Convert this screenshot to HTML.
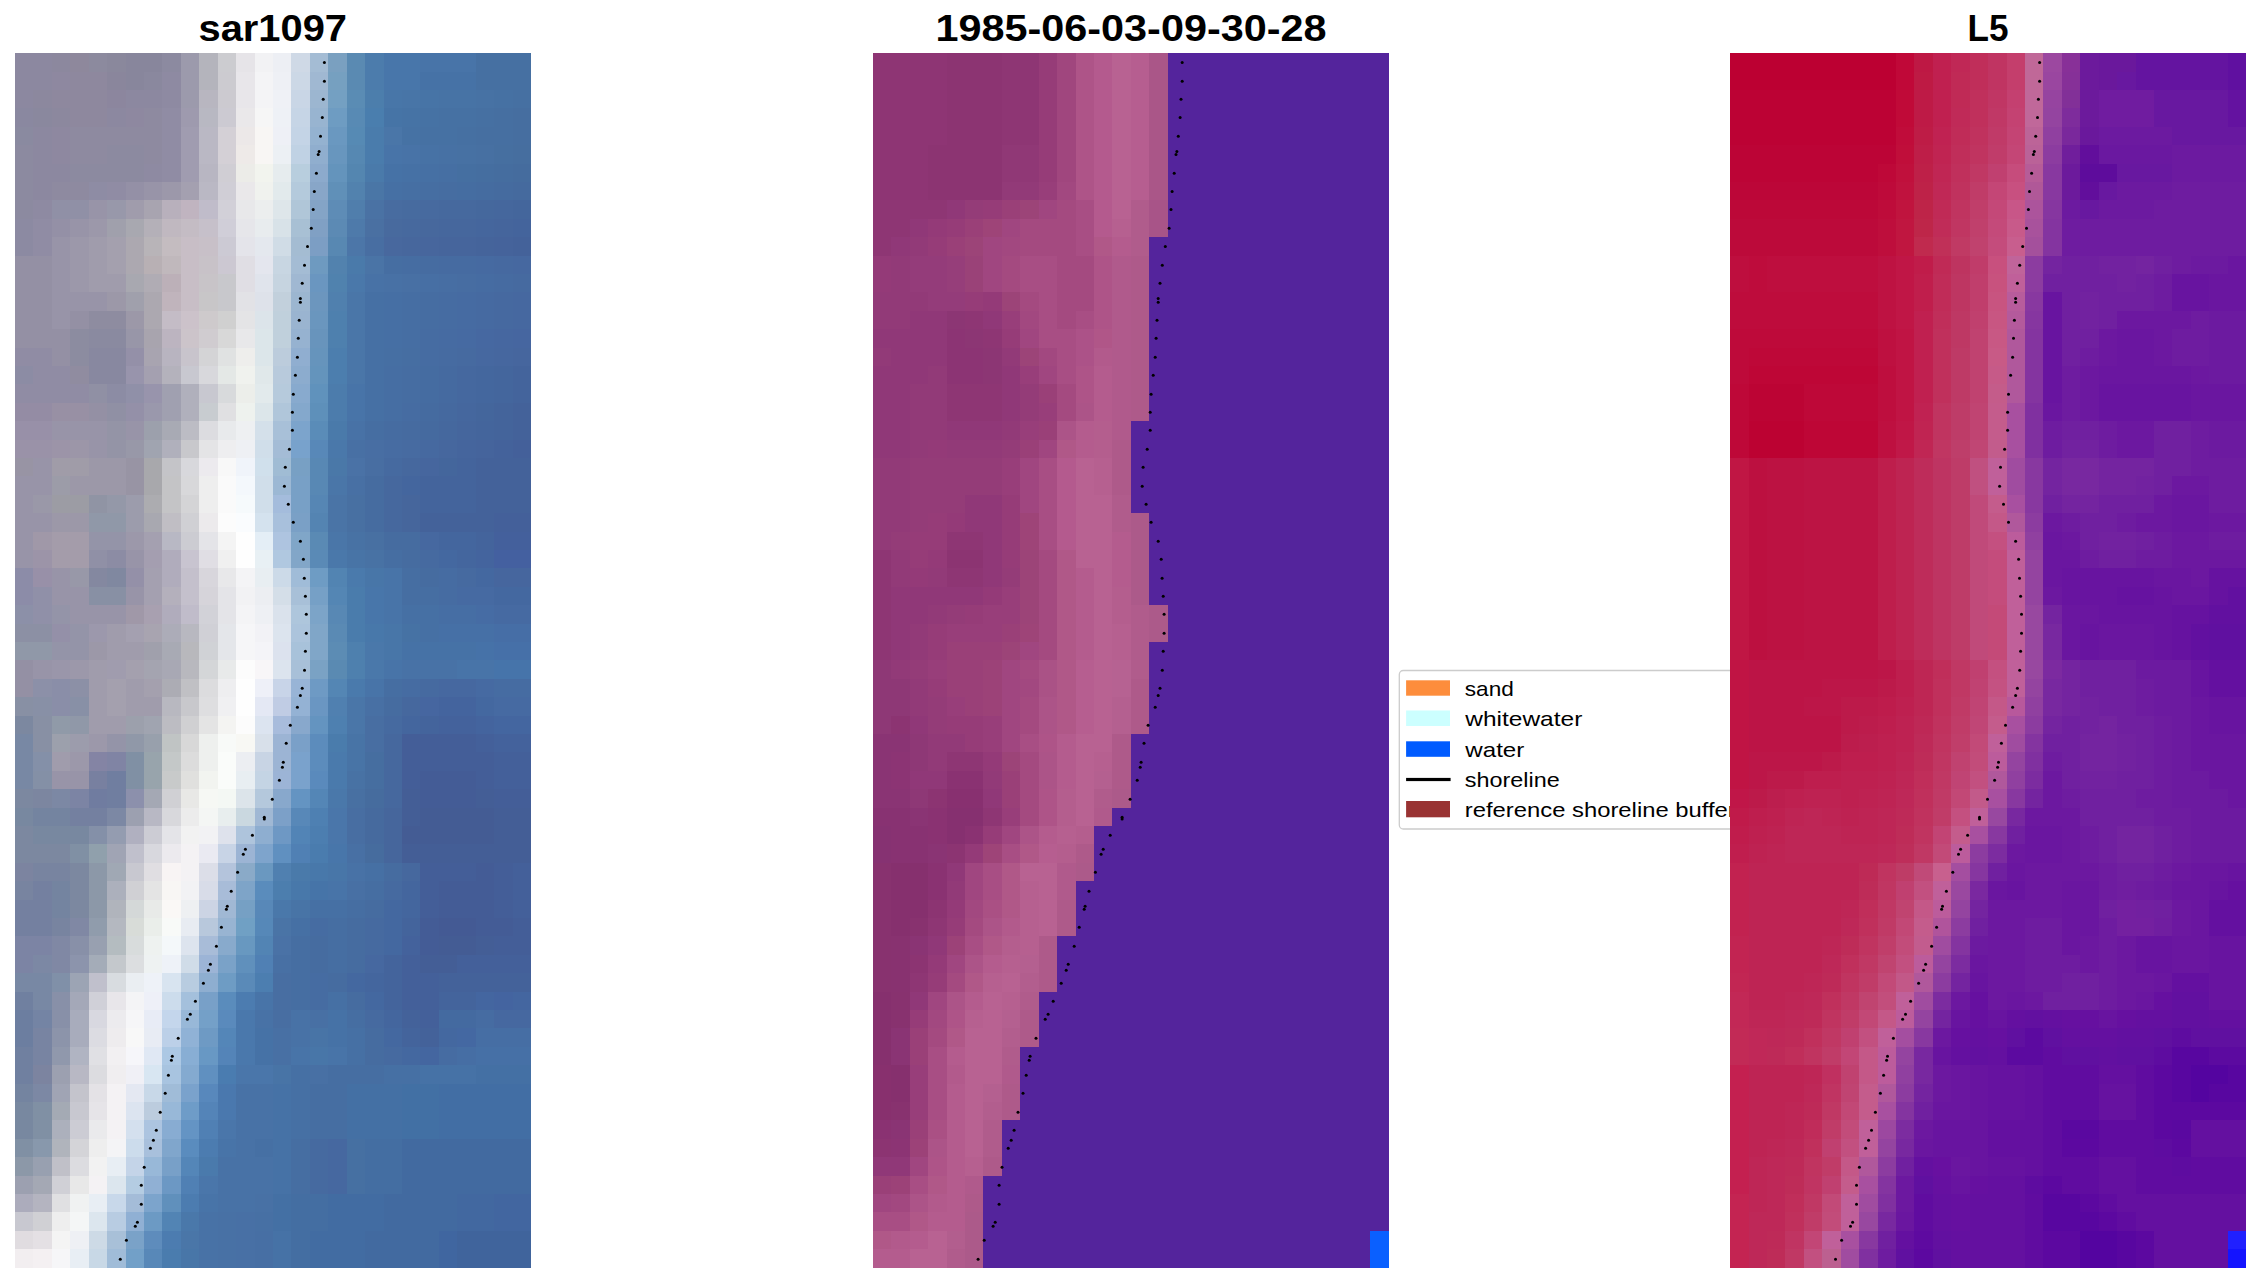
<!DOCTYPE html>
<html><head><meta charset="utf-8"><style>
html,body{margin:0;padding:0;background:#fff;width:2260px;height:1283px;overflow:hidden}
svg{display:block}
text{font-family:"Liberation Sans",sans-serif}
</style></head><body>
<svg width="2260" height="1283" viewBox="0 0 2260 1283">
<rect width="2260" height="1283" fill="#fff"/>
<text x="198.5" y="41.2" font-size="36" font-weight="bold" textLength="148.5" lengthAdjust="spacingAndGlyphs">sar1097</text>
<text x="935.5" y="41.3" font-size="36" font-weight="bold" textLength="391" lengthAdjust="spacingAndGlyphs">1985-06-03-09-30-28</text>
<text x="1967.5" y="40.8" font-size="36" font-weight="bold" textLength="41" lengthAdjust="spacingAndGlyphs">L5</text>
<g>
<rect x="1399.3" y="670.5" width="400" height="158.5" rx="4" ry="4" fill="#fff" fill-opacity="0.8" stroke="#cccccc" stroke-width="1.3"/>
<rect x="1406.1" y="680.3" width="43.9" height="15.4" fill="#fd8d3c"/>
<rect x="1406.1" y="710.5" width="43.9" height="15.5" fill="#ccffff"/>
<rect x="1406.1" y="741.3" width="43.9" height="15.5" fill="#005bff"/>
<rect x="1406.1" y="777.9" width="44.5" height="3.2" fill="#000"/>
<rect x="1406.1" y="801" width="43.9" height="16.3" fill="#993333"/>
<g font-size="21">
<text x="1464.8" y="695.7" textLength="49" lengthAdjust="spacingAndGlyphs">sand</text>
<text x="1465.3" y="726" textLength="117" lengthAdjust="spacingAndGlyphs">whitewater</text>
<text x="1465.3" y="756.8" textLength="59" lengthAdjust="spacingAndGlyphs">water</text>
<text x="1464.8" y="787" textLength="95" lengthAdjust="spacingAndGlyphs">shoreline</text>
<text x="1464.8" y="817.3" textLength="271" lengthAdjust="spacingAndGlyphs">reference shoreline buffer</text>
</g>
</g>
<g transform="translate(15.0,53.2) scale(18.428571428571427,18.400000000000002)" shape-rendering="crispEdges"><rect x="0" y="0" width="2" height="1" fill="#8c88a0"/><rect x="2" y="0" width="1" height="1" fill="#8c889e"/><rect x="3" y="0" width="1" height="1" fill="#8e889c"/><rect x="4" y="0" width="1" height="1" fill="#8c8a9e"/><rect x="5" y="0" width="1" height="1" fill="#8a889c"/><rect x="6" y="0" width="2" height="1" fill="#88869c"/><rect x="8" y="0" width="1" height="1" fill="#8c8aa0"/><rect x="9" y="0" width="1" height="1" fill="#9c9aac"/><rect x="10" y="0" width="1" height="1" fill="#b4b4bc"/><rect x="11" y="0" width="1" height="1" fill="#ccccd0"/><rect x="12" y="0" width="1" height="1" fill="#e6e4e8"/><rect x="13" y="0" width="1" height="1" fill="#f2f2f4"/><rect x="14" y="0" width="1" height="1" fill="#edeff4"/><rect x="15" y="0" width="1" height="1" fill="#cfd9e6"/><rect x="16" y="0" width="1" height="1" fill="#a4bcd4"/><rect x="17" y="0" width="1" height="1" fill="#7aa0c0"/><rect x="18" y="0" width="1" height="1" fill="#5a8ab2"/><rect x="19" y="0" width="1" height="1" fill="#4c7cac"/><rect x="20" y="0" width="2" height="1" fill="#4876aa"/><rect x="22" y="0" width="3" height="1" fill="#4874a8"/><rect x="25" y="0" width="3" height="1" fill="#4670a2"/><rect x="0" y="1" width="2" height="1" fill="#8c88a0"/><rect x="2" y="1" width="1" height="1" fill="#8e88a0"/><rect x="3" y="1" width="2" height="1" fill="#8e889e"/><rect x="5" y="1" width="1" height="1" fill="#8a869c"/><rect x="6" y="1" width="1" height="1" fill="#88869c"/><rect x="7" y="1" width="1" height="1" fill="#8a889e"/><rect x="8" y="1" width="1" height="1" fill="#8e8aa2"/><rect x="9" y="1" width="1" height="1" fill="#9c9aac"/><rect x="10" y="1" width="1" height="1" fill="#b4b4bc"/><rect x="11" y="1" width="1" height="1" fill="#cccbd0"/><rect x="12" y="1" width="1" height="1" fill="#e8e6ea"/><rect x="13" y="1" width="1" height="1" fill="#f4f4f6"/><rect x="14" y="1" width="1" height="1" fill="#eef0f5"/><rect x="15" y="1" width="1" height="1" fill="#ccd8e6"/><rect x="16" y="1" width="1" height="1" fill="#a0b8d2"/><rect x="17" y="1" width="1" height="1" fill="#76a0c0"/><rect x="18" y="1" width="1" height="1" fill="#5a8ab2"/><rect x="19" y="1" width="1" height="1" fill="#4c7cac"/><rect x="20" y="1" width="2" height="1" fill="#4876aa"/><rect x="22" y="1" width="3" height="1" fill="#4672a6"/><rect x="25" y="1" width="3" height="1" fill="#4670a2"/><rect x="0" y="2" width="1" height="1" fill="#8c88a0"/><rect x="1" y="2" width="1" height="1" fill="#8c889e"/><rect x="2" y="2" width="3" height="1" fill="#8e889e"/><rect x="5" y="2" width="1" height="1" fill="#8c869e"/><rect x="6" y="2" width="2" height="1" fill="#8c88a0"/><rect x="8" y="2" width="1" height="1" fill="#8e8aa2"/><rect x="9" y="2" width="1" height="1" fill="#9c9aac"/><rect x="10" y="2" width="1" height="1" fill="#b8b6c0"/><rect x="11" y="2" width="1" height="1" fill="#cccad0"/><rect x="12" y="2" width="1" height="1" fill="#e8e6ea"/><rect x="13" y="2" width="1" height="1" fill="#f4f4f6"/><rect x="14" y="2" width="1" height="1" fill="#eff1f6"/><rect x="15" y="2" width="1" height="1" fill="#c9d6e6"/><rect x="16" y="2" width="1" height="1" fill="#9cb6d0"/><rect x="17" y="2" width="1" height="1" fill="#74a0c2"/><rect x="18" y="2" width="1" height="1" fill="#5a8cb4"/><rect x="19" y="2" width="1" height="1" fill="#4c7eac"/><rect x="20" y="2" width="1" height="1" fill="#4876a8"/><rect x="21" y="2" width="1" height="1" fill="#4875a7"/><rect x="22" y="2" width="1" height="1" fill="#4774a6"/><rect x="23" y="2" width="2" height="1" fill="#4773a5"/><rect x="25" y="2" width="1" height="1" fill="#4772a4"/><rect x="26" y="2" width="1" height="1" fill="#4671a3"/><rect x="27" y="2" width="1" height="1" fill="#4670a2"/><rect x="0" y="3" width="1" height="1" fill="#8a88a0"/><rect x="1" y="3" width="1" height="1" fill="#8a889e"/><rect x="2" y="3" width="1" height="1" fill="#8c889e"/><rect x="3" y="3" width="2" height="1" fill="#8e889e"/><rect x="5" y="3" width="1" height="1" fill="#8c88a0"/><rect x="6" y="3" width="1" height="1" fill="#8e88a0"/><rect x="7" y="3" width="1" height="1" fill="#8e8aa0"/><rect x="8" y="3" width="1" height="1" fill="#908ca4"/><rect x="9" y="3" width="1" height="1" fill="#9e9aae"/><rect x="10" y="3" width="1" height="1" fill="#b8b8c2"/><rect x="11" y="3" width="1" height="1" fill="#cccad2"/><rect x="12" y="3" width="1" height="1" fill="#eae8ea"/><rect x="13" y="3" width="1" height="1" fill="#f6f6f6"/><rect x="14" y="3" width="1" height="1" fill="#eef1f6"/><rect x="15" y="3" width="1" height="1" fill="#c6d5e6"/><rect x="16" y="3" width="1" height="1" fill="#98b4d0"/><rect x="17" y="3" width="1" height="1" fill="#6e9cc2"/><rect x="18" y="3" width="1" height="1" fill="#588ab4"/><rect x="19" y="3" width="1" height="1" fill="#4a7eae"/><rect x="20" y="3" width="1" height="1" fill="#4674a6"/><rect x="21" y="3" width="1" height="1" fill="#4673a5"/><rect x="22" y="3" width="1" height="1" fill="#4672a4"/><rect x="23" y="3" width="2" height="1" fill="#4671a3"/><rect x="25" y="3" width="1" height="1" fill="#4670a2"/><rect x="26" y="3" width="1" height="1" fill="#466fa1"/><rect x="27" y="3" width="1" height="1" fill="#466ea0"/><rect x="0" y="4" width="1" height="1" fill="#8a8aa0"/><rect x="1" y="4" width="1" height="1" fill="#8c88a0"/><rect x="2" y="4" width="1" height="1" fill="#8e88a0"/><rect x="3" y="4" width="5" height="1" fill="#8e8aa0"/><rect x="8" y="4" width="1" height="1" fill="#908ca4"/><rect x="9" y="4" width="1" height="1" fill="#a09cb0"/><rect x="10" y="4" width="1" height="1" fill="#bab8c4"/><rect x="11" y="4" width="1" height="1" fill="#d4d0d6"/><rect x="12" y="4" width="1" height="1" fill="#ece8e8"/><rect x="13" y="4" width="1" height="1" fill="#f8f6f4"/><rect x="14" y="4" width="1" height="1" fill="#eef0f6"/><rect x="15" y="4" width="1" height="1" fill="#c4d4e6"/><rect x="16" y="4" width="1" height="1" fill="#94b2d0"/><rect x="17" y="4" width="1" height="1" fill="#6a98c0"/><rect x="18" y="4" width="1" height="1" fill="#568ab4"/><rect x="19" y="4" width="1" height="1" fill="#4a7cac"/><rect x="20" y="4" width="1" height="1" fill="#4a76a8"/><rect x="21" y="4" width="1" height="1" fill="#4672a4"/><rect x="22" y="4" width="2" height="1" fill="#4671a3"/><rect x="24" y="4" width="1" height="1" fill="#4670a2"/><rect x="25" y="4" width="2" height="1" fill="#466fa1"/><rect x="27" y="4" width="1" height="1" fill="#466ea0"/><rect x="0" y="5" width="1" height="1" fill="#8c8aa0"/><rect x="1" y="5" width="1" height="1" fill="#8c88a0"/><rect x="2" y="5" width="1" height="1" fill="#8e88a0"/><rect x="3" y="5" width="2" height="1" fill="#8e8aa0"/><rect x="5" y="5" width="2" height="1" fill="#8c8aa0"/><rect x="7" y="5" width="1" height="1" fill="#8e8aa0"/><rect x="8" y="5" width="1" height="1" fill="#908ca4"/><rect x="9" y="5" width="1" height="1" fill="#a09cb0"/><rect x="10" y="5" width="1" height="1" fill="#bab8c4"/><rect x="11" y="5" width="1" height="1" fill="#d4d0d6"/><rect x="12" y="5" width="1" height="1" fill="#eeeae8"/><rect x="13" y="5" width="1" height="1" fill="#f8f6f4"/><rect x="14" y="5" width="1" height="1" fill="#ecf0f4"/><rect x="15" y="5" width="1" height="1" fill="#c0d2e4"/><rect x="16" y="5" width="1" height="1" fill="#90aece"/><rect x="17" y="5" width="1" height="1" fill="#6896be"/><rect x="18" y="5" width="1" height="1" fill="#5688b2"/><rect x="19" y="5" width="1" height="1" fill="#4a7cac"/><rect x="20" y="5" width="1" height="1" fill="#4874a8"/><rect x="21" y="5" width="1" height="1" fill="#4873a7"/><rect x="22" y="5" width="1" height="1" fill="#4772a5"/><rect x="23" y="5" width="1" height="1" fill="#4771a4"/><rect x="24" y="5" width="1" height="1" fill="#4771a3"/><rect x="25" y="5" width="1" height="1" fill="#4770a2"/><rect x="26" y="5" width="1" height="1" fill="#466fa0"/><rect x="27" y="5" width="1" height="1" fill="#466e9f"/><rect x="0" y="6" width="1" height="1" fill="#8c8aa0"/><rect x="1" y="6" width="2" height="1" fill="#8c88a0"/><rect x="3" y="6" width="4" height="1" fill="#8c8aa0"/><rect x="7" y="6" width="1" height="1" fill="#8e8aa2"/><rect x="8" y="6" width="1" height="1" fill="#908ca4"/><rect x="9" y="6" width="1" height="1" fill="#a09cb0"/><rect x="10" y="6" width="1" height="1" fill="#b8b6c2"/><rect x="11" y="6" width="1" height="1" fill="#d0ced4"/><rect x="12" y="6" width="1" height="1" fill="#ecece8"/><rect x="13" y="6" width="1" height="1" fill="#f2f4ee"/><rect x="14" y="6" width="1" height="1" fill="#e6ecee"/><rect x="15" y="6" width="1" height="1" fill="#b8cede"/><rect x="16" y="6" width="1" height="1" fill="#8caacc"/><rect x="17" y="6" width="1" height="1" fill="#6494bc"/><rect x="18" y="6" width="1" height="1" fill="#5486b0"/><rect x="19" y="6" width="1" height="1" fill="#4a7aaa"/><rect x="20" y="6" width="1" height="1" fill="#4672a6"/><rect x="21" y="6" width="1" height="1" fill="#4671a5"/><rect x="22" y="6" width="1" height="1" fill="#4670a4"/><rect x="23" y="6" width="1" height="1" fill="#466fa3"/><rect x="24" y="6" width="1" height="1" fill="#456fa1"/><rect x="25" y="6" width="1" height="1" fill="#456ea0"/><rect x="26" y="6" width="1" height="1" fill="#456d9f"/><rect x="27" y="6" width="1" height="1" fill="#456c9e"/><rect x="0" y="7" width="1" height="1" fill="#8c8aa0"/><rect x="1" y="7" width="1" height="1" fill="#8c88a0"/><rect x="2" y="7" width="2" height="1" fill="#8e8aa0"/><rect x="4" y="7" width="1" height="1" fill="#8e8ca4"/><rect x="5" y="7" width="1" height="1" fill="#908ca4"/><rect x="6" y="7" width="1" height="1" fill="#9490a6"/><rect x="7" y="7" width="1" height="1" fill="#9894a8"/><rect x="8" y="7" width="1" height="1" fill="#9c98aa"/><rect x="9" y="7" width="1" height="1" fill="#a4a0b0"/><rect x="10" y="7" width="1" height="1" fill="#bab8c4"/><rect x="11" y="7" width="1" height="1" fill="#d0ced6"/><rect x="12" y="7" width="1" height="1" fill="#eae8ea"/><rect x="13" y="7" width="1" height="1" fill="#f0f2ee"/><rect x="14" y="7" width="1" height="1" fill="#e2eaec"/><rect x="15" y="7" width="1" height="1" fill="#b4cadc"/><rect x="16" y="7" width="1" height="1" fill="#88a6c8"/><rect x="17" y="7" width="1" height="1" fill="#6090b8"/><rect x="18" y="7" width="1" height="1" fill="#5282ae"/><rect x="19" y="7" width="1" height="1" fill="#4a76a6"/><rect x="20" y="7" width="1" height="1" fill="#4670a4"/><rect x="21" y="7" width="1" height="1" fill="#466fa3"/><rect x="22" y="7" width="1" height="1" fill="#466ea2"/><rect x="23" y="7" width="1" height="1" fill="#466da1"/><rect x="24" y="7" width="1" height="1" fill="#456da1"/><rect x="25" y="7" width="1" height="1" fill="#456ca0"/><rect x="26" y="7" width="1" height="1" fill="#456b9f"/><rect x="27" y="7" width="1" height="1" fill="#456a9e"/><rect x="0" y="8" width="1" height="1" fill="#8c8aa0"/><rect x="1" y="8" width="1" height="1" fill="#8e8aa2"/><rect x="2" y="8" width="2" height="1" fill="#9090a6"/><rect x="4" y="8" width="1" height="1" fill="#9894a8"/><rect x="5" y="8" width="1" height="1" fill="#9898aa"/><rect x="6" y="8" width="1" height="1" fill="#a09cac"/><rect x="7" y="8" width="1" height="1" fill="#a8a4b0"/><rect x="8" y="8" width="1" height="1" fill="#b8b0bc"/><rect x="9" y="8" width="1" height="1" fill="#c0b4c0"/><rect x="10" y="8" width="1" height="1" fill="#c0bcca"/><rect x="11" y="8" width="1" height="1" fill="#d2d0d8"/><rect x="12" y="8" width="1" height="1" fill="#e8e8ea"/><rect x="13" y="8" width="1" height="1" fill="#eceeee"/><rect x="14" y="8" width="1" height="1" fill="#dee6ea"/><rect x="15" y="8" width="1" height="1" fill="#b0c6d8"/><rect x="16" y="8" width="1" height="1" fill="#84a4c6"/><rect x="17" y="8" width="1" height="1" fill="#5e8cb6"/><rect x="18" y="8" width="1" height="1" fill="#507eac"/><rect x="19" y="8" width="1" height="1" fill="#4a72a4"/><rect x="20" y="8" width="1" height="1" fill="#486ca0"/><rect x="21" y="8" width="1" height="1" fill="#476b9f"/><rect x="22" y="8" width="1" height="1" fill="#476a9f"/><rect x="23" y="8" width="2" height="1" fill="#46699e"/><rect x="25" y="8" width="1" height="1" fill="#45689d"/><rect x="26" y="8" width="1" height="1" fill="#45679d"/><rect x="27" y="8" width="1" height="1" fill="#44669c"/><rect x="0" y="9" width="1" height="1" fill="#8c8aa2"/><rect x="1" y="9" width="1" height="1" fill="#908ca4"/><rect x="2" y="9" width="1" height="1" fill="#9490a6"/><rect x="3" y="9" width="1" height="1" fill="#9894a8"/><rect x="4" y="9" width="1" height="1" fill="#9c98aa"/><rect x="5" y="9" width="1" height="1" fill="#a0a0ac"/><rect x="6" y="9" width="1" height="1" fill="#a8a8b0"/><rect x="7" y="9" width="1" height="1" fill="#b4b0b8"/><rect x="8" y="9" width="1" height="1" fill="#c0b8c0"/><rect x="9" y="9" width="1" height="1" fill="#c4bcc4"/><rect x="10" y="9" width="1" height="1" fill="#c6c0ca"/><rect x="11" y="9" width="1" height="1" fill="#d0ced8"/><rect x="12" y="9" width="1" height="1" fill="#e6e6ea"/><rect x="13" y="9" width="1" height="1" fill="#e8ecee"/><rect x="14" y="9" width="1" height="1" fill="#d8e2e8"/><rect x="15" y="9" width="1" height="1" fill="#a8c0d4"/><rect x="16" y="9" width="1" height="1" fill="#80a0c4"/><rect x="17" y="9" width="1" height="1" fill="#5c8ab4"/><rect x="18" y="9" width="1" height="1" fill="#4e7aaa"/><rect x="19" y="9" width="1" height="1" fill="#4a70a2"/><rect x="20" y="9" width="1" height="1" fill="#486a9e"/><rect x="21" y="9" width="1" height="1" fill="#47699e"/><rect x="22" y="9" width="1" height="1" fill="#47689d"/><rect x="23" y="9" width="2" height="1" fill="#46679d"/><rect x="25" y="9" width="1" height="1" fill="#45669d"/><rect x="26" y="9" width="1" height="1" fill="#45659c"/><rect x="27" y="9" width="1" height="1" fill="#44649c"/><rect x="0" y="10" width="1" height="1" fill="#8c8aa2"/><rect x="1" y="10" width="1" height="1" fill="#908ca4"/><rect x="2" y="10" width="1" height="1" fill="#9894a8"/><rect x="3" y="10" width="1" height="1" fill="#9c98aa"/><rect x="4" y="10" width="1" height="1" fill="#a09cac"/><rect x="5" y="10" width="1" height="1" fill="#a4a0ae"/><rect x="6" y="10" width="1" height="1" fill="#aca8b0"/><rect x="7" y="10" width="1" height="1" fill="#b8b4b8"/><rect x="8" y="10" width="1" height="1" fill="#c4bcc0"/><rect x="9" y="10" width="1" height="1" fill="#c8bec6"/><rect x="10" y="10" width="1" height="1" fill="#c8c0c8"/><rect x="11" y="10" width="1" height="1" fill="#cccad4"/><rect x="12" y="10" width="1" height="1" fill="#e4e4ea"/><rect x="13" y="10" width="1" height="1" fill="#e4e8ee"/><rect x="14" y="10" width="1" height="1" fill="#d0dce6"/><rect x="15" y="10" width="1" height="1" fill="#a4bcd2"/><rect x="16" y="10" width="1" height="1" fill="#7c9ec4"/><rect x="17" y="10" width="1" height="1" fill="#5888b2"/><rect x="18" y="10" width="1" height="1" fill="#4c76a8"/><rect x="19" y="10" width="1" height="1" fill="#486ea2"/><rect x="20" y="10" width="1" height="1" fill="#48689e"/><rect x="21" y="10" width="1" height="1" fill="#47679d"/><rect x="22" y="10" width="1" height="1" fill="#47669d"/><rect x="23" y="10" width="2" height="1" fill="#46659c"/><rect x="25" y="10" width="1" height="1" fill="#45649b"/><rect x="26" y="10" width="1" height="1" fill="#45639b"/><rect x="27" y="10" width="1" height="1" fill="#44629a"/><rect x="0" y="11" width="2" height="1" fill="#9490a4"/><rect x="2" y="11" width="1" height="1" fill="#9894a8"/><rect x="3" y="11" width="1" height="1" fill="#9c98aa"/><rect x="4" y="11" width="1" height="1" fill="#a09cac"/><rect x="5" y="11" width="1" height="1" fill="#a4a0ae"/><rect x="6" y="11" width="1" height="1" fill="#aca8b0"/><rect x="7" y="11" width="1" height="1" fill="#b8b0b4"/><rect x="8" y="11" width="1" height="1" fill="#c0b8bc"/><rect x="9" y="11" width="1" height="1" fill="#c8bec6"/><rect x="10" y="11" width="1" height="1" fill="#c8c2c8"/><rect x="11" y="11" width="1" height="1" fill="#ccc8d2"/><rect x="12" y="11" width="1" height="1" fill="#e0dee4"/><rect x="13" y="11" width="1" height="1" fill="#e4e6ee"/><rect x="14" y="11" width="1" height="1" fill="#c8d6e2"/><rect x="15" y="11" width="1" height="1" fill="#a4bcd4"/><rect x="16" y="11" width="1" height="1" fill="#6e9ac0"/><rect x="17" y="11" width="1" height="1" fill="#5282ae"/><rect x="18" y="11" width="1" height="1" fill="#4a7aaa"/><rect x="19" y="11" width="1" height="1" fill="#4a74a6"/><rect x="20" y="11" width="1" height="1" fill="#466ea2"/><rect x="21" y="11" width="1" height="1" fill="#466da2"/><rect x="22" y="11" width="1" height="1" fill="#466ca1"/><rect x="23" y="11" width="2" height="1" fill="#466ba1"/><rect x="25" y="11" width="1" height="1" fill="#466aa1"/><rect x="26" y="11" width="1" height="1" fill="#4669a0"/><rect x="27" y="11" width="1" height="1" fill="#4668a0"/><rect x="0" y="12" width="2" height="1" fill="#9490a4"/><rect x="2" y="12" width="1" height="1" fill="#9894a8"/><rect x="3" y="12" width="1" height="1" fill="#9c98aa"/><rect x="4" y="12" width="2" height="1" fill="#a09cac"/><rect x="6" y="12" width="1" height="1" fill="#a8a8b0"/><rect x="7" y="12" width="1" height="1" fill="#b0acb4"/><rect x="8" y="12" width="1" height="1" fill="#bcb0b8"/><rect x="9" y="12" width="1" height="1" fill="#c8bec6"/><rect x="10" y="12" width="1" height="1" fill="#c8c4c8"/><rect x="11" y="12" width="1" height="1" fill="#c8c8cc"/><rect x="12" y="12" width="1" height="1" fill="#e0dee4"/><rect x="13" y="12" width="1" height="1" fill="#e0e4ec"/><rect x="14" y="12" width="1" height="1" fill="#c6d4e0"/><rect x="15" y="12" width="1" height="1" fill="#a0b8d2"/><rect x="16" y="12" width="1" height="1" fill="#6a96c0"/><rect x="17" y="12" width="1" height="1" fill="#5082ae"/><rect x="18" y="12" width="1" height="1" fill="#4a78aa"/><rect x="19" y="12" width="1" height="1" fill="#4872a6"/><rect x="20" y="12" width="1" height="1" fill="#4871a5"/><rect x="21" y="12" width="1" height="1" fill="#4870a4"/><rect x="22" y="12" width="1" height="1" fill="#476fa4"/><rect x="23" y="12" width="1" height="1" fill="#476ea3"/><rect x="24" y="12" width="1" height="1" fill="#476da2"/><rect x="25" y="12" width="1" height="1" fill="#466ca2"/><rect x="26" y="12" width="1" height="1" fill="#466ba1"/><rect x="27" y="12" width="1" height="1" fill="#466aa0"/><rect x="0" y="13" width="2" height="1" fill="#9490a4"/><rect x="2" y="13" width="3" height="1" fill="#9894a8"/><rect x="5" y="13" width="1" height="1" fill="#9c98a8"/><rect x="6" y="13" width="1" height="1" fill="#a0a0ac"/><rect x="7" y="13" width="1" height="1" fill="#aca8b0"/><rect x="8" y="13" width="1" height="1" fill="#c0b4bc"/><rect x="9" y="13" width="1" height="1" fill="#c8bec6"/><rect x="10" y="13" width="1" height="1" fill="#c8c6c8"/><rect x="11" y="13" width="1" height="1" fill="#c8c8cc"/><rect x="12" y="13" width="1" height="1" fill="#e2e2e6"/><rect x="13" y="13" width="1" height="1" fill="#dee2ea"/><rect x="14" y="13" width="1" height="1" fill="#c2d0dc"/><rect x="15" y="13" width="1" height="1" fill="#9cb6d0"/><rect x="16" y="13" width="1" height="1" fill="#6c96be"/><rect x="17" y="13" width="1" height="1" fill="#5080ae"/><rect x="18" y="13" width="1" height="1" fill="#4a76a8"/><rect x="19" y="13" width="1" height="1" fill="#4670a4"/><rect x="20" y="13" width="1" height="1" fill="#466fa4"/><rect x="21" y="13" width="1" height="1" fill="#466ea3"/><rect x="22" y="13" width="1" height="1" fill="#466da2"/><rect x="23" y="13" width="1" height="1" fill="#466ca2"/><rect x="24" y="13" width="1" height="1" fill="#466ba2"/><rect x="25" y="13" width="1" height="1" fill="#466aa1"/><rect x="26" y="13" width="1" height="1" fill="#4669a0"/><rect x="27" y="13" width="1" height="1" fill="#4668a0"/><rect x="0" y="14" width="2" height="1" fill="#9490a4"/><rect x="2" y="14" width="1" height="1" fill="#9894a8"/><rect x="3" y="14" width="1" height="1" fill="#9490a4"/><rect x="4" y="14" width="2" height="1" fill="#8e8ca0"/><rect x="6" y="14" width="1" height="1" fill="#9c98a8"/><rect x="7" y="14" width="1" height="1" fill="#aca8b0"/><rect x="8" y="14" width="1" height="1" fill="#c4bcc6"/><rect x="9" y="14" width="1" height="1" fill="#ccc2ca"/><rect x="10" y="14" width="1" height="1" fill="#cecacc"/><rect x="11" y="14" width="1" height="1" fill="#d0d0d0"/><rect x="12" y="14" width="1" height="1" fill="#e4e4e6"/><rect x="13" y="14" width="1" height="1" fill="#dce4ea"/><rect x="14" y="14" width="1" height="1" fill="#c0d0dc"/><rect x="15" y="14" width="1" height="1" fill="#9ab4d0"/><rect x="16" y="14" width="1" height="1" fill="#6a96be"/><rect x="17" y="14" width="1" height="1" fill="#4e80ae"/><rect x="18" y="14" width="1" height="1" fill="#4a76a8"/><rect x="19" y="14" width="1" height="1" fill="#4670a4"/><rect x="20" y="14" width="1" height="1" fill="#466fa4"/><rect x="21" y="14" width="1" height="1" fill="#466ea3"/><rect x="22" y="14" width="1" height="1" fill="#466da2"/><rect x="23" y="14" width="1" height="1" fill="#466ca2"/><rect x="24" y="14" width="1" height="1" fill="#466ba2"/><rect x="25" y="14" width="1" height="1" fill="#466aa1"/><rect x="26" y="14" width="1" height="1" fill="#4669a0"/><rect x="27" y="14" width="1" height="1" fill="#4668a0"/><rect x="0" y="15" width="3" height="1" fill="#9490a4"/><rect x="3" y="15" width="1" height="1" fill="#8c8ca0"/><rect x="4" y="15" width="2" height="1" fill="#8a8aa0"/><rect x="6" y="15" width="1" height="1" fill="#9896a8"/><rect x="7" y="15" width="1" height="1" fill="#a8a4ae"/><rect x="8" y="15" width="1" height="1" fill="#bcb4c0"/><rect x="9" y="15" width="1" height="1" fill="#ccc4ca"/><rect x="10" y="15" width="1" height="1" fill="#d0ccd0"/><rect x="11" y="15" width="1" height="1" fill="#d8d8d8"/><rect x="12" y="15" width="1" height="1" fill="#e8e8ea"/><rect x="13" y="15" width="1" height="1" fill="#dce6ea"/><rect x="14" y="15" width="1" height="1" fill="#c0d0dc"/><rect x="15" y="15" width="1" height="1" fill="#96b2d0"/><rect x="16" y="15" width="1" height="1" fill="#6894bc"/><rect x="17" y="15" width="1" height="1" fill="#4e80ae"/><rect x="18" y="15" width="1" height="1" fill="#4a76a8"/><rect x="19" y="15" width="1" height="1" fill="#4670a4"/><rect x="20" y="15" width="1" height="1" fill="#466fa4"/><rect x="21" y="15" width="1" height="1" fill="#466ea3"/><rect x="22" y="15" width="1" height="1" fill="#466ca2"/><rect x="23" y="15" width="1" height="1" fill="#466ba2"/><rect x="24" y="15" width="1" height="1" fill="#466aa2"/><rect x="25" y="15" width="1" height="1" fill="#4668a1"/><rect x="26" y="15" width="1" height="1" fill="#4667a0"/><rect x="27" y="15" width="1" height="1" fill="#4666a0"/><rect x="0" y="16" width="2" height="1" fill="#908ca4"/><rect x="2" y="16" width="1" height="1" fill="#9490a4"/><rect x="3" y="16" width="1" height="1" fill="#8c8ca0"/><rect x="4" y="16" width="2" height="1" fill="#8888a0"/><rect x="6" y="16" width="1" height="1" fill="#9490a8"/><rect x="7" y="16" width="1" height="1" fill="#a8a4b0"/><rect x="8" y="16" width="1" height="1" fill="#b8b4c0"/><rect x="9" y="16" width="1" height="1" fill="#c8c4cc"/><rect x="10" y="16" width="1" height="1" fill="#d4d4d6"/><rect x="11" y="16" width="1" height="1" fill="#e0e2e2"/><rect x="12" y="16" width="1" height="1" fill="#eeeeec"/><rect x="13" y="16" width="1" height="1" fill="#dce6ea"/><rect x="14" y="16" width="1" height="1" fill="#bcccdc"/><rect x="15" y="16" width="1" height="1" fill="#90aed0"/><rect x="16" y="16" width="1" height="1" fill="#6694bc"/><rect x="17" y="16" width="1" height="1" fill="#4c7eae"/><rect x="18" y="16" width="1" height="1" fill="#4a76a8"/><rect x="19" y="16" width="1" height="1" fill="#4670a4"/><rect x="20" y="16" width="1" height="1" fill="#466fa3"/><rect x="21" y="16" width="1" height="1" fill="#466ea2"/><rect x="22" y="16" width="1" height="1" fill="#466ca2"/><rect x="23" y="16" width="1" height="1" fill="#466ba1"/><rect x="24" y="16" width="1" height="1" fill="#466aa0"/><rect x="25" y="16" width="1" height="1" fill="#4668a0"/><rect x="26" y="16" width="1" height="1" fill="#46679f"/><rect x="27" y="16" width="1" height="1" fill="#46669e"/><rect x="0" y="17" width="1" height="1" fill="#8c8ca4"/><rect x="1" y="17" width="2" height="1" fill="#908ca4"/><rect x="3" y="17" width="1" height="1" fill="#908ca0"/><rect x="4" y="17" width="2" height="1" fill="#8888a0"/><rect x="6" y="17" width="1" height="1" fill="#9894ac"/><rect x="7" y="17" width="1" height="1" fill="#a4a0b0"/><rect x="8" y="17" width="1" height="1" fill="#b4b2bc"/><rect x="9" y="17" width="1" height="1" fill="#c8c8d0"/><rect x="10" y="17" width="1" height="1" fill="#d8d8dc"/><rect x="11" y="17" width="1" height="1" fill="#e4e8e6"/><rect x="12" y="17" width="1" height="1" fill="#f0f2ee"/><rect x="13" y="17" width="1" height="1" fill="#e0e8ea"/><rect x="14" y="17" width="1" height="1" fill="#b8cadc"/><rect x="15" y="17" width="1" height="1" fill="#8cacce"/><rect x="16" y="17" width="1" height="1" fill="#6494bc"/><rect x="17" y="17" width="1" height="1" fill="#4c7eae"/><rect x="18" y="17" width="1" height="1" fill="#4a76a8"/><rect x="19" y="17" width="1" height="1" fill="#4670a4"/><rect x="20" y="17" width="1" height="1" fill="#466ea3"/><rect x="21" y="17" width="1" height="1" fill="#466da2"/><rect x="22" y="17" width="1" height="1" fill="#456ca1"/><rect x="23" y="17" width="1" height="1" fill="#456aa0"/><rect x="24" y="17" width="1" height="1" fill="#45689f"/><rect x="25" y="17" width="1" height="1" fill="#44679e"/><rect x="26" y="17" width="1" height="1" fill="#44669d"/><rect x="27" y="17" width="1" height="1" fill="#44649c"/><rect x="0" y="18" width="4" height="1" fill="#908ca4"/><rect x="4" y="18" width="1" height="1" fill="#9090a4"/><rect x="5" y="18" width="1" height="1" fill="#8c8ca4"/><rect x="6" y="18" width="1" height="1" fill="#9090a8"/><rect x="7" y="18" width="1" height="1" fill="#9894ac"/><rect x="8" y="18" width="1" height="1" fill="#a0a0b0"/><rect x="9" y="18" width="1" height="1" fill="#b0b0bc"/><rect x="10" y="18" width="1" height="1" fill="#c8c8d0"/><rect x="11" y="18" width="1" height="1" fill="#d8dadc"/><rect x="12" y="18" width="1" height="1" fill="#eceeea"/><rect x="13" y="18" width="1" height="1" fill="#e2eaec"/><rect x="14" y="18" width="1" height="1" fill="#b6cadc"/><rect x="15" y="18" width="1" height="1" fill="#88aace"/><rect x="16" y="18" width="1" height="1" fill="#6092bc"/><rect x="17" y="18" width="1" height="1" fill="#4c7cac"/><rect x="18" y="18" width="1" height="1" fill="#4874a8"/><rect x="19" y="18" width="1" height="1" fill="#4670a4"/><rect x="20" y="18" width="1" height="1" fill="#466ea3"/><rect x="21" y="18" width="1" height="1" fill="#466da2"/><rect x="22" y="18" width="1" height="1" fill="#456ca1"/><rect x="23" y="18" width="1" height="1" fill="#456aa0"/><rect x="24" y="18" width="1" height="1" fill="#45689f"/><rect x="25" y="18" width="1" height="1" fill="#44679e"/><rect x="26" y="18" width="1" height="1" fill="#44669d"/><rect x="27" y="18" width="1" height="1" fill="#44649c"/><rect x="0" y="19" width="2" height="1" fill="#948ca4"/><rect x="2" y="19" width="2" height="1" fill="#9890a4"/><rect x="4" y="19" width="1" height="1" fill="#9490a4"/><rect x="5" y="19" width="1" height="1" fill="#9090a4"/><rect x="6" y="19" width="1" height="1" fill="#9490a8"/><rect x="7" y="19" width="1" height="1" fill="#9a98ac"/><rect x="8" y="19" width="1" height="1" fill="#a0a0b0"/><rect x="9" y="19" width="1" height="1" fill="#b0b0bc"/><rect x="10" y="19" width="1" height="1" fill="#c8ccd0"/><rect x="11" y="19" width="1" height="1" fill="#e0e0e2"/><rect x="12" y="19" width="1" height="1" fill="#eef2ee"/><rect x="13" y="19" width="1" height="1" fill="#dce6ea"/><rect x="14" y="19" width="1" height="1" fill="#b0c6da"/><rect x="15" y="19" width="1" height="1" fill="#84a8cc"/><rect x="16" y="19" width="1" height="1" fill="#5e90ba"/><rect x="17" y="19" width="1" height="1" fill="#4c7cac"/><rect x="18" y="19" width="1" height="1" fill="#4874a8"/><rect x="19" y="19" width="1" height="1" fill="#4670a4"/><rect x="20" y="19" width="1" height="1" fill="#466ea3"/><rect x="21" y="19" width="1" height="1" fill="#466ca2"/><rect x="22" y="19" width="1" height="1" fill="#456ba0"/><rect x="23" y="19" width="1" height="1" fill="#45699f"/><rect x="24" y="19" width="1" height="1" fill="#45679e"/><rect x="25" y="19" width="1" height="1" fill="#44669c"/><rect x="26" y="19" width="1" height="1" fill="#44649b"/><rect x="27" y="19" width="1" height="1" fill="#44629a"/><rect x="0" y="20" width="2" height="1" fill="#9890a8"/><rect x="2" y="20" width="3" height="1" fill="#9894a8"/><rect x="5" y="20" width="1" height="1" fill="#9494a6"/><rect x="6" y="20" width="1" height="1" fill="#9894a8"/><rect x="7" y="20" width="1" height="1" fill="#9ca0ac"/><rect x="8" y="20" width="1" height="1" fill="#a8aab4"/><rect x="9" y="20" width="1" height="1" fill="#bcbcc4"/><rect x="10" y="20" width="1" height="1" fill="#dcdce0"/><rect x="11" y="20" width="1" height="1" fill="#e8eaec"/><rect x="12" y="20" width="1" height="1" fill="#eef0f2"/><rect x="13" y="20" width="1" height="1" fill="#d4e0ea"/><rect x="14" y="20" width="1" height="1" fill="#a8c0d8"/><rect x="15" y="20" width="1" height="1" fill="#7ca4cc"/><rect x="16" y="20" width="1" height="1" fill="#5a8cb8"/><rect x="17" y="20" width="1" height="1" fill="#4a7aaa"/><rect x="18" y="20" width="1" height="1" fill="#4872a6"/><rect x="19" y="20" width="1" height="1" fill="#466ea2"/><rect x="20" y="20" width="1" height="1" fill="#466ca1"/><rect x="21" y="20" width="1" height="1" fill="#466ba0"/><rect x="22" y="20" width="1" height="1" fill="#456a9f"/><rect x="23" y="20" width="1" height="1" fill="#45689e"/><rect x="24" y="20" width="1" height="1" fill="#45669d"/><rect x="25" y="20" width="1" height="1" fill="#44659c"/><rect x="26" y="20" width="1" height="1" fill="#44649b"/><rect x="27" y="20" width="1" height="1" fill="#44629a"/><rect x="0" y="21" width="2" height="1" fill="#9a92a8"/><rect x="2" y="21" width="1" height="1" fill="#9c94a8"/><rect x="3" y="21" width="1" height="1" fill="#9c96a8"/><rect x="4" y="21" width="1" height="1" fill="#9894a8"/><rect x="5" y="21" width="1" height="1" fill="#9494a6"/><rect x="6" y="21" width="1" height="1" fill="#9898a8"/><rect x="7" y="21" width="1" height="1" fill="#a0a4b0"/><rect x="8" y="21" width="1" height="1" fill="#b0b0bc"/><rect x="9" y="21" width="1" height="1" fill="#c8c8cc"/><rect x="10" y="21" width="1" height="1" fill="#e4e4e6"/><rect x="11" y="21" width="1" height="1" fill="#eeeef0"/><rect x="12" y="21" width="1" height="1" fill="#eef0f4"/><rect x="13" y="21" width="1" height="1" fill="#d0deea"/><rect x="14" y="21" width="1" height="1" fill="#a4bcd6"/><rect x="15" y="21" width="1" height="1" fill="#78a2cc"/><rect x="16" y="21" width="1" height="1" fill="#5888b8"/><rect x="17" y="21" width="1" height="1" fill="#4a78aa"/><rect x="18" y="21" width="1" height="1" fill="#4870a4"/><rect x="19" y="21" width="1" height="1" fill="#486ea3"/><rect x="20" y="21" width="1" height="1" fill="#476ca2"/><rect x="21" y="21" width="1" height="1" fill="#476ba1"/><rect x="22" y="21" width="1" height="1" fill="#4669a0"/><rect x="23" y="21" width="1" height="1" fill="#46679e"/><rect x="24" y="21" width="1" height="1" fill="#45659d"/><rect x="25" y="21" width="1" height="1" fill="#45649c"/><rect x="26" y="21" width="1" height="1" fill="#44629b"/><rect x="27" y="21" width="1" height="1" fill="#44609a"/><rect x="0" y="22" width="1" height="1" fill="#9894a4"/><rect x="1" y="22" width="1" height="1" fill="#9894a8"/><rect x="2" y="22" width="2" height="1" fill="#a09ca8"/><rect x="4" y="22" width="2" height="1" fill="#9c98a8"/><rect x="6" y="22" width="1" height="1" fill="#9894a4"/><rect x="7" y="22" width="1" height="1" fill="#a8a8ac"/><rect x="8" y="22" width="1" height="1" fill="#c4c4c8"/><rect x="9" y="22" width="1" height="1" fill="#d8d8dc"/><rect x="10" y="22" width="1" height="1" fill="#eceaee"/><rect x="11" y="22" width="1" height="1" fill="#f8f8f8"/><rect x="12" y="22" width="1" height="1" fill="#f0f4fa"/><rect x="13" y="22" width="1" height="1" fill="#d0e0ec"/><rect x="14" y="22" width="1" height="1" fill="#a0bcd4"/><rect x="15" y="22" width="1" height="1" fill="#78a0c4"/><rect x="16" y="22" width="1" height="1" fill="#5888b4"/><rect x="17" y="22" width="1" height="1" fill="#4a78a8"/><rect x="18" y="22" width="1" height="1" fill="#4a72a6"/><rect x="19" y="22" width="1" height="1" fill="#486ea2"/><rect x="20" y="22" width="1" height="1" fill="#466aa0"/><rect x="21" y="22" width="1" height="1" fill="#46689e"/><rect x="22" y="22" width="1" height="1" fill="#46669e"/><rect x="23" y="22" width="1" height="1" fill="#44669c"/><rect x="24" y="22" width="1" height="1" fill="#44649c"/><rect x="25" y="22" width="3" height="1" fill="#44629a"/><rect x="0" y="23" width="2" height="1" fill="#9894a8"/><rect x="2" y="23" width="1" height="1" fill="#9c9ca8"/><rect x="3" y="23" width="3" height="1" fill="#9c98a8"/><rect x="6" y="23" width="1" height="1" fill="#9894a4"/><rect x="7" y="23" width="1" height="1" fill="#a8a8ac"/><rect x="8" y="23" width="1" height="1" fill="#c4c4c6"/><rect x="9" y="23" width="1" height="1" fill="#d8d8da"/><rect x="10" y="23" width="1" height="1" fill="#eeeeee"/><rect x="11" y="23" width="1" height="1" fill="#fafafa"/><rect x="12" y="23" width="1" height="1" fill="#f4f8fc"/><rect x="13" y="23" width="1" height="1" fill="#d0deea"/><rect x="14" y="23" width="1" height="1" fill="#9cb8d4"/><rect x="15" y="23" width="1" height="1" fill="#78a0c6"/><rect x="16" y="23" width="1" height="1" fill="#5888b4"/><rect x="17" y="23" width="1" height="1" fill="#4a76a8"/><rect x="18" y="23" width="1" height="1" fill="#4870a4"/><rect x="19" y="23" width="1" height="1" fill="#466ca0"/><rect x="20" y="23" width="1" height="1" fill="#46689e"/><rect x="21" y="23" width="1" height="1" fill="#44669e"/><rect x="22" y="23" width="3" height="1" fill="#44649c"/><rect x="25" y="23" width="3" height="1" fill="#44629a"/><rect x="0" y="24" width="1" height="1" fill="#9894a8"/><rect x="1" y="24" width="1" height="1" fill="#9a98a8"/><rect x="2" y="24" width="2" height="1" fill="#9c9ca4"/><rect x="4" y="24" width="1" height="1" fill="#9094a4"/><rect x="5" y="24" width="1" height="1" fill="#9498a8"/><rect x="6" y="24" width="1" height="1" fill="#9c9cac"/><rect x="7" y="24" width="1" height="1" fill="#acacb0"/><rect x="8" y="24" width="1" height="1" fill="#c4c4c6"/><rect x="9" y="24" width="1" height="1" fill="#d4d4d6"/><rect x="10" y="24" width="1" height="1" fill="#eeeeee"/><rect x="11" y="24" width="1" height="1" fill="#fafafa"/><rect x="12" y="24" width="1" height="1" fill="#f6fafc"/><rect x="13" y="24" width="1" height="1" fill="#d0deea"/><rect x="14" y="24" width="1" height="1" fill="#a4bcdc"/><rect x="15" y="24" width="1" height="1" fill="#78a0c6"/><rect x="16" y="24" width="1" height="1" fill="#5686b4"/><rect x="17" y="24" width="1" height="1" fill="#4a74a6"/><rect x="18" y="24" width="1" height="1" fill="#4870a2"/><rect x="19" y="24" width="1" height="1" fill="#466ca0"/><rect x="20" y="24" width="1" height="1" fill="#46689e"/><rect x="21" y="24" width="1" height="1" fill="#46669c"/><rect x="22" y="24" width="3" height="1" fill="#44649c"/><rect x="25" y="24" width="3" height="1" fill="#44629a"/><rect x="0" y="25" width="2" height="1" fill="#9894a8"/><rect x="2" y="25" width="2" height="1" fill="#9c98a8"/><rect x="4" y="25" width="2" height="1" fill="#9098a8"/><rect x="6" y="25" width="1" height="1" fill="#9c9cac"/><rect x="7" y="25" width="1" height="1" fill="#a8a8b0"/><rect x="8" y="25" width="1" height="1" fill="#c0bec4"/><rect x="9" y="25" width="1" height="1" fill="#d0d0d4"/><rect x="10" y="25" width="1" height="1" fill="#eceaec"/><rect x="11" y="25" width="1" height="1" fill="#fcfcfc"/><rect x="12" y="25" width="1" height="1" fill="#fafcfe"/><rect x="13" y="25" width="1" height="1" fill="#d4e2ee"/><rect x="14" y="25" width="1" height="1" fill="#a8c0dc"/><rect x="15" y="25" width="1" height="1" fill="#7aa0c6"/><rect x="16" y="25" width="1" height="1" fill="#5484b2"/><rect x="17" y="25" width="1" height="1" fill="#4a74a6"/><rect x="18" y="25" width="1" height="1" fill="#4870a2"/><rect x="19" y="25" width="1" height="1" fill="#466ca0"/><rect x="20" y="25" width="1" height="1" fill="#46689e"/><rect x="21" y="25" width="1" height="1" fill="#46669c"/><rect x="22" y="25" width="4" height="1" fill="#44629a"/><rect x="26" y="25" width="2" height="1" fill="#44609a"/><rect x="0" y="26" width="1" height="1" fill="#9894a8"/><rect x="1" y="26" width="1" height="1" fill="#a098a8"/><rect x="2" y="26" width="2" height="1" fill="#a49caa"/><rect x="4" y="26" width="2" height="1" fill="#9494a8"/><rect x="6" y="26" width="1" height="1" fill="#9c98aa"/><rect x="7" y="26" width="1" height="1" fill="#a4a0b0"/><rect x="8" y="26" width="1" height="1" fill="#b8b8c4"/><rect x="9" y="26" width="1" height="1" fill="#ccccd2"/><rect x="10" y="26" width="1" height="1" fill="#e4e4e8"/><rect x="11" y="26" width="1" height="1" fill="#f4f4f4"/><rect x="12" y="26" width="1" height="1" fill="#fefefe"/><rect x="13" y="26" width="1" height="1" fill="#e4eef6"/><rect x="14" y="26" width="1" height="1" fill="#aec4e0"/><rect x="15" y="26" width="1" height="1" fill="#80a6c8"/><rect x="16" y="26" width="1" height="1" fill="#5a8ab4"/><rect x="17" y="26" width="1" height="1" fill="#4a76a8"/><rect x="18" y="26" width="1" height="1" fill="#4872a4"/><rect x="19" y="26" width="1" height="1" fill="#4870a2"/><rect x="20" y="26" width="2" height="1" fill="#466ca0"/><rect x="22" y="26" width="1" height="1" fill="#4668a0"/><rect x="23" y="26" width="2" height="1" fill="#44669e"/><rect x="25" y="26" width="1" height="1" fill="#44649c"/><rect x="26" y="26" width="2" height="1" fill="#44609c"/><rect x="0" y="27" width="1" height="1" fill="#9894a8"/><rect x="1" y="27" width="1" height="1" fill="#9c94a8"/><rect x="2" y="27" width="2" height="1" fill="#a49caa"/><rect x="4" y="27" width="1" height="1" fill="#9090a6"/><rect x="5" y="27" width="1" height="1" fill="#8c8ca4"/><rect x="6" y="27" width="1" height="1" fill="#9894a8"/><rect x="7" y="27" width="1" height="1" fill="#a49eb0"/><rect x="8" y="27" width="1" height="1" fill="#b0acbc"/><rect x="9" y="27" width="1" height="1" fill="#c8c4d0"/><rect x="10" y="27" width="1" height="1" fill="#e0dee4"/><rect x="11" y="27" width="1" height="1" fill="#f0f0f0"/><rect x="12" y="27" width="1" height="1" fill="#fefefe"/><rect x="13" y="27" width="1" height="1" fill="#e8f0f4"/><rect x="14" y="27" width="1" height="1" fill="#b0c8e0"/><rect x="15" y="27" width="1" height="1" fill="#82a6c8"/><rect x="16" y="27" width="1" height="1" fill="#5a8ab6"/><rect x="17" y="27" width="1" height="1" fill="#4a78aa"/><rect x="18" y="27" width="1" height="1" fill="#4874a6"/><rect x="19" y="27" width="1" height="1" fill="#4872a4"/><rect x="20" y="27" width="1" height="1" fill="#466ea2"/><rect x="21" y="27" width="1" height="1" fill="#466ca0"/><rect x="22" y="27" width="1" height="1" fill="#466aa0"/><rect x="23" y="27" width="1" height="1" fill="#4468a0"/><rect x="24" y="27" width="1" height="1" fill="#44669e"/><rect x="25" y="27" width="1" height="1" fill="#44649e"/><rect x="26" y="27" width="2" height="1" fill="#4460a0"/><rect x="0" y="28" width="1" height="1" fill="#8c8ca8"/><rect x="1" y="28" width="1" height="1" fill="#9890a8"/><rect x="2" y="28" width="1" height="1" fill="#9894a8"/><rect x="3" y="28" width="1" height="1" fill="#9898a8"/><rect x="4" y="28" width="1" height="1" fill="#8488a0"/><rect x="5" y="28" width="1" height="1" fill="#8088a0"/><rect x="6" y="28" width="1" height="1" fill="#9490a8"/><rect x="7" y="28" width="1" height="1" fill="#a4a0b0"/><rect x="8" y="28" width="1" height="1" fill="#b0acbc"/><rect x="9" y="28" width="1" height="1" fill="#c4c0cc"/><rect x="10" y="28" width="1" height="1" fill="#d8d6dc"/><rect x="11" y="28" width="1" height="1" fill="#e8e8ea"/><rect x="12" y="28" width="1" height="1" fill="#f4f4f6"/><rect x="13" y="28" width="1" height="1" fill="#e8eef2"/><rect x="14" y="28" width="1" height="1" fill="#ccdae8"/><rect x="15" y="28" width="1" height="1" fill="#a0bcd8"/><rect x="16" y="28" width="1" height="1" fill="#6e9cc4"/><rect x="17" y="28" width="1" height="1" fill="#5284b2"/><rect x="18" y="28" width="1" height="1" fill="#4a7aac"/><rect x="19" y="28" width="1" height="1" fill="#4876a8"/><rect x="20" y="28" width="1" height="1" fill="#4874a8"/><rect x="21" y="28" width="1" height="1" fill="#466ea2"/><rect x="22" y="28" width="1" height="1" fill="#466ca0"/><rect x="23" y="28" width="1" height="1" fill="#466ca2"/><rect x="24" y="28" width="1" height="1" fill="#466aa0"/><rect x="25" y="28" width="1" height="1" fill="#4468a0"/><rect x="26" y="28" width="2" height="1" fill="#46669e"/><rect x="0" y="29" width="1" height="1" fill="#8c8ca8"/><rect x="1" y="29" width="1" height="1" fill="#9090a8"/><rect x="2" y="29" width="2" height="1" fill="#9894a8"/><rect x="4" y="29" width="2" height="1" fill="#8890a4"/><rect x="6" y="29" width="1" height="1" fill="#9894a8"/><rect x="7" y="29" width="1" height="1" fill="#a4a0b0"/><rect x="8" y="29" width="1" height="1" fill="#b4b0bc"/><rect x="9" y="29" width="1" height="1" fill="#c4c0cc"/><rect x="10" y="29" width="1" height="1" fill="#d6d4da"/><rect x="11" y="29" width="1" height="1" fill="#e4e4e8"/><rect x="12" y="29" width="1" height="1" fill="#f2f2f4"/><rect x="13" y="29" width="1" height="1" fill="#eceef2"/><rect x="14" y="29" width="1" height="1" fill="#d4dee8"/><rect x="15" y="29" width="1" height="1" fill="#a8c0d8"/><rect x="16" y="29" width="1" height="1" fill="#76a0c6"/><rect x="17" y="29" width="1" height="1" fill="#5486b4"/><rect x="18" y="29" width="1" height="1" fill="#4a7cac"/><rect x="19" y="29" width="1" height="1" fill="#4876aa"/><rect x="20" y="29" width="1" height="1" fill="#4874a8"/><rect x="21" y="29" width="2" height="1" fill="#466ea2"/><rect x="23" y="29" width="1" height="1" fill="#466ca2"/><rect x="24" y="29" width="2" height="1" fill="#466aa2"/><rect x="26" y="29" width="2" height="1" fill="#4468a0"/><rect x="0" y="30" width="1" height="1" fill="#8c90a8"/><rect x="1" y="30" width="1" height="1" fill="#9090a8"/><rect x="2" y="30" width="1" height="1" fill="#9494a8"/><rect x="3" y="30" width="3" height="1" fill="#9894a8"/><rect x="6" y="30" width="1" height="1" fill="#a098a8"/><rect x="7" y="30" width="1" height="1" fill="#a8a0b0"/><rect x="8" y="30" width="1" height="1" fill="#b0acbc"/><rect x="9" y="30" width="1" height="1" fill="#c0bcca"/><rect x="10" y="30" width="1" height="1" fill="#d2d2d8"/><rect x="11" y="30" width="1" height="1" fill="#e4e4e8"/><rect x="12" y="30" width="1" height="1" fill="#f4f4f6"/><rect x="13" y="30" width="1" height="1" fill="#eef0f4"/><rect x="14" y="30" width="1" height="1" fill="#dae2ec"/><rect x="15" y="30" width="1" height="1" fill="#aec6dc"/><rect x="16" y="30" width="1" height="1" fill="#7ca4c8"/><rect x="17" y="30" width="1" height="1" fill="#5888b4"/><rect x="18" y="30" width="1" height="1" fill="#4a7cac"/><rect x="19" y="30" width="1" height="1" fill="#4876aa"/><rect x="20" y="30" width="1" height="1" fill="#4874a8"/><rect x="21" y="30" width="2" height="1" fill="#4670a4"/><rect x="23" y="30" width="2" height="1" fill="#466ea4"/><rect x="25" y="30" width="1" height="1" fill="#466ca4"/><rect x="26" y="30" width="2" height="1" fill="#466aa2"/><rect x="0" y="31" width="2" height="1" fill="#8c90a4"/><rect x="2" y="31" width="1" height="1" fill="#9490a8"/><rect x="3" y="31" width="1" height="1" fill="#9494a8"/><rect x="4" y="31" width="1" height="1" fill="#9c98ac"/><rect x="5" y="31" width="1" height="1" fill="#a09cac"/><rect x="6" y="31" width="1" height="1" fill="#a4a0b0"/><rect x="7" y="31" width="1" height="1" fill="#a8a4b0"/><rect x="8" y="31" width="1" height="1" fill="#acacb8"/><rect x="9" y="31" width="1" height="1" fill="#b8b8c0"/><rect x="10" y="31" width="1" height="1" fill="#d0d0d6"/><rect x="11" y="31" width="1" height="1" fill="#e4e6ea"/><rect x="12" y="31" width="1" height="1" fill="#f6f6f8"/><rect x="13" y="31" width="1" height="1" fill="#f2f2f6"/><rect x="14" y="31" width="1" height="1" fill="#dce4ee"/><rect x="15" y="31" width="1" height="1" fill="#acc4dc"/><rect x="16" y="31" width="1" height="1" fill="#80a6c8"/><rect x="17" y="31" width="1" height="1" fill="#5a8ab4"/><rect x="18" y="31" width="1" height="1" fill="#4a7cac"/><rect x="19" y="31" width="1" height="1" fill="#4878aa"/><rect x="20" y="31" width="1" height="1" fill="#4876a8"/><rect x="21" y="31" width="1" height="1" fill="#4672a4"/><rect x="22" y="31" width="1" height="1" fill="#4670a4"/><rect x="23" y="31" width="3" height="1" fill="#4670a6"/><rect x="26" y="31" width="2" height="1" fill="#466ea6"/><rect x="0" y="32" width="2" height="1" fill="#9098a8"/><rect x="2" y="32" width="2" height="1" fill="#9494a8"/><rect x="4" y="32" width="1" height="1" fill="#9c98a8"/><rect x="5" y="32" width="2" height="1" fill="#a09cac"/><rect x="7" y="32" width="1" height="1" fill="#a0a0ac"/><rect x="8" y="32" width="1" height="1" fill="#a8aab4"/><rect x="9" y="32" width="1" height="1" fill="#b8b8bc"/><rect x="10" y="32" width="1" height="1" fill="#d0d2d6"/><rect x="11" y="32" width="1" height="1" fill="#e4e6ea"/><rect x="12" y="32" width="1" height="1" fill="#f6f6f8"/><rect x="13" y="32" width="1" height="1" fill="#f4f4f8"/><rect x="14" y="32" width="1" height="1" fill="#dce2ee"/><rect x="15" y="32" width="1" height="1" fill="#a8c2da"/><rect x="16" y="32" width="1" height="1" fill="#80a6c8"/><rect x="17" y="32" width="1" height="1" fill="#5c8cb4"/><rect x="18" y="32" width="1" height="1" fill="#4e80ae"/><rect x="19" y="32" width="1" height="1" fill="#4a78aa"/><rect x="20" y="32" width="1" height="1" fill="#4876a8"/><rect x="21" y="32" width="4" height="1" fill="#4672a6"/><rect x="25" y="32" width="1" height="1" fill="#4672a8"/><rect x="26" y="32" width="2" height="1" fill="#4670a8"/><rect x="0" y="33" width="1" height="1" fill="#9490a4"/><rect x="1" y="33" width="1" height="1" fill="#9894a8"/><rect x="2" y="33" width="1" height="1" fill="#9a96aa"/><rect x="3" y="33" width="1" height="1" fill="#9c98aa"/><rect x="4" y="33" width="1" height="1" fill="#a09cac"/><rect x="5" y="33" width="1" height="1" fill="#a09cae"/><rect x="6" y="33" width="1" height="1" fill="#a4a0ae"/><rect x="7" y="33" width="1" height="1" fill="#a4a4b0"/><rect x="8" y="33" width="1" height="1" fill="#a8a8b4"/><rect x="9" y="33" width="1" height="1" fill="#b8b8be"/><rect x="10" y="33" width="1" height="1" fill="#d4d6d8"/><rect x="11" y="33" width="1" height="1" fill="#e8eaea"/><rect x="12" y="33" width="1" height="1" fill="#fcfcfc"/><rect x="13" y="33" width="1" height="1" fill="#f8f6f8"/><rect x="14" y="33" width="1" height="1" fill="#dce4ee"/><rect x="15" y="33" width="1" height="1" fill="#a8c0d8"/><rect x="16" y="33" width="1" height="1" fill="#7aa2c4"/><rect x="17" y="33" width="1" height="1" fill="#5a8ab2"/><rect x="18" y="33" width="1" height="1" fill="#4e80ae"/><rect x="19" y="33" width="1" height="1" fill="#4a78aa"/><rect x="20" y="33" width="1" height="1" fill="#4874a8"/><rect x="21" y="33" width="3" height="1" fill="#4872a6"/><rect x="24" y="33" width="2" height="1" fill="#4874a8"/><rect x="26" y="33" width="2" height="1" fill="#4674aa"/><rect x="0" y="34" width="1" height="1" fill="#9490a4"/><rect x="1" y="34" width="1" height="1" fill="#8c90a8"/><rect x="2" y="34" width="1" height="1" fill="#8a8ea8"/><rect x="3" y="34" width="1" height="1" fill="#8c90a6"/><rect x="4" y="34" width="1" height="1" fill="#a09cac"/><rect x="5" y="34" width="1" height="1" fill="#a4a0ae"/><rect x="6" y="34" width="1" height="1" fill="#a09cac"/><rect x="7" y="34" width="1" height="1" fill="#a4a0ae"/><rect x="8" y="34" width="1" height="1" fill="#acacb4"/><rect x="9" y="34" width="1" height="1" fill="#c0c0c4"/><rect x="10" y="34" width="1" height="1" fill="#dcdcde"/><rect x="11" y="34" width="1" height="1" fill="#eeeef0"/><rect x="12" y="34" width="1" height="1" fill="#fefefe"/><rect x="13" y="34" width="1" height="1" fill="#eef0f8"/><rect x="14" y="34" width="1" height="1" fill="#c8d4e8"/><rect x="15" y="34" width="1" height="1" fill="#98b4d6"/><rect x="16" y="34" width="1" height="1" fill="#6e9ac4"/><rect x="17" y="34" width="1" height="1" fill="#5486b4"/><rect x="18" y="34" width="1" height="1" fill="#4a7aac"/><rect x="19" y="34" width="1" height="1" fill="#4874a8"/><rect x="20" y="34" width="1" height="1" fill="#466ea2"/><rect x="21" y="34" width="1" height="1" fill="#466ca2"/><rect x="22" y="34" width="1" height="1" fill="#466aa0"/><rect x="23" y="34" width="2" height="1" fill="#4668a0"/><rect x="25" y="34" width="1" height="1" fill="#466aa2"/><rect x="26" y="34" width="2" height="1" fill="#466ca2"/><rect x="0" y="35" width="1" height="1" fill="#8890a4"/><rect x="1" y="35" width="1" height="1" fill="#8890a6"/><rect x="2" y="35" width="1" height="1" fill="#8a8ea8"/><rect x="3" y="35" width="1" height="1" fill="#8890a6"/><rect x="4" y="35" width="1" height="1" fill="#a09cac"/><rect x="5" y="35" width="1" height="1" fill="#a4a0ae"/><rect x="6" y="35" width="2" height="1" fill="#a09cac"/><rect x="8" y="35" width="1" height="1" fill="#b8b8c0"/><rect x="9" y="35" width="1" height="1" fill="#c8c8cc"/><rect x="10" y="35" width="1" height="1" fill="#dedee0"/><rect x="11" y="35" width="1" height="1" fill="#f0f0f2"/><rect x="12" y="35" width="1" height="1" fill="#fefefe"/><rect x="13" y="35" width="1" height="1" fill="#e4e8f4"/><rect x="14" y="35" width="1" height="1" fill="#c0cce4"/><rect x="15" y="35" width="1" height="1" fill="#94b2d4"/><rect x="16" y="35" width="1" height="1" fill="#6a96c2"/><rect x="17" y="35" width="1" height="1" fill="#5080b0"/><rect x="18" y="35" width="1" height="1" fill="#4a76a8"/><rect x="19" y="35" width="1" height="1" fill="#4870a4"/><rect x="20" y="35" width="1" height="1" fill="#466ca0"/><rect x="21" y="35" width="1" height="1" fill="#46689e"/><rect x="22" y="35" width="1" height="1" fill="#4666a0"/><rect x="23" y="35" width="2" height="1" fill="#44649e"/><rect x="25" y="35" width="1" height="1" fill="#4468a0"/><rect x="26" y="35" width="2" height="1" fill="#466aa2"/><rect x="0" y="36" width="1" height="1" fill="#7c88a0"/><rect x="1" y="36" width="1" height="1" fill="#8890a4"/><rect x="2" y="36" width="1" height="1" fill="#909aa8"/><rect x="3" y="36" width="1" height="1" fill="#9098a8"/><rect x="4" y="36" width="2" height="1" fill="#a09cac"/><rect x="6" y="36" width="1" height="1" fill="#9ca0ac"/><rect x="7" y="36" width="1" height="1" fill="#a0a4b0"/><rect x="8" y="36" width="1" height="1" fill="#bcbcc2"/><rect x="9" y="36" width="1" height="1" fill="#d0d0d2"/><rect x="10" y="36" width="1" height="1" fill="#e4e4e4"/><rect x="11" y="36" width="1" height="1" fill="#f4f4f2"/><rect x="12" y="36" width="1" height="1" fill="#fcfcfc"/><rect x="13" y="36" width="1" height="1" fill="#dce4f0"/><rect x="14" y="36" width="1" height="1" fill="#a8bcdc"/><rect x="15" y="36" width="1" height="1" fill="#88a8cc"/><rect x="16" y="36" width="1" height="1" fill="#6494c0"/><rect x="17" y="36" width="1" height="1" fill="#4e80b0"/><rect x="18" y="36" width="1" height="1" fill="#4a76a8"/><rect x="19" y="36" width="1" height="1" fill="#486ea2"/><rect x="20" y="36" width="1" height="1" fill="#466aa0"/><rect x="21" y="36" width="1" height="1" fill="#44669e"/><rect x="22" y="36" width="1" height="1" fill="#44649c"/><rect x="23" y="36" width="2" height="1" fill="#44629c"/><rect x="25" y="36" width="1" height="1" fill="#44649e"/><rect x="26" y="36" width="2" height="1" fill="#4466a0"/><rect x="0" y="37" width="1" height="1" fill="#7888a4"/><rect x="1" y="37" width="1" height="1" fill="#8890a4"/><rect x="2" y="37" width="1" height="1" fill="#9ca0ac"/><rect x="3" y="37" width="1" height="1" fill="#9c9cac"/><rect x="4" y="37" width="1" height="1" fill="#9c98aa"/><rect x="5" y="37" width="1" height="1" fill="#9494a8"/><rect x="6" y="37" width="1" height="1" fill="#9098a8"/><rect x="7" y="37" width="1" height="1" fill="#98a0ac"/><rect x="8" y="37" width="1" height="1" fill="#c0c4c4"/><rect x="9" y="37" width="1" height="1" fill="#d8d8d8"/><rect x="10" y="37" width="1" height="1" fill="#eef0ee"/><rect x="11" y="37" width="1" height="1" fill="#f8faf8"/><rect x="12" y="37" width="1" height="1" fill="#f8f8f4"/><rect x="13" y="37" width="1" height="1" fill="#d8e0ea"/><rect x="14" y="37" width="1" height="1" fill="#9cb4d4"/><rect x="15" y="37" width="1" height="1" fill="#7aa0c8"/><rect x="16" y="37" width="1" height="1" fill="#5c8cbc"/><rect x="17" y="37" width="1" height="1" fill="#4a7cac"/><rect x="18" y="37" width="1" height="1" fill="#4874a6"/><rect x="19" y="37" width="1" height="1" fill="#486ea2"/><rect x="20" y="37" width="1" height="1" fill="#46689e"/><rect x="21" y="37" width="4" height="1" fill="#445e98"/><rect x="25" y="37" width="1" height="1" fill="#44609a"/><rect x="26" y="37" width="2" height="1" fill="#44629c"/><rect x="0" y="38" width="1" height="1" fill="#7888a4"/><rect x="1" y="38" width="1" height="1" fill="#8490a8"/><rect x="2" y="38" width="1" height="1" fill="#a09cac"/><rect x="3" y="38" width="1" height="1" fill="#9c98aa"/><rect x="4" y="38" width="1" height="1" fill="#8484a4"/><rect x="5" y="38" width="1" height="1" fill="#8084a4"/><rect x="6" y="38" width="1" height="1" fill="#8090a4"/><rect x="7" y="38" width="1" height="1" fill="#98a4ac"/><rect x="8" y="38" width="1" height="1" fill="#c4c8c8"/><rect x="9" y="38" width="1" height="1" fill="#dcdcdc"/><rect x="10" y="38" width="1" height="1" fill="#eef0ee"/><rect x="11" y="38" width="1" height="1" fill="#fafcfa"/><rect x="12" y="38" width="1" height="1" fill="#eceef2"/><rect x="13" y="38" width="1" height="1" fill="#c8d4e4"/><rect x="14" y="38" width="1" height="1" fill="#9cb4d4"/><rect x="15" y="38" width="1" height="1" fill="#7aa2cc"/><rect x="16" y="38" width="1" height="1" fill="#5c8cbc"/><rect x="17" y="38" width="1" height="1" fill="#4a7aac"/><rect x="18" y="38" width="1" height="1" fill="#4874a6"/><rect x="19" y="38" width="1" height="1" fill="#466ea0"/><rect x="20" y="38" width="1" height="1" fill="#46689e"/><rect x="21" y="38" width="5" height="1" fill="#445e98"/><rect x="26" y="38" width="2" height="1" fill="#44609a"/><rect x="0" y="39" width="1" height="1" fill="#7888a4"/><rect x="1" y="39" width="1" height="1" fill="#8490a6"/><rect x="2" y="39" width="2" height="1" fill="#9894a8"/><rect x="4" y="39" width="1" height="1" fill="#7880a0"/><rect x="5" y="39" width="1" height="1" fill="#707ea0"/><rect x="6" y="39" width="1" height="1" fill="#8090a4"/><rect x="7" y="39" width="1" height="1" fill="#98a4ac"/><rect x="8" y="39" width="1" height="1" fill="#c8caca"/><rect x="9" y="39" width="1" height="1" fill="#e0e0de"/><rect x="10" y="39" width="1" height="1" fill="#f2f4f0"/><rect x="11" y="39" width="1" height="1" fill="#fafcfa"/><rect x="12" y="39" width="1" height="1" fill="#e8eef2"/><rect x="13" y="39" width="1" height="1" fill="#c4d4e4"/><rect x="14" y="39" width="1" height="1" fill="#9cb4d6"/><rect x="15" y="39" width="1" height="1" fill="#7aa2cc"/><rect x="16" y="39" width="1" height="1" fill="#5a8abc"/><rect x="17" y="39" width="1" height="1" fill="#4a7aac"/><rect x="18" y="39" width="1" height="1" fill="#4872a4"/><rect x="19" y="39" width="1" height="1" fill="#466ea0"/><rect x="20" y="39" width="1" height="1" fill="#46689e"/><rect x="21" y="39" width="1" height="1" fill="#445e98"/><rect x="22" y="39" width="3" height="1" fill="#445c96"/><rect x="25" y="39" width="1" height="1" fill="#445e98"/><rect x="26" y="39" width="2" height="1" fill="#44609a"/><rect x="0" y="40" width="1" height="1" fill="#7c88a0"/><rect x="1" y="40" width="1" height="1" fill="#7c86a0"/><rect x="2" y="40" width="1" height="1" fill="#7c88a4"/><rect x="3" y="40" width="1" height="1" fill="#7c84a4"/><rect x="4" y="40" width="1" height="1" fill="#707ca0"/><rect x="5" y="40" width="1" height="1" fill="#707ea0"/><rect x="6" y="40" width="1" height="1" fill="#8c90ac"/><rect x="7" y="40" width="1" height="1" fill="#a4a8b4"/><rect x="8" y="40" width="1" height="1" fill="#d0d0d4"/><rect x="9" y="40" width="1" height="1" fill="#e8e8e6"/><rect x="10" y="40" width="1" height="1" fill="#f6f8f4"/><rect x="11" y="40" width="1" height="1" fill="#f4f8f4"/><rect x="12" y="40" width="1" height="1" fill="#dce4ea"/><rect x="13" y="40" width="1" height="1" fill="#b4c8dc"/><rect x="14" y="40" width="1" height="1" fill="#88a8cc"/><rect x="15" y="40" width="1" height="1" fill="#6494c2"/><rect x="16" y="40" width="1" height="1" fill="#5486b6"/><rect x="17" y="40" width="1" height="1" fill="#4a78aa"/><rect x="18" y="40" width="1" height="1" fill="#4870a2"/><rect x="19" y="40" width="1" height="1" fill="#466c9e"/><rect x="20" y="40" width="1" height="1" fill="#46689e"/><rect x="21" y="40" width="1" height="1" fill="#445e96"/><rect x="22" y="40" width="3" height="1" fill="#445c96"/><rect x="25" y="40" width="1" height="1" fill="#445e96"/><rect x="26" y="40" width="2" height="1" fill="#445e98"/><rect x="0" y="41" width="1" height="1" fill="#7888a0"/><rect x="1" y="41" width="2" height="1" fill="#7484a0"/><rect x="3" y="41" width="2" height="1" fill="#7480a0"/><rect x="5" y="41" width="1" height="1" fill="#7c88a4"/><rect x="6" y="41" width="1" height="1" fill="#9ca0b0"/><rect x="7" y="41" width="1" height="1" fill="#b8b8c4"/><rect x="8" y="41" width="1" height="1" fill="#d8d8dc"/><rect x="9" y="41" width="1" height="1" fill="#ececec"/><rect x="10" y="41" width="1" height="1" fill="#f4f6f4"/><rect x="11" y="41" width="1" height="1" fill="#e8eeee"/><rect x="12" y="41" width="1" height="1" fill="#cad8e0"/><rect x="13" y="41" width="1" height="1" fill="#a0b8d4"/><rect x="14" y="41" width="1" height="1" fill="#7ca0c8"/><rect x="15" y="41" width="1" height="1" fill="#5888b8"/><rect x="16" y="41" width="1" height="1" fill="#4e80b2"/><rect x="17" y="41" width="1" height="1" fill="#4a76aa"/><rect x="18" y="41" width="1" height="1" fill="#486ea2"/><rect x="19" y="41" width="1" height="1" fill="#466a9e"/><rect x="20" y="41" width="1" height="1" fill="#46669c"/><rect x="21" y="41" width="1" height="1" fill="#445e96"/><rect x="22" y="41" width="4" height="1" fill="#445c94"/><rect x="26" y="41" width="2" height="1" fill="#445e96"/><rect x="0" y="42" width="1" height="1" fill="#7c88a0"/><rect x="1" y="42" width="3" height="1" fill="#7888a0"/><rect x="4" y="42" width="1" height="1" fill="#8490a8"/><rect x="5" y="42" width="1" height="1" fill="#949cb0"/><rect x="6" y="42" width="1" height="1" fill="#b0b0c0"/><rect x="7" y="42" width="1" height="1" fill="#ccccd4"/><rect x="8" y="42" width="1" height="1" fill="#e4e4e8"/><rect x="9" y="42" width="1" height="1" fill="#f2f2f2"/><rect x="10" y="42" width="1" height="1" fill="#f2f2f4"/><rect x="11" y="42" width="1" height="1" fill="#dee2ec"/><rect x="12" y="42" width="1" height="1" fill="#aec4dc"/><rect x="13" y="42" width="1" height="1" fill="#8eaed0"/><rect x="14" y="42" width="1" height="1" fill="#6e98c4"/><rect x="15" y="42" width="1" height="1" fill="#5284b6"/><rect x="16" y="42" width="1" height="1" fill="#4c7eb0"/><rect x="17" y="42" width="1" height="1" fill="#4a76aa"/><rect x="18" y="42" width="1" height="1" fill="#486ea2"/><rect x="19" y="42" width="1" height="1" fill="#466a9e"/><rect x="20" y="42" width="1" height="1" fill="#46669c"/><rect x="21" y="42" width="5" height="1" fill="#445c94"/><rect x="26" y="42" width="2" height="1" fill="#445e96"/><rect x="0" y="43" width="3" height="1" fill="#7c88a0"/><rect x="3" y="43" width="1" height="1" fill="#8090a4"/><rect x="4" y="43" width="1" height="1" fill="#90a0ac"/><rect x="5" y="43" width="1" height="1" fill="#a0a4b4"/><rect x="6" y="43" width="1" height="1" fill="#c0c0cc"/><rect x="7" y="43" width="1" height="1" fill="#d8d8de"/><rect x="8" y="43" width="1" height="1" fill="#eceaee"/><rect x="9" y="43" width="1" height="1" fill="#f4f2f4"/><rect x="10" y="43" width="1" height="1" fill="#eaeaf2"/><rect x="11" y="43" width="1" height="1" fill="#c8d4e6"/><rect x="12" y="43" width="1" height="1" fill="#9cb4d4"/><rect x="13" y="43" width="1" height="1" fill="#7ea4cc"/><rect x="14" y="43" width="1" height="1" fill="#6090c0"/><rect x="15" y="43" width="1" height="1" fill="#5080b4"/><rect x="16" y="43" width="1" height="1" fill="#4a7cae"/><rect x="17" y="43" width="1" height="1" fill="#4876aa"/><rect x="18" y="43" width="1" height="1" fill="#4870a4"/><rect x="19" y="43" width="1" height="1" fill="#466c9e"/><rect x="20" y="43" width="1" height="1" fill="#46669c"/><rect x="21" y="43" width="7" height="1" fill="#445e96"/><rect x="0" y="44" width="1" height="1" fill="#7c84a0"/><rect x="1" y="44" width="2" height="1" fill="#7884a0"/><rect x="3" y="44" width="1" height="1" fill="#7c88a0"/><rect x="4" y="44" width="1" height="1" fill="#8c98a8"/><rect x="5" y="44" width="1" height="1" fill="#a0a8b4"/><rect x="6" y="44" width="1" height="1" fill="#c8c8d0"/><rect x="7" y="44" width="1" height="1" fill="#e0dee2"/><rect x="8" y="44" width="1" height="1" fill="#f8f4f4"/><rect x="9" y="44" width="1" height="1" fill="#f4f2f4"/><rect x="10" y="44" width="1" height="1" fill="#dcdee8"/><rect x="11" y="44" width="1" height="1" fill="#b4c4dc"/><rect x="12" y="44" width="1" height="1" fill="#8aaac8"/><rect x="13" y="44" width="1" height="1" fill="#6a98c0"/><rect x="14" y="44" width="1" height="1" fill="#5080b0"/><rect x="15" y="44" width="1" height="1" fill="#4a7aaa"/><rect x="16" y="44" width="1" height="1" fill="#4878aa"/><rect x="17" y="44" width="1" height="1" fill="#4876a8"/><rect x="18" y="44" width="1" height="1" fill="#4872a6"/><rect x="19" y="44" width="1" height="1" fill="#4670a4"/><rect x="20" y="44" width="1" height="1" fill="#466ca0"/><rect x="21" y="44" width="1" height="1" fill="#46689e"/><rect x="22" y="44" width="3" height="1" fill="#445e98"/><rect x="25" y="44" width="1" height="1" fill="#445c96"/><rect x="26" y="44" width="1" height="1" fill="#445e98"/><rect x="27" y="44" width="1" height="1" fill="#44609a"/><rect x="0" y="45" width="1" height="1" fill="#7884a0"/><rect x="1" y="45" width="1" height="1" fill="#7480a0"/><rect x="2" y="45" width="1" height="1" fill="#7484a0"/><rect x="3" y="45" width="1" height="1" fill="#7c88a0"/><rect x="4" y="45" width="1" height="1" fill="#8c98a8"/><rect x="5" y="45" width="1" height="1" fill="#acb0bc"/><rect x="6" y="45" width="1" height="1" fill="#d0d0d4"/><rect x="7" y="45" width="1" height="1" fill="#e4e4e4"/><rect x="8" y="45" width="1" height="1" fill="#f8f6f4"/><rect x="9" y="45" width="1" height="1" fill="#f2f2f4"/><rect x="10" y="45" width="1" height="1" fill="#d8dce8"/><rect x="11" y="45" width="1" height="1" fill="#a8bcd8"/><rect x="12" y="45" width="1" height="1" fill="#7ea4c8"/><rect x="13" y="45" width="1" height="1" fill="#5a8cbc"/><rect x="14" y="45" width="1" height="1" fill="#4c7eae"/><rect x="15" y="45" width="1" height="1" fill="#4878aa"/><rect x="16" y="45" width="1" height="1" fill="#4674a8"/><rect x="17" y="45" width="1" height="1" fill="#4874a8"/><rect x="18" y="45" width="1" height="1" fill="#4870a4"/><rect x="19" y="45" width="1" height="1" fill="#466ea2"/><rect x="20" y="45" width="1" height="1" fill="#466aa0"/><rect x="21" y="45" width="1" height="1" fill="#44669e"/><rect x="22" y="45" width="1" height="1" fill="#445e98"/><rect x="23" y="45" width="3" height="1" fill="#445c96"/><rect x="26" y="45" width="1" height="1" fill="#445e98"/><rect x="27" y="45" width="1" height="1" fill="#44609a"/><rect x="0" y="46" width="2" height="1" fill="#7480a0"/><rect x="2" y="46" width="1" height="1" fill="#7484a0"/><rect x="3" y="46" width="1" height="1" fill="#7c88a0"/><rect x="4" y="46" width="1" height="1" fill="#8c98a8"/><rect x="5" y="46" width="1" height="1" fill="#b0b4bc"/><rect x="6" y="46" width="1" height="1" fill="#d4d8d8"/><rect x="7" y="46" width="1" height="1" fill="#e8eae8"/><rect x="8" y="46" width="1" height="1" fill="#faf8f6"/><rect x="9" y="46" width="1" height="1" fill="#eef0f2"/><rect x="10" y="46" width="1" height="1" fill="#ccd4e4"/><rect x="11" y="46" width="1" height="1" fill="#a0b8d4"/><rect x="12" y="46" width="1" height="1" fill="#76a0c4"/><rect x="13" y="46" width="1" height="1" fill="#5888b8"/><rect x="14" y="46" width="1" height="1" fill="#4a78aa"/><rect x="15" y="46" width="1" height="1" fill="#4874a6"/><rect x="16" y="46" width="2" height="1" fill="#4670a4"/><rect x="18" y="46" width="1" height="1" fill="#466ea2"/><rect x="19" y="46" width="1" height="1" fill="#466ca0"/><rect x="20" y="46" width="1" height="1" fill="#4468a0"/><rect x="21" y="46" width="1" height="1" fill="#44669e"/><rect x="22" y="46" width="1" height="1" fill="#445e98"/><rect x="23" y="46" width="3" height="1" fill="#445c96"/><rect x="26" y="46" width="1" height="1" fill="#445e98"/><rect x="27" y="46" width="1" height="1" fill="#44609a"/><rect x="0" y="47" width="2" height="1" fill="#7480a0"/><rect x="2" y="47" width="1" height="1" fill="#7884a0"/><rect x="3" y="47" width="1" height="1" fill="#8088a4"/><rect x="4" y="47" width="1" height="1" fill="#909cac"/><rect x="5" y="47" width="1" height="1" fill="#b4b8c0"/><rect x="6" y="47" width="1" height="1" fill="#d8dcd8"/><rect x="7" y="47" width="1" height="1" fill="#eaeeea"/><rect x="8" y="47" width="1" height="1" fill="#f8faf8"/><rect x="9" y="47" width="1" height="1" fill="#e8ecf2"/><rect x="10" y="47" width="1" height="1" fill="#b8c8dc"/><rect x="11" y="47" width="1" height="1" fill="#98b4d2"/><rect x="12" y="47" width="1" height="1" fill="#70a0c4"/><rect x="13" y="47" width="1" height="1" fill="#5688b8"/><rect x="14" y="47" width="1" height="1" fill="#4a74a6"/><rect x="15" y="47" width="1" height="1" fill="#4670a4"/><rect x="16" y="47" width="1" height="1" fill="#466ca2"/><rect x="17" y="47" width="1" height="1" fill="#466ea2"/><rect x="18" y="47" width="1" height="1" fill="#466ca0"/><rect x="19" y="47" width="1" height="1" fill="#466aa0"/><rect x="20" y="47" width="1" height="1" fill="#4468a0"/><rect x="21" y="47" width="1" height="1" fill="#44649c"/><rect x="22" y="47" width="1" height="1" fill="#445c96"/><rect x="23" y="47" width="2" height="1" fill="#445a94"/><rect x="25" y="47" width="2" height="1" fill="#445c96"/><rect x="27" y="47" width="1" height="1" fill="#445e98"/><rect x="0" y="48" width="2" height="1" fill="#7c84a4"/><rect x="2" y="48" width="1" height="1" fill="#8088a4"/><rect x="3" y="48" width="1" height="1" fill="#8890a8"/><rect x="4" y="48" width="1" height="1" fill="#98a0b0"/><rect x="5" y="48" width="1" height="1" fill="#b4bcc0"/><rect x="6" y="48" width="1" height="1" fill="#d8dcdc"/><rect x="7" y="48" width="1" height="1" fill="#eef2f0"/><rect x="8" y="48" width="1" height="1" fill="#f4f8fa"/><rect x="9" y="48" width="1" height="1" fill="#dde4ee"/><rect x="10" y="48" width="1" height="1" fill="#a8bcd8"/><rect x="11" y="48" width="1" height="1" fill="#88aacc"/><rect x="12" y="48" width="1" height="1" fill="#6898c0"/><rect x="13" y="48" width="1" height="1" fill="#5284b4"/><rect x="14" y="48" width="1" height="1" fill="#4a72a6"/><rect x="15" y="48" width="1" height="1" fill="#466ea2"/><rect x="16" y="48" width="1" height="1" fill="#466ca0"/><rect x="17" y="48" width="1" height="1" fill="#466ea2"/><rect x="18" y="48" width="1" height="1" fill="#466ca0"/><rect x="19" y="48" width="1" height="1" fill="#466aa0"/><rect x="20" y="48" width="1" height="1" fill="#4468a0"/><rect x="21" y="48" width="1" height="1" fill="#44629c"/><rect x="22" y="48" width="1" height="1" fill="#445c96"/><rect x="23" y="48" width="2" height="1" fill="#445c94"/><rect x="25" y="48" width="1" height="1" fill="#445e96"/><rect x="26" y="48" width="2" height="1" fill="#445e98"/><rect x="0" y="49" width="1" height="1" fill="#7c84a4"/><rect x="1" y="49" width="1" height="1" fill="#7c88a4"/><rect x="2" y="49" width="1" height="1" fill="#8088a4"/><rect x="3" y="49" width="1" height="1" fill="#8c94ac"/><rect x="4" y="49" width="1" height="1" fill="#a4acb8"/><rect x="5" y="49" width="1" height="1" fill="#c4c8cc"/><rect x="6" y="49" width="1" height="1" fill="#dcdee0"/><rect x="7" y="49" width="1" height="1" fill="#eef2f2"/><rect x="8" y="49" width="1" height="1" fill="#eef2f8"/><rect x="9" y="49" width="1" height="1" fill="#d0dce8"/><rect x="10" y="49" width="1" height="1" fill="#9cb4d6"/><rect x="11" y="49" width="1" height="1" fill="#7aa2c8"/><rect x="12" y="49" width="1" height="1" fill="#6090bc"/><rect x="13" y="49" width="1" height="1" fill="#5080b4"/><rect x="14" y="49" width="1" height="1" fill="#4870a4"/><rect x="15" y="49" width="1" height="1" fill="#466ea2"/><rect x="16" y="49" width="1" height="1" fill="#466ca0"/><rect x="17" y="49" width="1" height="1" fill="#466ea2"/><rect x="18" y="49" width="1" height="1" fill="#466ca0"/><rect x="19" y="49" width="1" height="1" fill="#4668a0"/><rect x="20" y="49" width="1" height="1" fill="#44649c"/><rect x="21" y="49" width="1" height="1" fill="#44609a"/><rect x="22" y="49" width="2" height="1" fill="#445e96"/><rect x="24" y="49" width="4" height="1" fill="#44609a"/><rect x="0" y="50" width="2" height="1" fill="#7888a4"/><rect x="2" y="50" width="1" height="1" fill="#8090a8"/><rect x="3" y="50" width="1" height="1" fill="#9ca4b4"/><rect x="4" y="50" width="1" height="1" fill="#c0c0cc"/><rect x="5" y="50" width="1" height="1" fill="#d8dce0"/><rect x="6" y="50" width="1" height="1" fill="#eaeef2"/><rect x="7" y="50" width="1" height="1" fill="#eef2f8"/><rect x="8" y="50" width="1" height="1" fill="#d8e4f0"/><rect x="9" y="50" width="1" height="1" fill="#b8cce0"/><rect x="10" y="50" width="1" height="1" fill="#8eaed0"/><rect x="11" y="50" width="1" height="1" fill="#6e9cc4"/><rect x="12" y="50" width="1" height="1" fill="#5a8ab8"/><rect x="13" y="50" width="1" height="1" fill="#4c7eb0"/><rect x="14" y="50" width="1" height="1" fill="#486ea2"/><rect x="15" y="50" width="1" height="1" fill="#466ea2"/><rect x="16" y="50" width="1" height="1" fill="#466ca2"/><rect x="17" y="50" width="1" height="1" fill="#466ca0"/><rect x="18" y="50" width="1" height="1" fill="#4468a0"/><rect x="19" y="50" width="1" height="1" fill="#44669e"/><rect x="20" y="50" width="1" height="1" fill="#44649c"/><rect x="21" y="50" width="2" height="1" fill="#44609a"/><rect x="23" y="50" width="5" height="1" fill="#44629a"/><rect x="0" y="51" width="1" height="1" fill="#7080a0"/><rect x="1" y="51" width="1" height="1" fill="#7888a4"/><rect x="2" y="51" width="1" height="1" fill="#8890a8"/><rect x="3" y="51" width="1" height="1" fill="#a4a8b8"/><rect x="4" y="51" width="1" height="1" fill="#d0d0d8"/><rect x="5" y="51" width="1" height="1" fill="#e8e6ea"/><rect x="6" y="51" width="1" height="1" fill="#f4f4f6"/><rect x="7" y="51" width="1" height="1" fill="#eef0f8"/><rect x="8" y="51" width="1" height="1" fill="#ccdcec"/><rect x="9" y="51" width="1" height="1" fill="#a4c0dc"/><rect x="10" y="51" width="1" height="1" fill="#78a0c8"/><rect x="11" y="51" width="1" height="1" fill="#5a8cbc"/><rect x="12" y="51" width="1" height="1" fill="#4c7cb0"/><rect x="13" y="51" width="1" height="1" fill="#4874a8"/><rect x="14" y="51" width="1" height="1" fill="#486ea2"/><rect x="15" y="51" width="1" height="1" fill="#466ea2"/><rect x="16" y="51" width="1" height="1" fill="#466ca2"/><rect x="17" y="51" width="1" height="1" fill="#4670a4"/><rect x="18" y="51" width="1" height="1" fill="#466ca0"/><rect x="19" y="51" width="1" height="1" fill="#4468a0"/><rect x="20" y="51" width="1" height="1" fill="#44649c"/><rect x="21" y="51" width="2" height="1" fill="#44609a"/><rect x="23" y="51" width="2" height="1" fill="#44649c"/><rect x="25" y="51" width="1" height="1" fill="#4466a0"/><rect x="26" y="51" width="1" height="1" fill="#4464a0"/><rect x="27" y="51" width="1" height="1" fill="#4466a0"/><rect x="0" y="52" width="1" height="1" fill="#6c7ea0"/><rect x="1" y="52" width="1" height="1" fill="#7484a4"/><rect x="2" y="52" width="1" height="1" fill="#8890a8"/><rect x="3" y="52" width="1" height="1" fill="#a8acbc"/><rect x="4" y="52" width="1" height="1" fill="#d8d8e0"/><rect x="5" y="52" width="1" height="1" fill="#ecebee"/><rect x="6" y="52" width="1" height="1" fill="#f6f6f8"/><rect x="7" y="52" width="1" height="1" fill="#e8ecf6"/><rect x="8" y="52" width="1" height="1" fill="#c4d6ec"/><rect x="9" y="52" width="1" height="1" fill="#98b8d8"/><rect x="10" y="52" width="1" height="1" fill="#74a0c8"/><rect x="11" y="52" width="1" height="1" fill="#5a8abc"/><rect x="12" y="52" width="1" height="1" fill="#4a78ac"/><rect x="13" y="52" width="1" height="1" fill="#4872a6"/><rect x="14" y="52" width="1" height="1" fill="#486ea2"/><rect x="15" y="52" width="1" height="1" fill="#4872a6"/><rect x="16" y="52" width="1" height="1" fill="#4870a4"/><rect x="17" y="52" width="1" height="1" fill="#4672a6"/><rect x="18" y="52" width="1" height="1" fill="#466ea2"/><rect x="19" y="52" width="1" height="1" fill="#466aa0"/><rect x="20" y="52" width="1" height="1" fill="#44669e"/><rect x="21" y="52" width="1" height="1" fill="#44629a"/><rect x="22" y="52" width="1" height="1" fill="#44609a"/><rect x="23" y="52" width="2" height="1" fill="#446aa0"/><rect x="25" y="52" width="1" height="1" fill="#466ca2"/><rect x="26" y="52" width="2" height="1" fill="#4668a0"/><rect x="0" y="53" width="1" height="1" fill="#6c7ea0"/><rect x="1" y="53" width="1" height="1" fill="#7884a2"/><rect x="2" y="53" width="1" height="1" fill="#8c94aa"/><rect x="3" y="53" width="1" height="1" fill="#a8acbc"/><rect x="4" y="53" width="1" height="1" fill="#dcdce2"/><rect x="5" y="53" width="1" height="1" fill="#eeecee"/><rect x="6" y="53" width="1" height="1" fill="#f8f8f8"/><rect x="7" y="53" width="1" height="1" fill="#e8ecf4"/><rect x="8" y="53" width="1" height="1" fill="#bcd0e8"/><rect x="9" y="53" width="1" height="1" fill="#90b2d6"/><rect x="10" y="53" width="1" height="1" fill="#6e9ac4"/><rect x="11" y="53" width="1" height="1" fill="#5486b8"/><rect x="12" y="53" width="1" height="1" fill="#4a78ac"/><rect x="13" y="53" width="1" height="1" fill="#4672a6"/><rect x="14" y="53" width="1" height="1" fill="#4870a4"/><rect x="15" y="53" width="1" height="1" fill="#4872a6"/><rect x="16" y="53" width="1" height="1" fill="#4874a6"/><rect x="17" y="53" width="1" height="1" fill="#4672a6"/><rect x="18" y="53" width="1" height="1" fill="#4670a4"/><rect x="19" y="53" width="1" height="1" fill="#466ca0"/><rect x="20" y="53" width="1" height="1" fill="#4468a0"/><rect x="21" y="53" width="1" height="1" fill="#44649c"/><rect x="22" y="53" width="1" height="1" fill="#44629a"/><rect x="23" y="53" width="1" height="1" fill="#4468a0"/><rect x="24" y="53" width="1" height="1" fill="#4468a2"/><rect x="25" y="53" width="3" height="1" fill="#466ea4"/><rect x="0" y="54" width="1" height="1" fill="#7080a0"/><rect x="1" y="54" width="1" height="1" fill="#7884a2"/><rect x="2" y="54" width="1" height="1" fill="#9098ac"/><rect x="3" y="54" width="1" height="1" fill="#b0b4c2"/><rect x="4" y="54" width="1" height="1" fill="#e0e0e4"/><rect x="5" y="54" width="1" height="1" fill="#f2f0f2"/><rect x="6" y="54" width="1" height="1" fill="#f6f6fa"/><rect x="7" y="54" width="1" height="1" fill="#e0e8f4"/><rect x="8" y="54" width="1" height="1" fill="#acc8e4"/><rect x="9" y="54" width="1" height="1" fill="#88aed4"/><rect x="10" y="54" width="1" height="1" fill="#6898c4"/><rect x="11" y="54" width="1" height="1" fill="#5484b8"/><rect x="12" y="54" width="1" height="1" fill="#4a78ac"/><rect x="13" y="54" width="1" height="1" fill="#4672a6"/><rect x="14" y="54" width="1" height="1" fill="#4870a4"/><rect x="15" y="54" width="1" height="1" fill="#4874a8"/><rect x="16" y="54" width="1" height="1" fill="#4876a8"/><rect x="17" y="54" width="1" height="1" fill="#4874a8"/><rect x="18" y="54" width="1" height="1" fill="#4670a4"/><rect x="19" y="54" width="1" height="1" fill="#466ca0"/><rect x="20" y="54" width="1" height="1" fill="#466aa0"/><rect x="21" y="54" width="1" height="1" fill="#4468a0"/><rect x="22" y="54" width="1" height="1" fill="#4466a0"/><rect x="23" y="54" width="1" height="1" fill="#466ca2"/><rect x="24" y="54" width="1" height="1" fill="#466ea4"/><rect x="25" y="54" width="3" height="1" fill="#4670a6"/><rect x="0" y="55" width="1" height="1" fill="#7080a0"/><rect x="1" y="55" width="1" height="1" fill="#7c84a0"/><rect x="2" y="55" width="1" height="1" fill="#9ca0b0"/><rect x="3" y="55" width="1" height="1" fill="#b8b8c4"/><rect x="4" y="55" width="1" height="1" fill="#dcdce0"/><rect x="5" y="55" width="1" height="1" fill="#f0eef0"/><rect x="6" y="55" width="1" height="1" fill="#f0f0f6"/><rect x="7" y="55" width="1" height="1" fill="#d8e6f2"/><rect x="8" y="55" width="1" height="1" fill="#a8c4e0"/><rect x="9" y="55" width="1" height="1" fill="#84aad0"/><rect x="10" y="55" width="1" height="1" fill="#6090c0"/><rect x="11" y="55" width="1" height="1" fill="#4a7cb0"/><rect x="12" y="55" width="2" height="1" fill="#4a76aa"/><rect x="14" y="55" width="1" height="1" fill="#4874a6"/><rect x="15" y="55" width="1" height="1" fill="#4670a4"/><rect x="16" y="55" width="1" height="1" fill="#4870a4"/><rect x="17" y="55" width="3" height="1" fill="#466ea2"/><rect x="20" y="55" width="2" height="1" fill="#4670a4"/><rect x="22" y="55" width="3" height="1" fill="#4672a6"/><rect x="25" y="55" width="3" height="1" fill="#4470a4"/><rect x="0" y="56" width="1" height="1" fill="#7484a0"/><rect x="1" y="56" width="1" height="1" fill="#7c88a4"/><rect x="2" y="56" width="1" height="1" fill="#a0a4b4"/><rect x="3" y="56" width="1" height="1" fill="#c4c4cc"/><rect x="4" y="56" width="1" height="1" fill="#e4e2e6"/><rect x="5" y="56" width="1" height="1" fill="#f4f2f4"/><rect x="6" y="56" width="1" height="1" fill="#e4e8f2"/><rect x="7" y="56" width="1" height="1" fill="#c8d8e8"/><rect x="8" y="56" width="1" height="1" fill="#a0bcd8"/><rect x="9" y="56" width="1" height="1" fill="#7aa2cc"/><rect x="10" y="56" width="1" height="1" fill="#5888bc"/><rect x="11" y="56" width="1" height="1" fill="#4a78ae"/><rect x="12" y="56" width="2" height="1" fill="#4872a6"/><rect x="14" y="56" width="1" height="1" fill="#4672a6"/><rect x="15" y="56" width="1" height="1" fill="#4670a4"/><rect x="16" y="56" width="2" height="1" fill="#466ea2"/><rect x="18" y="56" width="3" height="1" fill="#4470a4"/><rect x="21" y="56" width="2" height="1" fill="#4270a4"/><rect x="23" y="56" width="5" height="1" fill="#426ea4"/><rect x="0" y="57" width="1" height="1" fill="#7888a0"/><rect x="1" y="57" width="1" height="1" fill="#8090a4"/><rect x="2" y="57" width="1" height="1" fill="#a4aab4"/><rect x="3" y="57" width="1" height="1" fill="#c8c8d0"/><rect x="4" y="57" width="1" height="1" fill="#e6e4e8"/><rect x="5" y="57" width="1" height="1" fill="#f4f2f4"/><rect x="6" y="57" width="1" height="1" fill="#dce4f0"/><rect x="7" y="57" width="1" height="1" fill="#bcccde"/><rect x="8" y="57" width="1" height="1" fill="#98b8d8"/><rect x="9" y="57" width="1" height="1" fill="#6e9cc8"/><rect x="10" y="57" width="1" height="1" fill="#5484b8"/><rect x="11" y="57" width="1" height="1" fill="#4a78ae"/><rect x="12" y="57" width="2" height="1" fill="#4872a6"/><rect x="14" y="57" width="1" height="1" fill="#4672a6"/><rect x="15" y="57" width="1" height="1" fill="#4670a4"/><rect x="16" y="57" width="2" height="1" fill="#466ea2"/><rect x="18" y="57" width="3" height="1" fill="#4470a4"/><rect x="21" y="57" width="2" height="1" fill="#4270a4"/><rect x="23" y="57" width="5" height="1" fill="#426ea4"/><rect x="0" y="58" width="1" height="1" fill="#7888a0"/><rect x="1" y="58" width="1" height="1" fill="#8090a4"/><rect x="2" y="58" width="1" height="1" fill="#acb0bc"/><rect x="3" y="58" width="1" height="1" fill="#ccccd4"/><rect x="4" y="58" width="1" height="1" fill="#eaeaec"/><rect x="5" y="58" width="1" height="1" fill="#f4f2f4"/><rect x="6" y="58" width="1" height="1" fill="#d4e0ee"/><rect x="7" y="58" width="1" height="1" fill="#acc4e0"/><rect x="8" y="58" width="1" height="1" fill="#88acd2"/><rect x="9" y="58" width="1" height="1" fill="#6494c4"/><rect x="10" y="58" width="1" height="1" fill="#5080b4"/><rect x="11" y="58" width="1" height="1" fill="#4a76aa"/><rect x="12" y="58" width="2" height="1" fill="#4872a6"/><rect x="14" y="58" width="1" height="1" fill="#4672a6"/><rect x="15" y="58" width="1" height="1" fill="#4670a4"/><rect x="16" y="58" width="2" height="1" fill="#466ea2"/><rect x="18" y="58" width="3" height="1" fill="#4470a4"/><rect x="21" y="58" width="2" height="1" fill="#4270a4"/><rect x="23" y="58" width="5" height="1" fill="#426ea4"/><rect x="0" y="59" width="1" height="1" fill="#8090a4"/><rect x="1" y="59" width="1" height="1" fill="#8898ac"/><rect x="2" y="59" width="1" height="1" fill="#b0b4bc"/><rect x="3" y="59" width="1" height="1" fill="#d4d4d8"/><rect x="4" y="59" width="1" height="1" fill="#eeeeee"/><rect x="5" y="59" width="1" height="1" fill="#f4f4f6"/><rect x="6" y="59" width="1" height="1" fill="#ccdcec"/><rect x="7" y="59" width="1" height="1" fill="#a8c0dc"/><rect x="8" y="59" width="1" height="1" fill="#80a6cc"/><rect x="9" y="59" width="1" height="1" fill="#5a8cbe"/><rect x="10" y="59" width="1" height="1" fill="#4c7cb0"/><rect x="11" y="59" width="1" height="1" fill="#4874a8"/><rect x="12" y="59" width="1" height="1" fill="#4872a6"/><rect x="13" y="59" width="1" height="1" fill="#4670a4"/><rect x="14" y="59" width="1" height="1" fill="#4672a6"/><rect x="15" y="59" width="1" height="1" fill="#466ea2"/><rect x="16" y="59" width="1" height="1" fill="#466aa0"/><rect x="17" y="59" width="1" height="1" fill="#4668a0"/><rect x="18" y="59" width="1" height="1" fill="#4670a2"/><rect x="19" y="59" width="2" height="1" fill="#446ea2"/><rect x="21" y="59" width="7" height="1" fill="#426aa0"/><rect x="0" y="60" width="1" height="1" fill="#8c98a8"/><rect x="1" y="60" width="1" height="1" fill="#98a0b0"/><rect x="2" y="60" width="1" height="1" fill="#c0c0c8"/><rect x="3" y="60" width="1" height="1" fill="#dcdce0"/><rect x="4" y="60" width="1" height="1" fill="#f2f2f2"/><rect x="5" y="60" width="1" height="1" fill="#e8eef4"/><rect x="6" y="60" width="1" height="1" fill="#c4d4e8"/><rect x="7" y="60" width="1" height="1" fill="#98b8d8"/><rect x="8" y="60" width="1" height="1" fill="#78a0c8"/><rect x="9" y="60" width="1" height="1" fill="#5486b8"/><rect x="10" y="60" width="1" height="1" fill="#4a7aac"/><rect x="11" y="60" width="3" height="1" fill="#4872a6"/><rect x="14" y="60" width="1" height="1" fill="#4672a6"/><rect x="15" y="60" width="1" height="1" fill="#466ea2"/><rect x="16" y="60" width="1" height="1" fill="#466aa0"/><rect x="17" y="60" width="1" height="1" fill="#4668a0"/><rect x="18" y="60" width="1" height="1" fill="#4670a2"/><rect x="19" y="60" width="2" height="1" fill="#446ea2"/><rect x="21" y="60" width="7" height="1" fill="#426aa0"/><rect x="0" y="61" width="1" height="1" fill="#9ca0b0"/><rect x="1" y="61" width="1" height="1" fill="#a4a8b4"/><rect x="2" y="61" width="1" height="1" fill="#d0d0d6"/><rect x="3" y="61" width="1" height="1" fill="#e8e8e8"/><rect x="4" y="61" width="1" height="1" fill="#f4f2f4"/><rect x="5" y="61" width="1" height="1" fill="#dce6ee"/><rect x="6" y="61" width="1" height="1" fill="#b4cce2"/><rect x="7" y="61" width="1" height="1" fill="#90b0d4"/><rect x="8" y="61" width="1" height="1" fill="#6c98c4"/><rect x="9" y="61" width="1" height="1" fill="#5080b4"/><rect x="10" y="61" width="1" height="1" fill="#4a76aa"/><rect x="11" y="61" width="3" height="1" fill="#4872a6"/><rect x="14" y="61" width="1" height="1" fill="#4672a6"/><rect x="15" y="61" width="1" height="1" fill="#466ea2"/><rect x="16" y="61" width="1" height="1" fill="#466aa0"/><rect x="17" y="61" width="1" height="1" fill="#4668a0"/><rect x="18" y="61" width="1" height="1" fill="#4670a2"/><rect x="19" y="61" width="2" height="1" fill="#446ea2"/><rect x="21" y="61" width="7" height="1" fill="#426aa0"/><rect x="0" y="62" width="1" height="1" fill="#acacbc"/><rect x="1" y="62" width="1" height="1" fill="#b4b4c0"/><rect x="2" y="62" width="1" height="1" fill="#e0e0e2"/><rect x="3" y="62" width="1" height="1" fill="#f0f2f2"/><rect x="4" y="62" width="1" height="1" fill="#e8eef4"/><rect x="5" y="62" width="1" height="1" fill="#c8d8ea"/><rect x="6" y="62" width="1" height="1" fill="#a4bcd8"/><rect x="7" y="62" width="1" height="1" fill="#7ca4cc"/><rect x="8" y="62" width="1" height="1" fill="#6090bc"/><rect x="9" y="62" width="1" height="1" fill="#4c7cb0"/><rect x="10" y="62" width="1" height="1" fill="#4874a8"/><rect x="11" y="62" width="2" height="1" fill="#4872a6"/><rect x="13" y="62" width="1" height="1" fill="#4871a5"/><rect x="14" y="62" width="1" height="1" fill="#4470a4"/><rect x="15" y="62" width="2" height="1" fill="#446ea2"/><rect x="17" y="62" width="3" height="1" fill="#426ca2"/><rect x="20" y="62" width="4" height="1" fill="#426aa0"/><rect x="24" y="62" width="2" height="1" fill="#4268a0"/><rect x="26" y="62" width="2" height="1" fill="#4266a0"/><rect x="0" y="63" width="1" height="1" fill="#c8c8d0"/><rect x="1" y="63" width="1" height="1" fill="#d0d0d4"/><rect x="2" y="63" width="1" height="1" fill="#eeeeee"/><rect x="3" y="63" width="1" height="1" fill="#f4f6f6"/><rect x="4" y="63" width="1" height="1" fill="#dce6ee"/><rect x="5" y="63" width="1" height="1" fill="#b8cce2"/><rect x="6" y="63" width="1" height="1" fill="#90b0d4"/><rect x="7" y="63" width="1" height="1" fill="#6c9ac4"/><rect x="8" y="63" width="1" height="1" fill="#5284b4"/><rect x="9" y="63" width="1" height="1" fill="#4a78aa"/><rect x="10" y="63" width="1" height="1" fill="#4872a6"/><rect x="11" y="63" width="1" height="1" fill="#4871a5"/><rect x="12" y="63" width="1" height="1" fill="#4870a5"/><rect x="13" y="63" width="1" height="1" fill="#4770a4"/><rect x="14" y="63" width="1" height="1" fill="#4470a4"/><rect x="15" y="63" width="2" height="1" fill="#446ea2"/><rect x="17" y="63" width="3" height="1" fill="#426ca2"/><rect x="20" y="63" width="4" height="1" fill="#426aa0"/><rect x="24" y="63" width="2" height="1" fill="#4268a0"/><rect x="26" y="63" width="2" height="1" fill="#4266a0"/><rect x="0" y="64" width="1" height="1" fill="#e0dce0"/><rect x="1" y="64" width="1" height="1" fill="#e4e0e4"/><rect x="2" y="64" width="1" height="1" fill="#f4f4f4"/><rect x="3" y="64" width="1" height="1" fill="#eef0f4"/><rect x="4" y="64" width="1" height="1" fill="#cddae6"/><rect x="5" y="64" width="1" height="1" fill="#a8c0d8"/><rect x="6" y="64" width="1" height="1" fill="#7aa2c8"/><rect x="7" y="64" width="1" height="1" fill="#5e8cbc"/><rect x="8" y="64" width="1" height="1" fill="#4c7cb0"/><rect x="9" y="64" width="1" height="1" fill="#4a76a8"/><rect x="10" y="64" width="1" height="1" fill="#4872a6"/><rect x="11" y="64" width="1" height="1" fill="#4871a5"/><rect x="12" y="64" width="1" height="1" fill="#4870a5"/><rect x="13" y="64" width="1" height="1" fill="#476fa4"/><rect x="14" y="64" width="1" height="1" fill="#4672a6"/><rect x="15" y="64" width="1" height="1" fill="#446ea2"/><rect x="16" y="64" width="3" height="1" fill="#426ca2"/><rect x="19" y="64" width="4" height="1" fill="#426aa0"/><rect x="23" y="64" width="1" height="1" fill="#4066a0"/><rect x="24" y="64" width="4" height="1" fill="#40649c"/><rect x="0" y="65" width="1" height="1" fill="#f2eef0"/><rect x="1" y="65" width="1" height="1" fill="#f4f0f2"/><rect x="2" y="65" width="1" height="1" fill="#f6f6f8"/><rect x="3" y="65" width="1" height="1" fill="#e8eef4"/><rect x="4" y="65" width="1" height="1" fill="#c8d8e6"/><rect x="5" y="65" width="1" height="1" fill="#a0bcd8"/><rect x="6" y="65" width="1" height="1" fill="#72a0c8"/><rect x="7" y="65" width="1" height="1" fill="#5888b8"/><rect x="8" y="65" width="1" height="1" fill="#4a7cae"/><rect x="9" y="65" width="1" height="1" fill="#4876a8"/><rect x="10" y="65" width="1" height="1" fill="#4872a6"/><rect x="11" y="65" width="1" height="1" fill="#4871a5"/><rect x="12" y="65" width="1" height="1" fill="#4870a5"/><rect x="13" y="65" width="1" height="1" fill="#476fa4"/><rect x="14" y="65" width="1" height="1" fill="#4672a6"/><rect x="15" y="65" width="1" height="1" fill="#446ea2"/><rect x="16" y="65" width="3" height="1" fill="#426ca2"/><rect x="19" y="65" width="4" height="1" fill="#426aa0"/><rect x="23" y="65" width="1" height="1" fill="#4066a0"/><rect x="24" y="65" width="4" height="1" fill="#40649c"/></g><g transform="translate(872.8,53.2) scale(18.428571428571427,18.400000000000002)" shape-rendering="crispEdges"><rect x="0" y="0" width="4" height="1" fill="#8e3574"/><rect x="4" y="0" width="3" height="1" fill="#8c3472"/><rect x="7" y="0" width="2" height="1" fill="#8e3674"/><rect x="9" y="0" width="1" height="1" fill="#963c78"/><rect x="10" y="0" width="1" height="1" fill="#a0467e"/><rect x="11" y="0" width="1" height="1" fill="#ae5488"/><rect x="12" y="0" width="1" height="1" fill="#b45a8e"/><rect x="13" y="0" width="1" height="1" fill="#b86292"/><rect x="14" y="0" width="1" height="1" fill="#b65e90"/><rect x="15" y="0" width="1" height="1" fill="#aa5688"/><rect x="16" y="0" width="12" height="1" fill="#54249c"/><rect x="0" y="1" width="4" height="1" fill="#8e3574"/><rect x="4" y="1" width="3" height="1" fill="#8c3472"/><rect x="7" y="1" width="2" height="1" fill="#8e3674"/><rect x="9" y="1" width="1" height="1" fill="#963c78"/><rect x="10" y="1" width="1" height="1" fill="#a0467e"/><rect x="11" y="1" width="1" height="1" fill="#ae5488"/><rect x="12" y="1" width="1" height="1" fill="#b45a8e"/><rect x="13" y="1" width="1" height="1" fill="#b86292"/><rect x="14" y="1" width="1" height="1" fill="#b65e90"/><rect x="15" y="1" width="1" height="1" fill="#aa5688"/><rect x="16" y="1" width="12" height="1" fill="#54249c"/><rect x="0" y="2" width="4" height="1" fill="#8e3574"/><rect x="4" y="2" width="3" height="1" fill="#8c3472"/><rect x="7" y="2" width="2" height="1" fill="#8e3674"/><rect x="9" y="2" width="1" height="1" fill="#963c78"/><rect x="10" y="2" width="1" height="1" fill="#a0467e"/><rect x="11" y="2" width="1" height="1" fill="#ae5488"/><rect x="12" y="2" width="1" height="1" fill="#b45a8e"/><rect x="13" y="2" width="1" height="1" fill="#b86292"/><rect x="14" y="2" width="1" height="1" fill="#b65e90"/><rect x="15" y="2" width="1" height="1" fill="#aa5688"/><rect x="16" y="2" width="12" height="1" fill="#54249c"/><rect x="0" y="3" width="4" height="1" fill="#8e3574"/><rect x="4" y="3" width="3" height="1" fill="#8c3472"/><rect x="7" y="3" width="2" height="1" fill="#8e3674"/><rect x="9" y="3" width="1" height="1" fill="#963c78"/><rect x="10" y="3" width="1" height="1" fill="#a0467e"/><rect x="11" y="3" width="1" height="1" fill="#ae5488"/><rect x="12" y="3" width="1" height="1" fill="#b45a8e"/><rect x="13" y="3" width="1" height="1" fill="#b86292"/><rect x="14" y="3" width="1" height="1" fill="#b65e90"/><rect x="15" y="3" width="1" height="1" fill="#aa5688"/><rect x="16" y="3" width="12" height="1" fill="#54249c"/><rect x="0" y="4" width="4" height="1" fill="#8e3574"/><rect x="4" y="4" width="3" height="1" fill="#8c3472"/><rect x="7" y="4" width="2" height="1" fill="#8e3674"/><rect x="9" y="4" width="1" height="1" fill="#963c78"/><rect x="10" y="4" width="1" height="1" fill="#a0467e"/><rect x="11" y="4" width="1" height="1" fill="#ae5488"/><rect x="12" y="4" width="1" height="1" fill="#b45a8e"/><rect x="13" y="4" width="1" height="1" fill="#b86292"/><rect x="14" y="4" width="1" height="1" fill="#b65e90"/><rect x="15" y="4" width="1" height="1" fill="#aa5688"/><rect x="16" y="4" width="12" height="1" fill="#54249c"/><rect x="0" y="5" width="3" height="1" fill="#8e3574"/><rect x="3" y="5" width="4" height="1" fill="#8c3472"/><rect x="7" y="5" width="2" height="1" fill="#903876"/><rect x="9" y="5" width="1" height="1" fill="#963c78"/><rect x="10" y="5" width="1" height="1" fill="#a0467e"/><rect x="11" y="5" width="1" height="1" fill="#ae5488"/><rect x="12" y="5" width="1" height="1" fill="#b45a8e"/><rect x="13" y="5" width="1" height="1" fill="#b86292"/><rect x="14" y="5" width="1" height="1" fill="#b65e90"/><rect x="15" y="5" width="1" height="1" fill="#aa5688"/><rect x="16" y="5" width="12" height="1" fill="#54249c"/><rect x="0" y="6" width="3" height="1" fill="#8e3574"/><rect x="3" y="6" width="4" height="1" fill="#8c3472"/><rect x="7" y="6" width="2" height="1" fill="#903876"/><rect x="9" y="6" width="1" height="1" fill="#963c78"/><rect x="10" y="6" width="1" height="1" fill="#a0467e"/><rect x="11" y="6" width="1" height="1" fill="#ae5488"/><rect x="12" y="6" width="1" height="1" fill="#b45a8e"/><rect x="13" y="6" width="1" height="1" fill="#b86292"/><rect x="14" y="6" width="1" height="1" fill="#b65e90"/><rect x="15" y="6" width="1" height="1" fill="#aa5688"/><rect x="16" y="6" width="12" height="1" fill="#54249c"/><rect x="0" y="7" width="3" height="1" fill="#8e3574"/><rect x="3" y="7" width="4" height="1" fill="#8c3472"/><rect x="7" y="7" width="2" height="1" fill="#923a78"/><rect x="9" y="7" width="1" height="1" fill="#983e7a"/><rect x="10" y="7" width="1" height="1" fill="#a24880"/><rect x="11" y="7" width="1" height="1" fill="#ae5488"/><rect x="12" y="7" width="1" height="1" fill="#b45a8e"/><rect x="13" y="7" width="1" height="1" fill="#b86292"/><rect x="14" y="7" width="1" height="1" fill="#b65e90"/><rect x="15" y="7" width="1" height="1" fill="#aa5688"/><rect x="16" y="7" width="12" height="1" fill="#54249c"/><rect x="0" y="8" width="4" height="1" fill="#8e3674"/><rect x="4" y="8" width="1" height="1" fill="#903878"/><rect x="5" y="8" width="1" height="1" fill="#943c78"/><rect x="6" y="8" width="1" height="1" fill="#963c78"/><rect x="7" y="8" width="1" height="1" fill="#9a4078"/><rect x="8" y="8" width="1" height="1" fill="#9c4478"/><rect x="9" y="8" width="1" height="1" fill="#a04680"/><rect x="10" y="8" width="1" height="1" fill="#a44a80"/><rect x="11" y="8" width="1" height="1" fill="#a84e84"/><rect x="12" y="8" width="1" height="1" fill="#b45a8e"/><rect x="13" y="8" width="1" height="1" fill="#b86292"/><rect x="14" y="8" width="1" height="1" fill="#b05c8c"/><rect x="15" y="8" width="1" height="1" fill="#a85488"/><rect x="16" y="8" width="12" height="1" fill="#54249c"/><rect x="0" y="9" width="2" height="1" fill="#8e3674"/><rect x="2" y="9" width="1" height="1" fill="#903878"/><rect x="3" y="9" width="1" height="1" fill="#943a78"/><rect x="4" y="9" width="1" height="1" fill="#963c78"/><rect x="5" y="9" width="1" height="1" fill="#9a4078"/><rect x="6" y="9" width="1" height="1" fill="#9e4478"/><rect x="7" y="9" width="1" height="1" fill="#a04680"/><rect x="8" y="9" width="3" height="1" fill="#a44a80"/><rect x="11" y="9" width="1" height="1" fill="#a84e84"/><rect x="12" y="9" width="1" height="1" fill="#b45a8e"/><rect x="13" y="9" width="1" height="1" fill="#b66090"/><rect x="14" y="9" width="1" height="1" fill="#b05c8c"/><rect x="15" y="9" width="1" height="1" fill="#a85488"/><rect x="16" y="9" width="12" height="1" fill="#54249c"/><rect x="0" y="10" width="1" height="1" fill="#8e3674"/><rect x="1" y="10" width="1" height="1" fill="#903878"/><rect x="2" y="10" width="1" height="1" fill="#923a78"/><rect x="3" y="10" width="1" height="1" fill="#963c78"/><rect x="4" y="10" width="1" height="1" fill="#9a4078"/><rect x="5" y="10" width="1" height="1" fill="#9c4478"/><rect x="6" y="10" width="1" height="1" fill="#a04680"/><rect x="7" y="10" width="1" height="1" fill="#a24880"/><rect x="8" y="10" width="3" height="1" fill="#a44a80"/><rect x="11" y="10" width="1" height="1" fill="#a84e84"/><rect x="12" y="10" width="1" height="1" fill="#b05888"/><rect x="13" y="10" width="1" height="1" fill="#b45c8e"/><rect x="14" y="10" width="1" height="1" fill="#b05c8c"/><rect x="15" y="10" width="13" height="1" fill="#54249c"/><rect x="0" y="11" width="1" height="1" fill="#943a78"/><rect x="1" y="11" width="1" height="1" fill="#923a78"/><rect x="2" y="11" width="2" height="1" fill="#943c7a"/><rect x="4" y="11" width="1" height="1" fill="#963e7a"/><rect x="5" y="11" width="1" height="1" fill="#9a4278"/><rect x="6" y="11" width="1" height="1" fill="#a04680"/><rect x="7" y="11" width="1" height="1" fill="#a44a80"/><rect x="8" y="11" width="2" height="1" fill="#a84e84"/><rect x="10" y="11" width="2" height="1" fill="#a44a80"/><rect x="12" y="11" width="1" height="1" fill="#ae5488"/><rect x="13" y="11" width="1" height="1" fill="#b05a8c"/><rect x="14" y="11" width="1" height="1" fill="#ae5a8a"/><rect x="15" y="11" width="13" height="1" fill="#54249c"/><rect x="0" y="12" width="1" height="1" fill="#943a78"/><rect x="1" y="12" width="1" height="1" fill="#923a78"/><rect x="2" y="12" width="2" height="1" fill="#943c7a"/><rect x="4" y="12" width="1" height="1" fill="#963e7a"/><rect x="5" y="12" width="1" height="1" fill="#9a4278"/><rect x="6" y="12" width="1" height="1" fill="#a04680"/><rect x="7" y="12" width="1" height="1" fill="#a44a80"/><rect x="8" y="12" width="2" height="1" fill="#a84e84"/><rect x="10" y="12" width="2" height="1" fill="#a44a80"/><rect x="12" y="12" width="1" height="1" fill="#ae5488"/><rect x="13" y="12" width="1" height="1" fill="#b05a8c"/><rect x="14" y="12" width="1" height="1" fill="#ae5a8a"/><rect x="15" y="12" width="13" height="1" fill="#54249c"/><rect x="0" y="13" width="3" height="1" fill="#923a78"/><rect x="3" y="13" width="2" height="1" fill="#943c7a"/><rect x="5" y="13" width="1" height="1" fill="#963c78"/><rect x="6" y="13" width="1" height="1" fill="#943a78"/><rect x="7" y="13" width="1" height="1" fill="#9c4478"/><rect x="8" y="13" width="1" height="1" fill="#a44a80"/><rect x="9" y="13" width="1" height="1" fill="#a84e84"/><rect x="10" y="13" width="2" height="1" fill="#a44a80"/><rect x="12" y="13" width="1" height="1" fill="#ae5488"/><rect x="13" y="13" width="1" height="1" fill="#b05a8c"/><rect x="14" y="13" width="1" height="1" fill="#ae5a8a"/><rect x="15" y="13" width="13" height="1" fill="#54249c"/><rect x="0" y="14" width="2" height="1" fill="#923a78"/><rect x="2" y="14" width="2" height="1" fill="#903878"/><rect x="4" y="14" width="1" height="1" fill="#8c3674"/><rect x="5" y="14" width="1" height="1" fill="#8e3674"/><rect x="6" y="14" width="1" height="1" fill="#903878"/><rect x="7" y="14" width="1" height="1" fill="#983e7a"/><rect x="8" y="14" width="1" height="1" fill="#a24880"/><rect x="9" y="14" width="1" height="1" fill="#a84e84"/><rect x="10" y="14" width="1" height="1" fill="#a44a80"/><rect x="11" y="14" width="1" height="1" fill="#a84e84"/><rect x="12" y="14" width="1" height="1" fill="#ae5488"/><rect x="13" y="14" width="1" height="1" fill="#b05a8c"/><rect x="14" y="14" width="1" height="1" fill="#ae5a8a"/><rect x="15" y="14" width="13" height="1" fill="#54249c"/><rect x="0" y="15" width="4" height="1" fill="#903878"/><rect x="4" y="15" width="1" height="1" fill="#8c3474"/><rect x="5" y="15" width="1" height="1" fill="#8c3674"/><rect x="6" y="15" width="1" height="1" fill="#8e3674"/><rect x="7" y="15" width="1" height="1" fill="#963c78"/><rect x="8" y="15" width="1" height="1" fill="#a04680"/><rect x="9" y="15" width="2" height="1" fill="#a84e84"/><rect x="11" y="15" width="1" height="1" fill="#ac5288"/><rect x="12" y="15" width="1" height="1" fill="#b05688"/><rect x="13" y="15" width="1" height="1" fill="#b05a8c"/><rect x="14" y="15" width="1" height="1" fill="#ae5a8a"/><rect x="15" y="15" width="13" height="1" fill="#54249c"/><rect x="0" y="16" width="1" height="1" fill="#923a78"/><rect x="1" y="16" width="3" height="1" fill="#903878"/><rect x="4" y="16" width="2" height="1" fill="#8c3474"/><rect x="6" y="16" width="1" height="1" fill="#8c3674"/><rect x="7" y="16" width="1" height="1" fill="#923a78"/><rect x="8" y="16" width="1" height="1" fill="#9c4478"/><rect x="9" y="16" width="1" height="1" fill="#a24880"/><rect x="10" y="16" width="1" height="1" fill="#a84e84"/><rect x="11" y="16" width="1" height="1" fill="#ac5288"/><rect x="12" y="16" width="1" height="1" fill="#b25a8c"/><rect x="13" y="16" width="1" height="1" fill="#b05a8c"/><rect x="14" y="16" width="1" height="1" fill="#ae5a8a"/><rect x="15" y="16" width="13" height="1" fill="#54249c"/><rect x="0" y="17" width="3" height="1" fill="#903878"/><rect x="3" y="17" width="1" height="1" fill="#923a78"/><rect x="4" y="17" width="2" height="1" fill="#8c3474"/><rect x="6" y="17" width="1" height="1" fill="#8c3674"/><rect x="7" y="17" width="1" height="1" fill="#903878"/><rect x="8" y="17" width="1" height="1" fill="#983e7a"/><rect x="9" y="17" width="1" height="1" fill="#a04680"/><rect x="10" y="17" width="1" height="1" fill="#a84e84"/><rect x="11" y="17" width="1" height="1" fill="#ae5488"/><rect x="12" y="17" width="1" height="1" fill="#b45c8e"/><rect x="13" y="17" width="1" height="1" fill="#b05a8c"/><rect x="14" y="17" width="1" height="1" fill="#ae5a8a"/><rect x="15" y="17" width="13" height="1" fill="#54249c"/><rect x="0" y="18" width="2" height="1" fill="#903878"/><rect x="2" y="18" width="2" height="1" fill="#923a78"/><rect x="4" y="18" width="3" height="1" fill="#8e3674"/><rect x="7" y="18" width="1" height="1" fill="#903878"/><rect x="8" y="18" width="1" height="1" fill="#943c78"/><rect x="9" y="18" width="1" height="1" fill="#9a4078"/><rect x="10" y="18" width="1" height="1" fill="#a44a80"/><rect x="11" y="18" width="1" height="1" fill="#ae5488"/><rect x="12" y="18" width="1" height="1" fill="#b45c8e"/><rect x="13" y="18" width="1" height="1" fill="#b05a8c"/><rect x="14" y="18" width="1" height="1" fill="#ae5a8a"/><rect x="15" y="18" width="13" height="1" fill="#54249c"/><rect x="0" y="19" width="2" height="1" fill="#903878"/><rect x="2" y="19" width="2" height="1" fill="#923a78"/><rect x="4" y="19" width="3" height="1" fill="#8e3674"/><rect x="7" y="19" width="1" height="1" fill="#903878"/><rect x="8" y="19" width="1" height="1" fill="#943c78"/><rect x="9" y="19" width="1" height="1" fill="#983e7a"/><rect x="10" y="19" width="1" height="1" fill="#a44a80"/><rect x="11" y="19" width="1" height="1" fill="#ac5488"/><rect x="12" y="19" width="1" height="1" fill="#b45c8e"/><rect x="13" y="19" width="1" height="1" fill="#b05a8c"/><rect x="14" y="19" width="1" height="1" fill="#ae5a8a"/><rect x="15" y="19" width="13" height="1" fill="#54249c"/><rect x="0" y="20" width="2" height="1" fill="#903878"/><rect x="2" y="20" width="2" height="1" fill="#923a78"/><rect x="4" y="20" width="3" height="1" fill="#903878"/><rect x="7" y="20" width="1" height="1" fill="#923a78"/><rect x="8" y="20" width="1" height="1" fill="#983e7a"/><rect x="9" y="20" width="1" height="1" fill="#9a4078"/><rect x="10" y="20" width="1" height="1" fill="#ac5488"/><rect x="11" y="20" width="1" height="1" fill="#b45c8e"/><rect x="12" y="20" width="1" height="1" fill="#b45e8e"/><rect x="13" y="20" width="1" height="1" fill="#b05a8c"/><rect x="14" y="20" width="14" height="1" fill="#54249c"/><rect x="0" y="21" width="2" height="1" fill="#903878"/><rect x="2" y="21" width="1" height="1" fill="#923a78"/><rect x="3" y="21" width="1" height="1" fill="#943a78"/><rect x="4" y="21" width="3" height="1" fill="#923a78"/><rect x="7" y="21" width="1" height="1" fill="#943c78"/><rect x="8" y="21" width="1" height="1" fill="#9a4078"/><rect x="9" y="21" width="1" height="1" fill="#a04680"/><rect x="10" y="21" width="1" height="1" fill="#b05888"/><rect x="11" y="21" width="1" height="1" fill="#b45c8e"/><rect x="12" y="21" width="1" height="1" fill="#b45e8e"/><rect x="13" y="21" width="1" height="1" fill="#ae5a8a"/><rect x="14" y="21" width="14" height="1" fill="#54249c"/><rect x="0" y="22" width="2" height="1" fill="#923a78"/><rect x="2" y="22" width="5" height="1" fill="#943c78"/><rect x="7" y="22" width="1" height="1" fill="#983e7a"/><rect x="8" y="22" width="1" height="1" fill="#a04680"/><rect x="9" y="22" width="1" height="1" fill="#a84e84"/><rect x="10" y="22" width="1" height="1" fill="#b45a8e"/><rect x="11" y="22" width="1" height="1" fill="#b86292"/><rect x="12" y="22" width="1" height="1" fill="#b66090"/><rect x="13" y="22" width="1" height="1" fill="#ae5a8a"/><rect x="14" y="22" width="14" height="1" fill="#54249c"/><rect x="0" y="23" width="2" height="1" fill="#923a78"/><rect x="2" y="23" width="5" height="1" fill="#943c78"/><rect x="7" y="23" width="1" height="1" fill="#983e7a"/><rect x="8" y="23" width="1" height="1" fill="#a04680"/><rect x="9" y="23" width="1" height="1" fill="#a84e84"/><rect x="10" y="23" width="1" height="1" fill="#b45a8e"/><rect x="11" y="23" width="1" height="1" fill="#b86292"/><rect x="12" y="23" width="1" height="1" fill="#b66090"/><rect x="13" y="23" width="1" height="1" fill="#ae5a8a"/><rect x="14" y="23" width="14" height="1" fill="#54249c"/><rect x="0" y="24" width="2" height="1" fill="#923a78"/><rect x="2" y="24" width="3" height="1" fill="#943c78"/><rect x="5" y="24" width="2" height="1" fill="#903878"/><rect x="7" y="24" width="1" height="1" fill="#963c78"/><rect x="8" y="24" width="1" height="1" fill="#a04680"/><rect x="9" y="24" width="1" height="1" fill="#a84e84"/><rect x="10" y="24" width="1" height="1" fill="#b45a8e"/><rect x="11" y="24" width="2" height="1" fill="#b86292"/><rect x="13" y="24" width="1" height="1" fill="#b05c8c"/><rect x="14" y="24" width="14" height="1" fill="#54249c"/><rect x="0" y="25" width="2" height="1" fill="#923a78"/><rect x="2" y="25" width="1" height="1" fill="#943c78"/><rect x="3" y="25" width="1" height="1" fill="#963c78"/><rect x="4" y="25" width="1" height="1" fill="#943a78"/><rect x="5" y="25" width="2" height="1" fill="#903878"/><rect x="7" y="25" width="1" height="1" fill="#963c78"/><rect x="8" y="25" width="1" height="1" fill="#9e4478"/><rect x="9" y="25" width="1" height="1" fill="#a84e84"/><rect x="10" y="25" width="1" height="1" fill="#b45a8e"/><rect x="11" y="25" width="2" height="1" fill="#b86292"/><rect x="13" y="25" width="1" height="1" fill="#b05c8c"/><rect x="14" y="25" width="1" height="1" fill="#ac5a8a"/><rect x="15" y="25" width="13" height="1" fill="#54249c"/><rect x="0" y="26" width="1" height="1" fill="#923a78"/><rect x="1" y="26" width="1" height="1" fill="#943c78"/><rect x="2" y="26" width="2" height="1" fill="#963c78"/><rect x="4" y="26" width="2" height="1" fill="#8e3674"/><rect x="6" y="26" width="1" height="1" fill="#903878"/><rect x="7" y="26" width="1" height="1" fill="#963c78"/><rect x="8" y="26" width="1" height="1" fill="#9e4478"/><rect x="9" y="26" width="1" height="1" fill="#a84e84"/><rect x="10" y="26" width="1" height="1" fill="#b45a8e"/><rect x="11" y="26" width="2" height="1" fill="#b86292"/><rect x="13" y="26" width="1" height="1" fill="#b45c8e"/><rect x="14" y="26" width="1" height="1" fill="#ac5a8a"/><rect x="15" y="26" width="13" height="1" fill="#54249c"/><rect x="0" y="27" width="1" height="1" fill="#8e3674"/><rect x="1" y="27" width="1" height="1" fill="#923a78"/><rect x="2" y="27" width="1" height="1" fill="#963c78"/><rect x="3" y="27" width="1" height="1" fill="#943a78"/><rect x="4" y="27" width="2" height="1" fill="#8c3472"/><rect x="6" y="27" width="1" height="1" fill="#903878"/><rect x="7" y="27" width="1" height="1" fill="#963c78"/><rect x="8" y="27" width="1" height="1" fill="#9c4478"/><rect x="9" y="27" width="1" height="1" fill="#a44a80"/><rect x="10" y="27" width="1" height="1" fill="#b05888"/><rect x="11" y="27" width="2" height="1" fill="#b86292"/><rect x="13" y="27" width="1" height="1" fill="#b45c8e"/><rect x="14" y="27" width="1" height="1" fill="#ac5a8a"/><rect x="15" y="27" width="13" height="1" fill="#54249c"/><rect x="0" y="28" width="1" height="1" fill="#8e3674"/><rect x="1" y="28" width="1" height="1" fill="#923a78"/><rect x="2" y="28" width="1" height="1" fill="#943a78"/><rect x="3" y="28" width="1" height="1" fill="#923a78"/><rect x="4" y="28" width="2" height="1" fill="#8e3674"/><rect x="6" y="28" width="1" height="1" fill="#903878"/><rect x="7" y="28" width="1" height="1" fill="#943c78"/><rect x="8" y="28" width="1" height="1" fill="#9c4478"/><rect x="9" y="28" width="1" height="1" fill="#a44a80"/><rect x="10" y="28" width="1" height="1" fill="#b05888"/><rect x="11" y="28" width="1" height="1" fill="#b45c8e"/><rect x="12" y="28" width="1" height="1" fill="#b86292"/><rect x="13" y="28" width="1" height="1" fill="#b45c8e"/><rect x="14" y="28" width="1" height="1" fill="#ac5a8a"/><rect x="15" y="28" width="13" height="1" fill="#54249c"/><rect x="0" y="29" width="1" height="1" fill="#8e3674"/><rect x="1" y="29" width="5" height="1" fill="#903878"/><rect x="6" y="29" width="1" height="1" fill="#943a78"/><rect x="7" y="29" width="1" height="1" fill="#983e7a"/><rect x="8" y="29" width="1" height="1" fill="#9c4478"/><rect x="9" y="29" width="1" height="1" fill="#a44a80"/><rect x="10" y="29" width="1" height="1" fill="#b05888"/><rect x="11" y="29" width="1" height="1" fill="#b45c8e"/><rect x="12" y="29" width="1" height="1" fill="#b86292"/><rect x="13" y="29" width="1" height="1" fill="#b45e8e"/><rect x="14" y="29" width="1" height="1" fill="#ac5a8a"/><rect x="15" y="29" width="13" height="1" fill="#54249c"/><rect x="0" y="30" width="1" height="1" fill="#8e3674"/><rect x="1" y="30" width="2" height="1" fill="#903878"/><rect x="3" y="30" width="1" height="1" fill="#923a78"/><rect x="4" y="30" width="1" height="1" fill="#943c78"/><rect x="5" y="30" width="1" height="1" fill="#963c78"/><rect x="6" y="30" width="2" height="1" fill="#983e7a"/><rect x="8" y="30" width="1" height="1" fill="#9c4478"/><rect x="9" y="30" width="1" height="1" fill="#a44a80"/><rect x="10" y="30" width="1" height="1" fill="#b05888"/><rect x="11" y="30" width="1" height="1" fill="#b45c8e"/><rect x="12" y="30" width="1" height="1" fill="#b86292"/><rect x="13" y="30" width="1" height="1" fill="#b45e8e"/><rect x="14" y="30" width="1" height="1" fill="#b05c8c"/><rect x="15" y="30" width="1" height="1" fill="#ac5a8a"/><rect x="16" y="30" width="12" height="1" fill="#54249c"/><rect x="0" y="31" width="1" height="1" fill="#8e3674"/><rect x="1" y="31" width="1" height="1" fill="#903878"/><rect x="2" y="31" width="1" height="1" fill="#923a78"/><rect x="3" y="31" width="1" height="1" fill="#963c78"/><rect x="4" y="31" width="3" height="1" fill="#983e7a"/><rect x="7" y="31" width="1" height="1" fill="#9a4078"/><rect x="8" y="31" width="1" height="1" fill="#9e4478"/><rect x="9" y="31" width="1" height="1" fill="#a44a80"/><rect x="10" y="31" width="1" height="1" fill="#b05888"/><rect x="11" y="31" width="1" height="1" fill="#b45c8e"/><rect x="12" y="31" width="1" height="1" fill="#b86292"/><rect x="13" y="31" width="1" height="1" fill="#b66090"/><rect x="14" y="31" width="1" height="1" fill="#b05c8c"/><rect x="15" y="31" width="1" height="1" fill="#ac5a8a"/><rect x="16" y="31" width="12" height="1" fill="#54249c"/><rect x="0" y="32" width="1" height="1" fill="#8e3674"/><rect x="1" y="32" width="1" height="1" fill="#903878"/><rect x="2" y="32" width="1" height="1" fill="#923a78"/><rect x="3" y="32" width="1" height="1" fill="#963c78"/><rect x="4" y="32" width="3" height="1" fill="#9a4078"/><rect x="7" y="32" width="1" height="1" fill="#9c4478"/><rect x="8" y="32" width="1" height="1" fill="#a04680"/><rect x="9" y="32" width="1" height="1" fill="#a44a80"/><rect x="10" y="32" width="1" height="1" fill="#b05888"/><rect x="11" y="32" width="1" height="1" fill="#b45c8e"/><rect x="12" y="32" width="1" height="1" fill="#b86292"/><rect x="13" y="32" width="1" height="1" fill="#b66090"/><rect x="14" y="32" width="1" height="1" fill="#b05c8c"/><rect x="15" y="32" width="13" height="1" fill="#54249c"/><rect x="0" y="33" width="1" height="1" fill="#8e3876"/><rect x="1" y="33" width="1" height="1" fill="#923a78"/><rect x="2" y="33" width="1" height="1" fill="#943c78"/><rect x="3" y="33" width="1" height="1" fill="#983e7a"/><rect x="4" y="33" width="2" height="1" fill="#9a4078"/><rect x="6" y="33" width="1" height="1" fill="#9c4278"/><rect x="7" y="33" width="1" height="1" fill="#a04680"/><rect x="8" y="33" width="1" height="1" fill="#a44a80"/><rect x="9" y="33" width="1" height="1" fill="#aa5286"/><rect x="10" y="33" width="1" height="1" fill="#b05888"/><rect x="11" y="33" width="1" height="1" fill="#b65e90"/><rect x="12" y="33" width="1" height="1" fill="#b86292"/><rect x="13" y="33" width="1" height="1" fill="#b66292"/><rect x="14" y="33" width="1" height="1" fill="#b05c8c"/><rect x="15" y="33" width="13" height="1" fill="#54249c"/><rect x="0" y="34" width="2" height="1" fill="#8e3876"/><rect x="2" y="34" width="1" height="1" fill="#923a78"/><rect x="3" y="34" width="1" height="1" fill="#963c78"/><rect x="4" y="34" width="2" height="1" fill="#9a4078"/><rect x="6" y="34" width="1" height="1" fill="#9c4278"/><rect x="7" y="34" width="1" height="1" fill="#a04680"/><rect x="8" y="34" width="1" height="1" fill="#a24880"/><rect x="9" y="34" width="1" height="1" fill="#aa5286"/><rect x="10" y="34" width="1" height="1" fill="#b05888"/><rect x="11" y="34" width="1" height="1" fill="#b65e90"/><rect x="12" y="34" width="1" height="1" fill="#b86292"/><rect x="13" y="34" width="1" height="1" fill="#b66292"/><rect x="14" y="34" width="1" height="1" fill="#ae5a8a"/><rect x="15" y="34" width="13" height="1" fill="#54249c"/><rect x="0" y="35" width="2" height="1" fill="#8e3876"/><rect x="2" y="35" width="1" height="1" fill="#923a78"/><rect x="3" y="35" width="1" height="1" fill="#943c78"/><rect x="4" y="35" width="1" height="1" fill="#983e7a"/><rect x="5" y="35" width="1" height="1" fill="#9a4078"/><rect x="6" y="35" width="1" height="1" fill="#9c4278"/><rect x="7" y="35" width="1" height="1" fill="#a04680"/><rect x="8" y="35" width="1" height="1" fill="#a44a80"/><rect x="9" y="35" width="1" height="1" fill="#ac5488"/><rect x="10" y="35" width="1" height="1" fill="#b05888"/><rect x="11" y="35" width="1" height="1" fill="#b65e90"/><rect x="12" y="35" width="1" height="1" fill="#b86292"/><rect x="13" y="35" width="1" height="1" fill="#b46090"/><rect x="14" y="35" width="1" height="1" fill="#ae5a8a"/><rect x="15" y="35" width="13" height="1" fill="#54249c"/><rect x="0" y="36" width="1" height="1" fill="#8e3876"/><rect x="1" y="36" width="1" height="1" fill="#8c3472"/><rect x="2" y="36" width="1" height="1" fill="#903878"/><rect x="3" y="36" width="1" height="1" fill="#943c78"/><rect x="4" y="36" width="2" height="1" fill="#963c78"/><rect x="6" y="36" width="1" height="1" fill="#983e7a"/><rect x="7" y="36" width="1" height="1" fill="#a04680"/><rect x="8" y="36" width="1" height="1" fill="#a44a80"/><rect x="9" y="36" width="1" height="1" fill="#ac5488"/><rect x="10" y="36" width="1" height="1" fill="#b05888"/><rect x="11" y="36" width="1" height="1" fill="#b65e90"/><rect x="12" y="36" width="1" height="1" fill="#b86292"/><rect x="13" y="36" width="1" height="1" fill="#b46090"/><rect x="14" y="36" width="1" height="1" fill="#ae5a8a"/><rect x="15" y="36" width="13" height="1" fill="#54249c"/><rect x="0" y="37" width="2" height="1" fill="#8a3474"/><rect x="2" y="37" width="1" height="1" fill="#8e3876"/><rect x="3" y="37" width="2" height="1" fill="#923a78"/><rect x="5" y="37" width="1" height="1" fill="#963c78"/><rect x="6" y="37" width="1" height="1" fill="#983e7a"/><rect x="7" y="37" width="1" height="1" fill="#a04680"/><rect x="8" y="37" width="1" height="1" fill="#a84e84"/><rect x="9" y="37" width="1" height="1" fill="#ae5488"/><rect x="10" y="37" width="1" height="1" fill="#b45c8e"/><rect x="11" y="37" width="2" height="1" fill="#b86292"/><rect x="13" y="37" width="1" height="1" fill="#ae5a8a"/><rect x="14" y="37" width="14" height="1" fill="#54249c"/><rect x="0" y="38" width="1" height="1" fill="#8a3474"/><rect x="1" y="38" width="1" height="1" fill="#8c3474"/><rect x="2" y="38" width="1" height="1" fill="#8e3876"/><rect x="3" y="38" width="1" height="1" fill="#923a78"/><rect x="4" y="38" width="2" height="1" fill="#8e3674"/><rect x="6" y="38" width="1" height="1" fill="#943a78"/><rect x="7" y="38" width="1" height="1" fill="#9c4478"/><rect x="8" y="38" width="1" height="1" fill="#a44a80"/><rect x="9" y="38" width="1" height="1" fill="#ac5488"/><rect x="10" y="38" width="1" height="1" fill="#b45c8e"/><rect x="11" y="38" width="1" height="1" fill="#b86292"/><rect x="12" y="38" width="1" height="1" fill="#b66090"/><rect x="13" y="38" width="1" height="1" fill="#ae5a8a"/><rect x="14" y="38" width="14" height="1" fill="#54249c"/><rect x="0" y="39" width="1" height="1" fill="#8a3474"/><rect x="1" y="39" width="1" height="1" fill="#8c3474"/><rect x="2" y="39" width="2" height="1" fill="#903878"/><rect x="4" y="39" width="2" height="1" fill="#8a3272"/><rect x="6" y="39" width="1" height="1" fill="#923a78"/><rect x="7" y="39" width="1" height="1" fill="#9a4078"/><rect x="8" y="39" width="1" height="1" fill="#a44a80"/><rect x="9" y="39" width="1" height="1" fill="#ac5488"/><rect x="10" y="39" width="1" height="1" fill="#b45c8e"/><rect x="11" y="39" width="1" height="1" fill="#b86292"/><rect x="12" y="39" width="1" height="1" fill="#b46090"/><rect x="13" y="39" width="1" height="1" fill="#ae5a8a"/><rect x="14" y="39" width="14" height="1" fill="#54249c"/><rect x="0" y="40" width="2" height="1" fill="#8a3474"/><rect x="2" y="40" width="1" height="1" fill="#8e3876"/><rect x="3" y="40" width="1" height="1" fill="#8c3472"/><rect x="4" y="40" width="2" height="1" fill="#883070"/><rect x="6" y="40" width="1" height="1" fill="#903878"/><rect x="7" y="40" width="1" height="1" fill="#9a4078"/><rect x="8" y="40" width="1" height="1" fill="#a44a80"/><rect x="9" y="40" width="1" height="1" fill="#ae5488"/><rect x="10" y="40" width="1" height="1" fill="#b45e8e"/><rect x="11" y="40" width="1" height="1" fill="#b86292"/><rect x="12" y="40" width="1" height="1" fill="#b05c8c"/><rect x="13" y="40" width="1" height="1" fill="#ac5a8a"/><rect x="14" y="40" width="14" height="1" fill="#54249c"/><rect x="0" y="41" width="2" height="1" fill="#883272"/><rect x="2" y="41" width="1" height="1" fill="#8a3474"/><rect x="3" y="41" width="1" height="1" fill="#8a3272"/><rect x="4" y="41" width="2" height="1" fill="#863070"/><rect x="6" y="41" width="1" height="1" fill="#8e3674"/><rect x="7" y="41" width="1" height="1" fill="#983e7a"/><rect x="8" y="41" width="1" height="1" fill="#a44a80"/><rect x="9" y="41" width="1" height="1" fill="#ae5488"/><rect x="10" y="41" width="1" height="1" fill="#b45e8e"/><rect x="11" y="41" width="1" height="1" fill="#b86292"/><rect x="12" y="41" width="1" height="1" fill="#b05a8c"/><rect x="13" y="41" width="15" height="1" fill="#54249c"/><rect x="0" y="42" width="1" height="1" fill="#863272"/><rect x="1" y="42" width="2" height="1" fill="#883272"/><rect x="3" y="42" width="1" height="1" fill="#8a3272"/><rect x="4" y="42" width="1" height="1" fill="#863070"/><rect x="5" y="42" width="1" height="1" fill="#8a3272"/><rect x="6" y="42" width="1" height="1" fill="#963c78"/><rect x="7" y="42" width="1" height="1" fill="#a04680"/><rect x="8" y="42" width="1" height="1" fill="#ac5488"/><rect x="9" y="42" width="1" height="1" fill="#b45c8e"/><rect x="10" y="42" width="1" height="1" fill="#b66090"/><rect x="11" y="42" width="1" height="1" fill="#b45e8e"/><rect x="12" y="42" width="16" height="1" fill="#54249c"/><rect x="0" y="43" width="1" height="1" fill="#863272"/><rect x="1" y="43" width="2" height="1" fill="#883272"/><rect x="3" y="43" width="1" height="1" fill="#8a3474"/><rect x="4" y="43" width="1" height="1" fill="#8c3472"/><rect x="5" y="43" width="1" height="1" fill="#943a78"/><rect x="6" y="43" width="1" height="1" fill="#9e4478"/><rect x="7" y="43" width="1" height="1" fill="#a84e84"/><rect x="8" y="43" width="1" height="1" fill="#b05888"/><rect x="9" y="43" width="1" height="1" fill="#b65e90"/><rect x="10" y="43" width="1" height="1" fill="#b45e8e"/><rect x="11" y="43" width="1" height="1" fill="#ae5a8a"/><rect x="12" y="43" width="16" height="1" fill="#54249c"/><rect x="0" y="44" width="1" height="1" fill="#88326f"/><rect x="1" y="44" width="2" height="1" fill="#86306e"/><rect x="3" y="44" width="1" height="1" fill="#8a3272"/><rect x="4" y="44" width="1" height="1" fill="#903878"/><rect x="5" y="44" width="1" height="1" fill="#a04680"/><rect x="6" y="44" width="1" height="1" fill="#a84e84"/><rect x="7" y="44" width="1" height="1" fill="#b05888"/><rect x="8" y="44" width="2" height="1" fill="#b86292"/><rect x="10" y="44" width="1" height="1" fill="#b05a8c"/><rect x="11" y="44" width="1" height="1" fill="#ac5a8a"/><rect x="12" y="44" width="16" height="1" fill="#54249c"/><rect x="0" y="45" width="1" height="1" fill="#88326f"/><rect x="1" y="45" width="2" height="1" fill="#86306e"/><rect x="3" y="45" width="1" height="1" fill="#8a3272"/><rect x="4" y="45" width="1" height="1" fill="#923a78"/><rect x="5" y="45" width="1" height="1" fill="#a04680"/><rect x="6" y="45" width="1" height="1" fill="#a84e84"/><rect x="7" y="45" width="1" height="1" fill="#b05888"/><rect x="8" y="45" width="1" height="1" fill="#b66090"/><rect x="9" y="45" width="1" height="1" fill="#b86292"/><rect x="10" y="45" width="1" height="1" fill="#b05a8c"/><rect x="11" y="45" width="17" height="1" fill="#54249c"/><rect x="0" y="46" width="1" height="1" fill="#88326f"/><rect x="1" y="46" width="2" height="1" fill="#86306e"/><rect x="3" y="46" width="1" height="1" fill="#8c3472"/><rect x="4" y="46" width="1" height="1" fill="#943a78"/><rect x="5" y="46" width="1" height="1" fill="#a24880"/><rect x="6" y="46" width="1" height="1" fill="#aa5084"/><rect x="7" y="46" width="1" height="1" fill="#b05888"/><rect x="8" y="46" width="1" height="1" fill="#b66090"/><rect x="9" y="46" width="1" height="1" fill="#b86292"/><rect x="10" y="46" width="1" height="1" fill="#ae5a8a"/><rect x="11" y="46" width="17" height="1" fill="#54249c"/><rect x="0" y="47" width="1" height="1" fill="#88326f"/><rect x="1" y="47" width="1" height="1" fill="#86306e"/><rect x="2" y="47" width="1" height="1" fill="#88326f"/><rect x="3" y="47" width="1" height="1" fill="#8e3674"/><rect x="4" y="47" width="1" height="1" fill="#963c78"/><rect x="5" y="47" width="1" height="1" fill="#a44a80"/><rect x="6" y="47" width="1" height="1" fill="#ac5488"/><rect x="7" y="47" width="1" height="1" fill="#b25a8c"/><rect x="8" y="47" width="1" height="1" fill="#b66090"/><rect x="9" y="47" width="1" height="1" fill="#b86292"/><rect x="10" y="47" width="1" height="1" fill="#ae5a8a"/><rect x="11" y="47" width="17" height="1" fill="#54249c"/><rect x="0" y="48" width="1" height="1" fill="#88326f"/><rect x="1" y="48" width="1" height="1" fill="#883270"/><rect x="2" y="48" width="1" height="1" fill="#8a3474"/><rect x="3" y="48" width="1" height="1" fill="#903878"/><rect x="4" y="48" width="1" height="1" fill="#9c4278"/><rect x="5" y="48" width="1" height="1" fill="#a84e84"/><rect x="6" y="48" width="1" height="1" fill="#b05888"/><rect x="7" y="48" width="1" height="1" fill="#b45e8e"/><rect x="8" y="48" width="1" height="1" fill="#b66090"/><rect x="9" y="48" width="1" height="1" fill="#ae5a8a"/><rect x="10" y="48" width="18" height="1" fill="#54249c"/><rect x="0" y="49" width="1" height="1" fill="#88326f"/><rect x="1" y="49" width="1" height="1" fill="#883270"/><rect x="2" y="49" width="1" height="1" fill="#8c3472"/><rect x="3" y="49" width="1" height="1" fill="#943a78"/><rect x="4" y="49" width="1" height="1" fill="#a04680"/><rect x="5" y="49" width="1" height="1" fill="#ac5488"/><rect x="6" y="49" width="1" height="1" fill="#b45c8e"/><rect x="7" y="49" width="1" height="1" fill="#b66090"/><rect x="8" y="49" width="1" height="1" fill="#b46090"/><rect x="9" y="49" width="1" height="1" fill="#ae5a8a"/><rect x="10" y="49" width="18" height="1" fill="#54249c"/><rect x="0" y="50" width="1" height="1" fill="#88326f"/><rect x="1" y="50" width="1" height="1" fill="#883270"/><rect x="2" y="50" width="1" height="1" fill="#8e3674"/><rect x="3" y="50" width="1" height="1" fill="#963c78"/><rect x="4" y="50" width="1" height="1" fill="#a44a80"/><rect x="5" y="50" width="1" height="1" fill="#b05888"/><rect x="6" y="50" width="1" height="1" fill="#b66090"/><rect x="7" y="50" width="1" height="1" fill="#b86292"/><rect x="8" y="50" width="1" height="1" fill="#b25e8e"/><rect x="9" y="50" width="1" height="1" fill="#ae5a8a"/><rect x="10" y="50" width="18" height="1" fill="#54249c"/><rect x="0" y="51" width="1" height="1" fill="#86306e"/><rect x="1" y="51" width="1" height="1" fill="#88326f"/><rect x="2" y="51" width="1" height="1" fill="#903878"/><rect x="3" y="51" width="1" height="1" fill="#a04680"/><rect x="4" y="51" width="1" height="1" fill="#ac5488"/><rect x="5" y="51" width="1" height="1" fill="#b45c8e"/><rect x="6" y="51" width="1" height="1" fill="#b86292"/><rect x="7" y="51" width="1" height="1" fill="#b66090"/><rect x="8" y="51" width="1" height="1" fill="#b05c8c"/><rect x="9" y="51" width="19" height="1" fill="#54249c"/><rect x="0" y="52" width="1" height="1" fill="#86306e"/><rect x="1" y="52" width="1" height="1" fill="#88326f"/><rect x="2" y="52" width="1" height="1" fill="#963c78"/><rect x="3" y="52" width="1" height="1" fill="#a24880"/><rect x="4" y="52" width="1" height="1" fill="#ae5488"/><rect x="5" y="52" width="1" height="1" fill="#b66090"/><rect x="6" y="52" width="1" height="1" fill="#b86292"/><rect x="7" y="52" width="1" height="1" fill="#b46090"/><rect x="8" y="52" width="1" height="1" fill="#ae5a8a"/><rect x="9" y="52" width="19" height="1" fill="#54249c"/><rect x="0" y="53" width="1" height="1" fill="#86306e"/><rect x="1" y="53" width="1" height="1" fill="#8a3474"/><rect x="2" y="53" width="1" height="1" fill="#9a4078"/><rect x="3" y="53" width="1" height="1" fill="#a44a80"/><rect x="4" y="53" width="1" height="1" fill="#b05888"/><rect x="5" y="53" width="2" height="1" fill="#b86292"/><rect x="7" y="53" width="1" height="1" fill="#b25e8e"/><rect x="8" y="53" width="1" height="1" fill="#ae5a8a"/><rect x="9" y="53" width="19" height="1" fill="#54249c"/><rect x="0" y="54" width="1" height="1" fill="#86306e"/><rect x="1" y="54" width="1" height="1" fill="#8a3474"/><rect x="2" y="54" width="1" height="1" fill="#9a4078"/><rect x="3" y="54" width="1" height="1" fill="#a84e84"/><rect x="4" y="54" width="1" height="1" fill="#b45c8e"/><rect x="5" y="54" width="2" height="1" fill="#b86292"/><rect x="7" y="54" width="1" height="1" fill="#b05c8c"/><rect x="8" y="54" width="20" height="1" fill="#54249c"/><rect x="0" y="55" width="1" height="1" fill="#88306e"/><rect x="1" y="55" width="1" height="1" fill="#86306e"/><rect x="2" y="55" width="1" height="1" fill="#983e7a"/><rect x="3" y="55" width="1" height="1" fill="#a84e84"/><rect x="4" y="55" width="1" height="1" fill="#b25a8c"/><rect x="5" y="55" width="2" height="1" fill="#b86292"/><rect x="7" y="55" width="1" height="1" fill="#b05a8c"/><rect x="8" y="55" width="20" height="1" fill="#54249c"/><rect x="0" y="56" width="1" height="1" fill="#88306e"/><rect x="1" y="56" width="1" height="1" fill="#86306e"/><rect x="2" y="56" width="1" height="1" fill="#983e7a"/><rect x="3" y="56" width="1" height="1" fill="#a84e84"/><rect x="4" y="56" width="1" height="1" fill="#b45c8e"/><rect x="5" y="56" width="1" height="1" fill="#b86292"/><rect x="6" y="56" width="1" height="1" fill="#b46090"/><rect x="7" y="56" width="1" height="1" fill="#ae5a8a"/><rect x="8" y="56" width="20" height="1" fill="#54249c"/><rect x="0" y="57" width="1" height="1" fill="#88306e"/><rect x="1" y="57" width="1" height="1" fill="#88326f"/><rect x="2" y="57" width="1" height="1" fill="#983e7a"/><rect x="3" y="57" width="1" height="1" fill="#a84e84"/><rect x="4" y="57" width="1" height="1" fill="#b45c8e"/><rect x="5" y="57" width="1" height="1" fill="#b86292"/><rect x="6" y="57" width="1" height="1" fill="#b25e8e"/><rect x="7" y="57" width="1" height="1" fill="#ae5a8a"/><rect x="8" y="57" width="20" height="1" fill="#54249c"/><rect x="0" y="58" width="1" height="1" fill="#8a3272"/><rect x="1" y="58" width="1" height="1" fill="#8a3474"/><rect x="2" y="58" width="1" height="1" fill="#9a4078"/><rect x="3" y="58" width="1" height="1" fill="#aa5084"/><rect x="4" y="58" width="1" height="1" fill="#b45c8e"/><rect x="5" y="58" width="1" height="1" fill="#b86292"/><rect x="6" y="58" width="1" height="1" fill="#b05c8c"/><rect x="7" y="58" width="21" height="1" fill="#54249c"/><rect x="0" y="59" width="1" height="1" fill="#8c3472"/><rect x="1" y="59" width="1" height="1" fill="#8c3474"/><rect x="2" y="59" width="1" height="1" fill="#9c4278"/><rect x="3" y="59" width="1" height="1" fill="#ac5488"/><rect x="4" y="59" width="1" height="1" fill="#b45c8e"/><rect x="5" y="59" width="1" height="1" fill="#b86292"/><rect x="6" y="59" width="1" height="1" fill="#b05c8c"/><rect x="7" y="59" width="21" height="1" fill="#54249c"/><rect x="0" y="60" width="2" height="1" fill="#903878"/><rect x="2" y="60" width="1" height="1" fill="#a04680"/><rect x="3" y="60" width="1" height="1" fill="#ae5488"/><rect x="4" y="60" width="1" height="1" fill="#b45c8e"/><rect x="5" y="60" width="1" height="1" fill="#b66090"/><rect x="6" y="60" width="1" height="1" fill="#ae5a8a"/><rect x="7" y="60" width="21" height="1" fill="#54249c"/><rect x="0" y="61" width="1" height="1" fill="#9a4078"/><rect x="1" y="61" width="1" height="1" fill="#9c4278"/><rect x="2" y="61" width="1" height="1" fill="#a84e84"/><rect x="3" y="61" width="1" height="1" fill="#b05888"/><rect x="4" y="61" width="1" height="1" fill="#b45c8e"/><rect x="5" y="61" width="1" height="1" fill="#b05a8c"/><rect x="6" y="61" width="22" height="1" fill="#54249c"/><rect x="0" y="62" width="1" height="1" fill="#a04680"/><rect x="1" y="62" width="1" height="1" fill="#a24880"/><rect x="2" y="62" width="1" height="1" fill="#ac5488"/><rect x="3" y="62" width="1" height="1" fill="#b25a8c"/><rect x="4" y="62" width="1" height="1" fill="#b45c8e"/><rect x="5" y="62" width="1" height="1" fill="#ae5a8a"/><rect x="6" y="62" width="22" height="1" fill="#54249c"/><rect x="0" y="63" width="2" height="1" fill="#a84e84"/><rect x="2" y="63" width="1" height="1" fill="#b05888"/><rect x="3" y="63" width="2" height="1" fill="#b45c8e"/><rect x="5" y="63" width="1" height="1" fill="#ac5a8a"/><rect x="6" y="63" width="22" height="1" fill="#54249c"/><rect x="0" y="64" width="1" height="1" fill="#b05888"/><rect x="1" y="64" width="1" height="1" fill="#b25a8c"/><rect x="2" y="64" width="1" height="1" fill="#b45c8e"/><rect x="3" y="64" width="1" height="1" fill="#b86292"/><rect x="4" y="64" width="1" height="1" fill="#b25e8e"/><rect x="5" y="64" width="1" height="1" fill="#ac5a8a"/><rect x="6" y="64" width="21" height="1" fill="#54249c"/><rect x="27" y="64" width="1" height="1" fill="#0a60ff"/><rect x="0" y="65" width="2" height="1" fill="#b45c8e"/><rect x="2" y="65" width="2" height="1" fill="#b86292"/><rect x="4" y="65" width="1" height="1" fill="#b05c8c"/><rect x="5" y="65" width="1" height="1" fill="#ac5a8a"/><rect x="6" y="65" width="21" height="1" fill="#54249c"/><rect x="27" y="65" width="1" height="1" fill="#0a60ff"/></g><g transform="translate(1730.2,53.2) scale(18.428571428571427,18.400000000000002)" shape-rendering="crispEdges"><rect x="0" y="0" width="9" height="1" fill="#bc0032"/><rect x="9" y="0" width="1" height="1" fill="#c00838"/><rect x="10" y="0" width="1" height="1" fill="#be1844"/><rect x="11" y="0" width="1" height="1" fill="#c02050"/><rect x="12" y="0" width="1" height="1" fill="#c02856"/><rect x="13" y="0" width="1" height="1" fill="#c02e5a"/><rect x="14" y="0" width="1" height="1" fill="#c03462"/><rect x="15" y="0" width="1" height="1" fill="#c43e6c"/><rect x="16" y="0" width="1" height="1" fill="#c06898"/><rect x="17" y="0" width="1" height="1" fill="#9c48a0"/><rect x="18" y="0" width="1" height="1" fill="#883098"/><rect x="19" y="0" width="1" height="1" fill="#6c1a9c"/><rect x="20" y="0" width="2" height="1" fill="#6a189c"/><rect x="22" y="0" width="5" height="1" fill="#6414a0"/><rect x="27" y="0" width="1" height="1" fill="#6010a0"/><rect x="0" y="1" width="9" height="1" fill="#bc0032"/><rect x="9" y="1" width="1" height="1" fill="#c00838"/><rect x="10" y="1" width="1" height="1" fill="#be1a44"/><rect x="11" y="1" width="1" height="1" fill="#c02050"/><rect x="12" y="1" width="1" height="1" fill="#c02a56"/><rect x="13" y="1" width="1" height="1" fill="#c02e5a"/><rect x="14" y="1" width="1" height="1" fill="#c03462"/><rect x="15" y="1" width="1" height="1" fill="#c43e6c"/><rect x="16" y="1" width="1" height="1" fill="#c06898"/><rect x="17" y="1" width="1" height="1" fill="#9a46a0"/><rect x="18" y="1" width="1" height="1" fill="#863098"/><rect x="19" y="1" width="1" height="1" fill="#6c1a9c"/><rect x="20" y="1" width="1" height="1" fill="#6a189c"/><rect x="21" y="1" width="1" height="1" fill="#6818a0"/><rect x="22" y="1" width="5" height="1" fill="#6414a0"/><rect x="27" y="1" width="1" height="1" fill="#6010a0"/><rect x="0" y="2" width="9" height="1" fill="#bc0234"/><rect x="9" y="2" width="1" height="1" fill="#c00a38"/><rect x="10" y="2" width="1" height="1" fill="#be1a46"/><rect x="11" y="2" width="1" height="1" fill="#c02050"/><rect x="12" y="2" width="1" height="1" fill="#c02a56"/><rect x="13" y="2" width="1" height="1" fill="#c0305c"/><rect x="14" y="2" width="1" height="1" fill="#c03664"/><rect x="15" y="2" width="1" height="1" fill="#c44070"/><rect x="16" y="2" width="1" height="1" fill="#c0689a"/><rect x="17" y="2" width="1" height="1" fill="#9644a0"/><rect x="18" y="2" width="1" height="1" fill="#823098"/><rect x="19" y="2" width="1" height="1" fill="#6c1a9c"/><rect x="20" y="2" width="3" height="1" fill="#701ca0"/><rect x="23" y="2" width="4" height="1" fill="#6818a0"/><rect x="27" y="2" width="1" height="1" fill="#6412a0"/><rect x="0" y="3" width="9" height="1" fill="#bc0234"/><rect x="9" y="3" width="1" height="1" fill="#c00a38"/><rect x="10" y="3" width="1" height="1" fill="#be1a46"/><rect x="11" y="3" width="1" height="1" fill="#c02050"/><rect x="12" y="3" width="1" height="1" fill="#c02a58"/><rect x="13" y="3" width="1" height="1" fill="#c0305c"/><rect x="14" y="3" width="1" height="1" fill="#c03866"/><rect x="15" y="3" width="1" height="1" fill="#c44272"/><rect x="16" y="3" width="1" height="1" fill="#c0689a"/><rect x="17" y="3" width="1" height="1" fill="#9444a0"/><rect x="18" y="3" width="1" height="1" fill="#7e2c9c"/><rect x="19" y="3" width="1" height="1" fill="#6c1a9c"/><rect x="20" y="3" width="3" height="1" fill="#701ca0"/><rect x="23" y="3" width="4" height="1" fill="#6818a0"/><rect x="27" y="3" width="1" height="1" fill="#6412a0"/><rect x="0" y="4" width="9" height="1" fill="#bc0234"/><rect x="9" y="4" width="1" height="1" fill="#c00c3a"/><rect x="10" y="4" width="1" height="1" fill="#be1c46"/><rect x="11" y="4" width="1" height="1" fill="#c02252"/><rect x="12" y="4" width="1" height="1" fill="#c02c58"/><rect x="13" y="4" width="1" height="1" fill="#c0325e"/><rect x="14" y="4" width="1" height="1" fill="#c03a68"/><rect x="15" y="4" width="1" height="1" fill="#c44474"/><rect x="16" y="4" width="1" height="1" fill="#bc6498"/><rect x="17" y="4" width="1" height="1" fill="#9040a0"/><rect x="18" y="4" width="1" height="1" fill="#7a289c"/><rect x="19" y="4" width="1" height="1" fill="#6a189c"/><rect x="20" y="4" width="4" height="1" fill="#6c1aa0"/><rect x="24" y="4" width="4" height="1" fill="#6818a0"/><rect x="0" y="5" width="9" height="1" fill="#bc0436"/><rect x="9" y="5" width="1" height="1" fill="#c00e3a"/><rect x="10" y="5" width="1" height="1" fill="#be1e48"/><rect x="11" y="5" width="1" height="1" fill="#c02452"/><rect x="12" y="5" width="1" height="1" fill="#c02e5a"/><rect x="13" y="5" width="1" height="1" fill="#c03460"/><rect x="14" y="5" width="1" height="1" fill="#c03c6a"/><rect x="15" y="5" width="1" height="1" fill="#c44676"/><rect x="16" y="5" width="1" height="1" fill="#ba6298"/><rect x="17" y="5" width="1" height="1" fill="#8c3ca0"/><rect x="18" y="5" width="1" height="1" fill="#701e9c"/><rect x="19" y="5" width="1" height="1" fill="#620e9c"/><rect x="20" y="5" width="4" height="1" fill="#6a18a0"/><rect x="24" y="5" width="4" height="1" fill="#6c1aa0"/><rect x="0" y="6" width="8" height="1" fill="#bc0436"/><rect x="8" y="6" width="1" height="1" fill="#be0838"/><rect x="9" y="6" width="1" height="1" fill="#c0103c"/><rect x="10" y="6" width="1" height="1" fill="#be2048"/><rect x="11" y="6" width="1" height="1" fill="#c02654"/><rect x="12" y="6" width="1" height="1" fill="#c0305c"/><rect x="13" y="6" width="1" height="1" fill="#c03864"/><rect x="14" y="6" width="1" height="1" fill="#c04070"/><rect x="15" y="6" width="1" height="1" fill="#c64c7c"/><rect x="16" y="6" width="1" height="1" fill="#b65c98"/><rect x="17" y="6" width="1" height="1" fill="#8838a0"/><rect x="18" y="6" width="1" height="1" fill="#6c1a9c"/><rect x="19" y="6" width="2" height="1" fill="#5e0c9c"/><rect x="21" y="6" width="3" height="1" fill="#6818a0"/><rect x="24" y="6" width="4" height="1" fill="#6c1aa0"/><rect x="0" y="7" width="8" height="1" fill="#bc0638"/><rect x="8" y="7" width="1" height="1" fill="#be0a3a"/><rect x="9" y="7" width="1" height="1" fill="#c0123e"/><rect x="10" y="7" width="1" height="1" fill="#be2248"/><rect x="11" y="7" width="1" height="1" fill="#c02856"/><rect x="12" y="7" width="1" height="1" fill="#c0325e"/><rect x="13" y="7" width="1" height="1" fill="#c03c68"/><rect x="14" y="7" width="1" height="1" fill="#c44676"/><rect x="15" y="7" width="1" height="1" fill="#c85080"/><rect x="16" y="7" width="1" height="1" fill="#b05898"/><rect x="17" y="7" width="1" height="1" fill="#8838a0"/><rect x="18" y="7" width="1" height="1" fill="#6c1a9c"/><rect x="19" y="7" width="1" height="1" fill="#620e9c"/><rect x="20" y="7" width="1" height="1" fill="#6818a0"/><rect x="21" y="7" width="3" height="1" fill="#6c1aa0"/><rect x="24" y="7" width="4" height="1" fill="#6e1ca0"/><rect x="0" y="8" width="8" height="1" fill="#bc0838"/><rect x="8" y="8" width="1" height="1" fill="#be0c3a"/><rect x="9" y="8" width="1" height="1" fill="#c0143e"/><rect x="10" y="8" width="1" height="1" fill="#be2448"/><rect x="11" y="8" width="1" height="1" fill="#c02a56"/><rect x="12" y="8" width="1" height="1" fill="#c03460"/><rect x="13" y="8" width="1" height="1" fill="#c03e6a"/><rect x="14" y="8" width="1" height="1" fill="#c44878"/><rect x="15" y="8" width="1" height="1" fill="#c85688"/><rect x="16" y="8" width="1" height="1" fill="#ac549c"/><rect x="17" y="8" width="1" height="1" fill="#8636a0"/><rect x="18" y="8" width="1" height="1" fill="#6c1aa0"/><rect x="19" y="8" width="1" height="1" fill="#6818a0"/><rect x="20" y="8" width="3" height="1" fill="#6c1aa0"/><rect x="23" y="8" width="5" height="1" fill="#6e1ca0"/><rect x="0" y="9" width="8" height="1" fill="#bc0a3a"/><rect x="8" y="9" width="1" height="1" fill="#be0e3c"/><rect x="9" y="9" width="1" height="1" fill="#c01640"/><rect x="10" y="9" width="1" height="1" fill="#be2649"/><rect x="11" y="9" width="1" height="1" fill="#c02c58"/><rect x="12" y="9" width="1" height="1" fill="#c03662"/><rect x="13" y="9" width="1" height="1" fill="#c0406c"/><rect x="14" y="9" width="1" height="1" fill="#c44a7a"/><rect x="15" y="9" width="1" height="1" fill="#c85a8a"/><rect x="16" y="9" width="1" height="1" fill="#a8529c"/><rect x="17" y="9" width="1" height="1" fill="#8434a0"/><rect x="18" y="9" width="10" height="1" fill="#6e1ca0"/><rect x="0" y="10" width="8" height="1" fill="#bc0a3a"/><rect x="8" y="10" width="1" height="1" fill="#be0e3c"/><rect x="9" y="10" width="1" height="1" fill="#c01640"/><rect x="10" y="10" width="1" height="1" fill="#c02a4e"/><rect x="11" y="10" width="1" height="1" fill="#c03058"/><rect x="12" y="10" width="1" height="1" fill="#c03a64"/><rect x="13" y="10" width="1" height="1" fill="#c0426e"/><rect x="14" y="10" width="1" height="1" fill="#c44c7c"/><rect x="15" y="10" width="1" height="1" fill="#c85e8e"/><rect x="16" y="10" width="1" height="1" fill="#a4509c"/><rect x="17" y="10" width="1" height="1" fill="#8434a0"/><rect x="18" y="10" width="10" height="1" fill="#6e1ca0"/><rect x="0" y="11" width="1" height="1" fill="#be0e3e"/><rect x="1" y="11" width="1" height="1" fill="#be0c3c"/><rect x="2" y="11" width="6" height="1" fill="#be0e3e"/><rect x="8" y="11" width="1" height="1" fill="#be1242"/><rect x="9" y="11" width="1" height="1" fill="#c01646"/><rect x="10" y="11" width="1" height="1" fill="#c01c4a"/><rect x="11" y="11" width="1" height="1" fill="#c02a56"/><rect x="12" y="11" width="1" height="1" fill="#be3460"/><rect x="13" y="11" width="1" height="1" fill="#c03c6a"/><rect x="14" y="11" width="1" height="1" fill="#c8507e"/><rect x="15" y="11" width="1" height="1" fill="#c0649a"/><rect x="16" y="11" width="1" height="1" fill="#8c3ca0"/><rect x="17" y="11" width="1" height="1" fill="#7424a0"/><rect x="18" y="11" width="2" height="1" fill="#7020a0"/><rect x="20" y="11" width="2" height="1" fill="#7222a0"/><rect x="22" y="11" width="1" height="1" fill="#7424a0"/><rect x="23" y="11" width="1" height="1" fill="#7020a0"/><rect x="24" y="11" width="1" height="1" fill="#6e1ca0"/><rect x="25" y="11" width="2" height="1" fill="#6c1aa0"/><rect x="27" y="11" width="1" height="1" fill="#6a16a0"/><rect x="0" y="12" width="1" height="1" fill="#be0e3e"/><rect x="1" y="12" width="1" height="1" fill="#be0c3c"/><rect x="2" y="12" width="6" height="1" fill="#be0e3e"/><rect x="8" y="12" width="1" height="1" fill="#be1242"/><rect x="9" y="12" width="1" height="1" fill="#c01646"/><rect x="10" y="12" width="1" height="1" fill="#c01e4c"/><rect x="11" y="12" width="1" height="1" fill="#c02c58"/><rect x="12" y="12" width="1" height="1" fill="#be3662"/><rect x="13" y="12" width="1" height="1" fill="#c03e6c"/><rect x="14" y="12" width="1" height="1" fill="#c8527e"/><rect x="15" y="12" width="1" height="1" fill="#c0609a"/><rect x="16" y="12" width="1" height="1" fill="#8c3ca0"/><rect x="17" y="12" width="4" height="1" fill="#7020a0"/><rect x="21" y="12" width="1" height="1" fill="#7222a0"/><rect x="22" y="12" width="1" height="1" fill="#7020a0"/><rect x="23" y="12" width="1" height="1" fill="#6e1ca0"/><rect x="24" y="12" width="2" height="1" fill="#6814a0"/><rect x="26" y="12" width="2" height="1" fill="#6a16a0"/><rect x="0" y="13" width="8" height="1" fill="#be0c3c"/><rect x="8" y="13" width="1" height="1" fill="#be1242"/><rect x="9" y="13" width="1" height="1" fill="#c01646"/><rect x="10" y="13" width="1" height="1" fill="#c01e4c"/><rect x="11" y="13" width="1" height="1" fill="#c02c58"/><rect x="12" y="13" width="1" height="1" fill="#be3662"/><rect x="13" y="13" width="1" height="1" fill="#c03e6c"/><rect x="14" y="13" width="1" height="1" fill="#c85480"/><rect x="15" y="13" width="1" height="1" fill="#b85c9c"/><rect x="16" y="13" width="1" height="1" fill="#8838a0"/><rect x="17" y="13" width="1" height="1" fill="#6814a0"/><rect x="18" y="13" width="1" height="1" fill="#7020a0"/><rect x="19" y="13" width="1" height="1" fill="#7222a0"/><rect x="20" y="13" width="3" height="1" fill="#7020a0"/><rect x="23" y="13" width="1" height="1" fill="#6e1ca0"/><rect x="24" y="13" width="2" height="1" fill="#6814a0"/><rect x="26" y="13" width="2" height="1" fill="#6a16a0"/><rect x="0" y="14" width="8" height="1" fill="#be0c3c"/><rect x="8" y="14" width="1" height="1" fill="#be1242"/><rect x="9" y="14" width="1" height="1" fill="#c01646"/><rect x="10" y="14" width="1" height="1" fill="#c02050"/><rect x="11" y="14" width="1" height="1" fill="#c02e5a"/><rect x="12" y="14" width="1" height="1" fill="#be3864"/><rect x="13" y="14" width="1" height="1" fill="#c0406e"/><rect x="14" y="14" width="1" height="1" fill="#c85682"/><rect x="15" y="14" width="1" height="1" fill="#b45a9c"/><rect x="16" y="14" width="1" height="1" fill="#8636a0"/><rect x="17" y="14" width="1" height="1" fill="#6814a0"/><rect x="18" y="14" width="1" height="1" fill="#7020a0"/><rect x="19" y="14" width="1" height="1" fill="#7222a0"/><rect x="20" y="14" width="1" height="1" fill="#7020a0"/><rect x="21" y="14" width="4" height="1" fill="#6c18a0"/><rect x="25" y="14" width="1" height="1" fill="#6e1ca0"/><rect x="26" y="14" width="2" height="1" fill="#6c1aa0"/><rect x="0" y="15" width="8" height="1" fill="#be0a3a"/><rect x="8" y="15" width="1" height="1" fill="#be1040"/><rect x="9" y="15" width="1" height="1" fill="#c01444"/><rect x="10" y="15" width="1" height="1" fill="#c02050"/><rect x="11" y="15" width="1" height="1" fill="#c0305c"/><rect x="12" y="15" width="1" height="1" fill="#be3864"/><rect x="13" y="15" width="1" height="1" fill="#c04270"/><rect x="14" y="15" width="1" height="1" fill="#c85884"/><rect x="15" y="15" width="1" height="1" fill="#b0589c"/><rect x="16" y="15" width="1" height="1" fill="#8434a0"/><rect x="17" y="15" width="1" height="1" fill="#6814a0"/><rect x="18" y="15" width="2" height="1" fill="#7020a0"/><rect x="20" y="15" width="1" height="1" fill="#6c18a0"/><rect x="21" y="15" width="2" height="1" fill="#6a16a0"/><rect x="23" y="15" width="1" height="1" fill="#6c18a0"/><rect x="24" y="15" width="2" height="1" fill="#6e1ca0"/><rect x="26" y="15" width="2" height="1" fill="#6c1aa0"/><rect x="0" y="16" width="1" height="1" fill="#be0a3a"/><rect x="1" y="16" width="7" height="1" fill="#be0838"/><rect x="8" y="16" width="1" height="1" fill="#be1040"/><rect x="9" y="16" width="1" height="1" fill="#c01444"/><rect x="10" y="16" width="1" height="1" fill="#c02050"/><rect x="11" y="16" width="1" height="1" fill="#c0305c"/><rect x="12" y="16" width="1" height="1" fill="#be3a66"/><rect x="13" y="16" width="1" height="1" fill="#c04270"/><rect x="14" y="16" width="1" height="1" fill="#c85a86"/><rect x="15" y="16" width="1" height="1" fill="#b0589c"/><rect x="16" y="16" width="1" height="1" fill="#8434a0"/><rect x="17" y="16" width="1" height="1" fill="#6814a0"/><rect x="18" y="16" width="1" height="1" fill="#7020a0"/><rect x="19" y="16" width="1" height="1" fill="#6e1ca0"/><rect x="20" y="16" width="1" height="1" fill="#6c18a0"/><rect x="21" y="16" width="2" height="1" fill="#6a16a0"/><rect x="23" y="16" width="1" height="1" fill="#6c18a0"/><rect x="24" y="16" width="2" height="1" fill="#6e1ca0"/><rect x="26" y="16" width="2" height="1" fill="#6c1aa0"/><rect x="0" y="17" width="1" height="1" fill="#be0a3a"/><rect x="1" y="17" width="7" height="1" fill="#be0636"/><rect x="8" y="17" width="1" height="1" fill="#be0e3e"/><rect x="9" y="17" width="1" height="1" fill="#c01444"/><rect x="10" y="17" width="1" height="1" fill="#c02050"/><rect x="11" y="17" width="1" height="1" fill="#c0305c"/><rect x="12" y="17" width="1" height="1" fill="#be3a66"/><rect x="13" y="17" width="1" height="1" fill="#c04270"/><rect x="14" y="17" width="1" height="1" fill="#c65a88"/><rect x="15" y="17" width="1" height="1" fill="#b0589c"/><rect x="16" y="17" width="1" height="1" fill="#8434a0"/><rect x="17" y="17" width="1" height="1" fill="#6814a0"/><rect x="18" y="17" width="1" height="1" fill="#6e1ca0"/><rect x="19" y="17" width="1" height="1" fill="#6c18a0"/><rect x="20" y="17" width="5" height="1" fill="#6a16a0"/><rect x="25" y="17" width="1" height="1" fill="#6c18a0"/><rect x="26" y="17" width="2" height="1" fill="#6c1aa0"/><rect x="0" y="18" width="1" height="1" fill="#be0838"/><rect x="1" y="18" width="3" height="1" fill="#bc0434"/><rect x="4" y="18" width="4" height="1" fill="#be0838"/><rect x="8" y="18" width="1" height="1" fill="#be0e3e"/><rect x="9" y="18" width="1" height="1" fill="#c01444"/><rect x="10" y="18" width="1" height="1" fill="#c02050"/><rect x="11" y="18" width="1" height="1" fill="#c0305c"/><rect x="12" y="18" width="1" height="1" fill="#be3a66"/><rect x="13" y="18" width="1" height="1" fill="#c04270"/><rect x="14" y="18" width="1" height="1" fill="#c45c8a"/><rect x="15" y="18" width="1" height="1" fill="#b0589c"/><rect x="16" y="18" width="1" height="1" fill="#8434a0"/><rect x="17" y="18" width="1" height="1" fill="#6814a0"/><rect x="18" y="18" width="1" height="1" fill="#6e1ca0"/><rect x="19" y="18" width="1" height="1" fill="#6c18a0"/><rect x="20" y="18" width="5" height="1" fill="#6814a0"/><rect x="25" y="18" width="3" height="1" fill="#6a16a0"/><rect x="0" y="19" width="1" height="1" fill="#be0838"/><rect x="1" y="19" width="3" height="1" fill="#bc0434"/><rect x="4" y="19" width="4" height="1" fill="#be0838"/><rect x="8" y="19" width="1" height="1" fill="#be0e3e"/><rect x="9" y="19" width="1" height="1" fill="#c01444"/><rect x="10" y="19" width="1" height="1" fill="#c02252"/><rect x="11" y="19" width="1" height="1" fill="#c03460"/><rect x="12" y="19" width="1" height="1" fill="#be3c68"/><rect x="13" y="19" width="1" height="1" fill="#c04472"/><rect x="14" y="19" width="1" height="1" fill="#c45c8c"/><rect x="15" y="19" width="1" height="1" fill="#a850a0"/><rect x="16" y="19" width="1" height="1" fill="#8030a0"/><rect x="17" y="19" width="1" height="1" fill="#6a16a0"/><rect x="18" y="19" width="1" height="1" fill="#6e1ca0"/><rect x="19" y="19" width="1" height="1" fill="#6c18a0"/><rect x="20" y="19" width="5" height="1" fill="#6814a0"/><rect x="25" y="19" width="3" height="1" fill="#6a16a0"/><rect x="0" y="20" width="1" height="1" fill="#be0838"/><rect x="1" y="20" width="3" height="1" fill="#bc0232"/><rect x="4" y="20" width="4" height="1" fill="#be0636"/><rect x="8" y="20" width="1" height="1" fill="#be1040"/><rect x="9" y="20" width="1" height="1" fill="#c01646"/><rect x="10" y="20" width="1" height="1" fill="#c02452"/><rect x="11" y="20" width="1" height="1" fill="#c03460"/><rect x="12" y="20" width="1" height="1" fill="#be3c68"/><rect x="13" y="20" width="1" height="1" fill="#c04472"/><rect x="14" y="20" width="1" height="1" fill="#c45c8c"/><rect x="15" y="20" width="1" height="1" fill="#a850a0"/><rect x="16" y="20" width="1" height="1" fill="#8030a0"/><rect x="17" y="20" width="1" height="1" fill="#6e1ca0"/><rect x="18" y="20" width="2" height="1" fill="#7020a0"/><rect x="20" y="20" width="1" height="1" fill="#6e1ca0"/><rect x="21" y="20" width="2" height="1" fill="#6c18a0"/><rect x="23" y="20" width="2" height="1" fill="#7020a0"/><rect x="25" y="20" width="1" height="1" fill="#6e1ca0"/><rect x="26" y="20" width="2" height="1" fill="#6c1aa0"/><rect x="0" y="21" width="1" height="1" fill="#be0838"/><rect x="1" y="21" width="3" height="1" fill="#bc0232"/><rect x="4" y="21" width="4" height="1" fill="#be0636"/><rect x="8" y="21" width="1" height="1" fill="#be1040"/><rect x="9" y="21" width="1" height="1" fill="#c01848"/><rect x="10" y="21" width="1" height="1" fill="#c02654"/><rect x="11" y="21" width="1" height="1" fill="#c03662"/><rect x="12" y="21" width="1" height="1" fill="#be3e6a"/><rect x="13" y="21" width="1" height="1" fill="#c04674"/><rect x="14" y="21" width="1" height="1" fill="#c25c8c"/><rect x="15" y="21" width="1" height="1" fill="#a850a0"/><rect x="16" y="21" width="1" height="1" fill="#8030a0"/><rect x="17" y="21" width="1" height="1" fill="#6e1ca0"/><rect x="18" y="21" width="2" height="1" fill="#7222a0"/><rect x="20" y="21" width="1" height="1" fill="#6e1ca0"/><rect x="21" y="21" width="2" height="1" fill="#6c18a0"/><rect x="23" y="21" width="2" height="1" fill="#7020a0"/><rect x="25" y="21" width="1" height="1" fill="#6e1ca0"/><rect x="26" y="21" width="2" height="1" fill="#6c1aa0"/><rect x="0" y="22" width="1" height="1" fill="#c01644"/><rect x="1" y="22" width="1" height="1" fill="#bc1040"/><rect x="2" y="22" width="2" height="1" fill="#bc1242"/><rect x="4" y="22" width="4" height="1" fill="#bc1444"/><rect x="8" y="22" width="1" height="1" fill="#be1e4c"/><rect x="9" y="22" width="1" height="1" fill="#be2452"/><rect x="10" y="22" width="1" height="1" fill="#be2c5a"/><rect x="11" y="22" width="1" height="1" fill="#be3462"/><rect x="12" y="22" width="1" height="1" fill="#be3c68"/><rect x="13" y="22" width="1" height="1" fill="#c05080"/><rect x="14" y="22" width="1" height="1" fill="#c0609a"/><rect x="15" y="22" width="1" height="1" fill="#a04ca0"/><rect x="16" y="22" width="1" height="1" fill="#8838a0"/><rect x="17" y="22" width="1" height="1" fill="#7424a0"/><rect x="18" y="22" width="2" height="1" fill="#7828a0"/><rect x="20" y="22" width="3" height="1" fill="#7424a0"/><rect x="23" y="22" width="2" height="1" fill="#7020a0"/><rect x="25" y="22" width="3" height="1" fill="#6e1ca0"/><rect x="0" y="23" width="1" height="1" fill="#c01644"/><rect x="1" y="23" width="1" height="1" fill="#bc1040"/><rect x="2" y="23" width="2" height="1" fill="#bc1242"/><rect x="4" y="23" width="4" height="1" fill="#bc1444"/><rect x="8" y="23" width="1" height="1" fill="#be1e4c"/><rect x="9" y="23" width="1" height="1" fill="#be2452"/><rect x="10" y="23" width="1" height="1" fill="#be2c5a"/><rect x="11" y="23" width="1" height="1" fill="#be3462"/><rect x="12" y="23" width="1" height="1" fill="#be3c68"/><rect x="13" y="23" width="1" height="1" fill="#c05080"/><rect x="14" y="23" width="1" height="1" fill="#c0609a"/><rect x="15" y="23" width="1" height="1" fill="#a04ca0"/><rect x="16" y="23" width="1" height="1" fill="#8838a0"/><rect x="17" y="23" width="1" height="1" fill="#7424a0"/><rect x="18" y="23" width="2" height="1" fill="#7828a0"/><rect x="20" y="23" width="2" height="1" fill="#7424a0"/><rect x="22" y="23" width="1" height="1" fill="#7222a0"/><rect x="23" y="23" width="1" height="1" fill="#7020a0"/><rect x="24" y="23" width="2" height="1" fill="#6c18a0"/><rect x="26" y="23" width="2" height="1" fill="#6e1ca0"/><rect x="0" y="24" width="1" height="1" fill="#c01644"/><rect x="1" y="24" width="1" height="1" fill="#bc1040"/><rect x="2" y="24" width="2" height="1" fill="#bc1242"/><rect x="4" y="24" width="4" height="1" fill="#bc1444"/><rect x="8" y="24" width="1" height="1" fill="#be1e4c"/><rect x="9" y="24" width="1" height="1" fill="#be2452"/><rect x="10" y="24" width="1" height="1" fill="#be2c5a"/><rect x="11" y="24" width="1" height="1" fill="#be3462"/><rect x="12" y="24" width="1" height="1" fill="#be3c68"/><rect x="13" y="24" width="1" height="1" fill="#c04a7a"/><rect x="14" y="24" width="1" height="1" fill="#c45c8c"/><rect x="15" y="24" width="1" height="1" fill="#a850a0"/><rect x="16" y="24" width="1" height="1" fill="#8838a0"/><rect x="17" y="24" width="1" height="1" fill="#7020a0"/><rect x="18" y="24" width="2" height="1" fill="#7424a0"/><rect x="20" y="24" width="3" height="1" fill="#7020a0"/><rect x="23" y="24" width="1" height="1" fill="#6c18a0"/><rect x="24" y="24" width="2" height="1" fill="#6a16a0"/><rect x="26" y="24" width="2" height="1" fill="#6e1ca0"/><rect x="0" y="25" width="1" height="1" fill="#c01644"/><rect x="1" y="25" width="1" height="1" fill="#bc1040"/><rect x="2" y="25" width="2" height="1" fill="#bc1242"/><rect x="4" y="25" width="4" height="1" fill="#bc1444"/><rect x="8" y="25" width="1" height="1" fill="#be1e4c"/><rect x="9" y="25" width="1" height="1" fill="#be2452"/><rect x="10" y="25" width="1" height="1" fill="#be2c5a"/><rect x="11" y="25" width="1" height="1" fill="#be3462"/><rect x="12" y="25" width="1" height="1" fill="#be3c68"/><rect x="13" y="25" width="1" height="1" fill="#c04a7a"/><rect x="14" y="25" width="1" height="1" fill="#c45888"/><rect x="15" y="25" width="1" height="1" fill="#b0589c"/><rect x="16" y="25" width="1" height="1" fill="#8c3ca0"/><rect x="17" y="25" width="1" height="1" fill="#6c18a0"/><rect x="18" y="25" width="1" height="1" fill="#6e1ca0"/><rect x="19" y="25" width="2" height="1" fill="#7020a0"/><rect x="21" y="25" width="1" height="1" fill="#6e1ca0"/><rect x="22" y="25" width="2" height="1" fill="#6c18a0"/><rect x="24" y="25" width="2" height="1" fill="#6a16a0"/><rect x="26" y="25" width="2" height="1" fill="#6c18a0"/><rect x="0" y="26" width="1" height="1" fill="#c01644"/><rect x="1" y="26" width="1" height="1" fill="#bc1040"/><rect x="2" y="26" width="2" height="1" fill="#bc1242"/><rect x="4" y="26" width="4" height="1" fill="#bc1444"/><rect x="8" y="26" width="1" height="1" fill="#be1e4c"/><rect x="9" y="26" width="1" height="1" fill="#be2452"/><rect x="10" y="26" width="1" height="1" fill="#be2c5a"/><rect x="11" y="26" width="1" height="1" fill="#be3462"/><rect x="12" y="26" width="1" height="1" fill="#be3c68"/><rect x="13" y="26" width="1" height="1" fill="#c04a7a"/><rect x="14" y="26" width="1" height="1" fill="#c45080"/><rect x="15" y="26" width="1" height="1" fill="#bc5c9c"/><rect x="16" y="26" width="1" height="1" fill="#9040a0"/><rect x="17" y="26" width="1" height="1" fill="#6a16a0"/><rect x="18" y="26" width="1" height="1" fill="#6c18a0"/><rect x="19" y="26" width="1" height="1" fill="#7020a0"/><rect x="20" y="26" width="2" height="1" fill="#7222a0"/><rect x="22" y="26" width="1" height="1" fill="#7020a0"/><rect x="23" y="26" width="1" height="1" fill="#6e1ca0"/><rect x="24" y="26" width="2" height="1" fill="#6c18a0"/><rect x="26" y="26" width="2" height="1" fill="#6e1ca0"/><rect x="0" y="27" width="1" height="1" fill="#c01644"/><rect x="1" y="27" width="1" height="1" fill="#bc1040"/><rect x="2" y="27" width="2" height="1" fill="#bc1242"/><rect x="4" y="27" width="4" height="1" fill="#bc1444"/><rect x="8" y="27" width="1" height="1" fill="#be1e4c"/><rect x="9" y="27" width="1" height="1" fill="#be2452"/><rect x="10" y="27" width="1" height="1" fill="#be2c5a"/><rect x="11" y="27" width="1" height="1" fill="#be3462"/><rect x="12" y="27" width="1" height="1" fill="#be3c68"/><rect x="13" y="27" width="1" height="1" fill="#c04a7a"/><rect x="14" y="27" width="1" height="1" fill="#c44c7c"/><rect x="15" y="27" width="1" height="1" fill="#c0609a"/><rect x="16" y="27" width="1" height="1" fill="#9444a0"/><rect x="17" y="27" width="2" height="1" fill="#6a16a0"/><rect x="19" y="27" width="1" height="1" fill="#6e1ca0"/><rect x="20" y="27" width="2" height="1" fill="#7020a0"/><rect x="22" y="27" width="2" height="1" fill="#6e1ca0"/><rect x="24" y="27" width="4" height="1" fill="#6c18a0"/><rect x="0" y="28" width="1" height="1" fill="#c01644"/><rect x="1" y="28" width="1" height="1" fill="#bc1040"/><rect x="2" y="28" width="2" height="1" fill="#bc1242"/><rect x="4" y="28" width="4" height="1" fill="#bc1444"/><rect x="8" y="28" width="1" height="1" fill="#be1e4c"/><rect x="9" y="28" width="1" height="1" fill="#be2452"/><rect x="10" y="28" width="1" height="1" fill="#be2c5a"/><rect x="11" y="28" width="1" height="1" fill="#be3462"/><rect x="12" y="28" width="1" height="1" fill="#be3c68"/><rect x="13" y="28" width="1" height="1" fill="#c04a7a"/><rect x="14" y="28" width="1" height="1" fill="#c44c7c"/><rect x="15" y="28" width="1" height="1" fill="#c0609a"/><rect x="16" y="28" width="1" height="1" fill="#9444a0"/><rect x="17" y="28" width="1" height="1" fill="#6a16a0"/><rect x="18" y="28" width="5" height="1" fill="#6814a0"/><rect x="23" y="28" width="2" height="1" fill="#6a16a0"/><rect x="25" y="28" width="1" height="1" fill="#6c18a0"/><rect x="26" y="28" width="2" height="1" fill="#6612a0"/><rect x="0" y="29" width="1" height="1" fill="#c01644"/><rect x="1" y="29" width="1" height="1" fill="#bc1040"/><rect x="2" y="29" width="2" height="1" fill="#bc1242"/><rect x="4" y="29" width="4" height="1" fill="#bc1444"/><rect x="8" y="29" width="1" height="1" fill="#be1e4c"/><rect x="9" y="29" width="1" height="1" fill="#be2452"/><rect x="10" y="29" width="1" height="1" fill="#be2c5a"/><rect x="11" y="29" width="1" height="1" fill="#be3462"/><rect x="12" y="29" width="1" height="1" fill="#be3c68"/><rect x="13" y="29" width="1" height="1" fill="#c04a7a"/><rect x="14" y="29" width="1" height="1" fill="#c44c7c"/><rect x="15" y="29" width="1" height="1" fill="#c0609a"/><rect x="16" y="29" width="1" height="1" fill="#9444a0"/><rect x="17" y="29" width="1" height="1" fill="#6c18a0"/><rect x="18" y="29" width="3" height="1" fill="#6814a0"/><rect x="21" y="29" width="2" height="1" fill="#6612a0"/><rect x="23" y="29" width="1" height="1" fill="#6814a0"/><rect x="24" y="29" width="2" height="1" fill="#6a16a0"/><rect x="26" y="29" width="1" height="1" fill="#6612a0"/><rect x="27" y="29" width="1" height="1" fill="#6210a0"/><rect x="0" y="30" width="1" height="1" fill="#c01644"/><rect x="1" y="30" width="1" height="1" fill="#bc1040"/><rect x="2" y="30" width="2" height="1" fill="#bc1242"/><rect x="4" y="30" width="4" height="1" fill="#bc1444"/><rect x="8" y="30" width="1" height="1" fill="#be1e4c"/><rect x="9" y="30" width="1" height="1" fill="#be2452"/><rect x="10" y="30" width="1" height="1" fill="#be2c5a"/><rect x="11" y="30" width="1" height="1" fill="#be3462"/><rect x="12" y="30" width="1" height="1" fill="#be3c68"/><rect x="13" y="30" width="1" height="1" fill="#c04a7a"/><rect x="14" y="30" width="1" height="1" fill="#c44a78"/><rect x="15" y="30" width="1" height="1" fill="#c0609a"/><rect x="16" y="30" width="1" height="1" fill="#9848a0"/><rect x="17" y="30" width="1" height="1" fill="#7424a0"/><rect x="18" y="30" width="2" height="1" fill="#6a16a0"/><rect x="20" y="30" width="4" height="1" fill="#6814a0"/><rect x="24" y="30" width="2" height="1" fill="#6612a0"/><rect x="26" y="30" width="2" height="1" fill="#6210a0"/><rect x="0" y="31" width="1" height="1" fill="#c01644"/><rect x="1" y="31" width="1" height="1" fill="#bc1040"/><rect x="2" y="31" width="2" height="1" fill="#bc1242"/><rect x="4" y="31" width="4" height="1" fill="#bc1444"/><rect x="8" y="31" width="1" height="1" fill="#be1e4c"/><rect x="9" y="31" width="1" height="1" fill="#be2452"/><rect x="10" y="31" width="1" height="1" fill="#be2c5a"/><rect x="11" y="31" width="1" height="1" fill="#be3462"/><rect x="12" y="31" width="1" height="1" fill="#be3c68"/><rect x="13" y="31" width="1" height="1" fill="#c04a7a"/><rect x="14" y="31" width="1" height="1" fill="#c44a78"/><rect x="15" y="31" width="1" height="1" fill="#c0609a"/><rect x="16" y="31" width="1" height="1" fill="#9848a0"/><rect x="17" y="31" width="1" height="1" fill="#7828a0"/><rect x="18" y="31" width="1" height="1" fill="#6a16a0"/><rect x="19" y="31" width="1" height="1" fill="#6814a0"/><rect x="20" y="31" width="3" height="1" fill="#6a16a0"/><rect x="23" y="31" width="1" height="1" fill="#6814a0"/><rect x="24" y="31" width="1" height="1" fill="#6612a0"/><rect x="25" y="31" width="1" height="1" fill="#6210a0"/><rect x="26" y="31" width="2" height="1" fill="#6010a0"/><rect x="0" y="32" width="1" height="1" fill="#c01644"/><rect x="1" y="32" width="1" height="1" fill="#bc1040"/><rect x="2" y="32" width="2" height="1" fill="#bc1242"/><rect x="4" y="32" width="4" height="1" fill="#bc1444"/><rect x="8" y="32" width="1" height="1" fill="#be1e4c"/><rect x="9" y="32" width="1" height="1" fill="#be2452"/><rect x="10" y="32" width="1" height="1" fill="#be2c5a"/><rect x="11" y="32" width="1" height="1" fill="#be3462"/><rect x="12" y="32" width="1" height="1" fill="#be3c68"/><rect x="13" y="32" width="1" height="1" fill="#c04a7a"/><rect x="14" y="32" width="1" height="1" fill="#c44a78"/><rect x="15" y="32" width="1" height="1" fill="#c0609a"/><rect x="16" y="32" width="1" height="1" fill="#9848a0"/><rect x="17" y="32" width="1" height="1" fill="#7828a0"/><rect x="18" y="32" width="1" height="1" fill="#6a16a0"/><rect x="19" y="32" width="1" height="1" fill="#6814a0"/><rect x="20" y="32" width="3" height="1" fill="#6a16a0"/><rect x="23" y="32" width="1" height="1" fill="#6814a0"/><rect x="24" y="32" width="1" height="1" fill="#6612a0"/><rect x="25" y="32" width="1" height="1" fill="#6210a0"/><rect x="26" y="32" width="2" height="1" fill="#6010a0"/><rect x="0" y="33" width="1" height="1" fill="#c01444"/><rect x="1" y="33" width="7" height="1" fill="#bc1446"/><rect x="8" y="33" width="1" height="1" fill="#bc1648"/><rect x="9" y="33" width="1" height="1" fill="#be1e4e"/><rect x="10" y="33" width="1" height="1" fill="#be2654"/><rect x="11" y="33" width="1" height="1" fill="#c02e5a"/><rect x="12" y="33" width="1" height="1" fill="#c03864"/><rect x="13" y="33" width="1" height="1" fill="#c04070"/><rect x="14" y="33" width="1" height="1" fill="#c45080"/><rect x="15" y="33" width="1" height="1" fill="#c0609a"/><rect x="16" y="33" width="1" height="1" fill="#9848a0"/><rect x="17" y="33" width="1" height="1" fill="#7c2aa0"/><rect x="18" y="33" width="1" height="1" fill="#7424a0"/><rect x="19" y="33" width="3" height="1" fill="#7020a0"/><rect x="22" y="33" width="3" height="1" fill="#6c1aa0"/><rect x="25" y="33" width="1" height="1" fill="#6814a0"/><rect x="26" y="33" width="2" height="1" fill="#6410a0"/><rect x="0" y="34" width="1" height="1" fill="#c01444"/><rect x="1" y="34" width="4" height="1" fill="#bc1446"/><rect x="5" y="34" width="3" height="1" fill="#bc1648"/><rect x="8" y="34" width="1" height="1" fill="#bc1a4a"/><rect x="9" y="34" width="1" height="1" fill="#be1e4e"/><rect x="10" y="34" width="1" height="1" fill="#be2654"/><rect x="11" y="34" width="1" height="1" fill="#c0305c"/><rect x="12" y="34" width="1" height="1" fill="#c03864"/><rect x="13" y="34" width="1" height="1" fill="#c04272"/><rect x="14" y="34" width="1" height="1" fill="#c45282"/><rect x="15" y="34" width="1" height="1" fill="#c0609a"/><rect x="16" y="34" width="1" height="1" fill="#9444a0"/><rect x="17" y="34" width="1" height="1" fill="#7828a0"/><rect x="18" y="34" width="1" height="1" fill="#7424a0"/><rect x="19" y="34" width="3" height="1" fill="#7020a0"/><rect x="22" y="34" width="1" height="1" fill="#6e1ca0"/><rect x="23" y="34" width="2" height="1" fill="#6c1aa0"/><rect x="25" y="34" width="1" height="1" fill="#6814a0"/><rect x="26" y="34" width="2" height="1" fill="#6410a0"/><rect x="0" y="35" width="1" height="1" fill="#c01444"/><rect x="1" y="35" width="3" height="1" fill="#bc1446"/><rect x="4" y="35" width="2" height="1" fill="#bc1648"/><rect x="6" y="35" width="2" height="1" fill="#bc1a4a"/><rect x="8" y="35" width="1" height="1" fill="#be1c4c"/><rect x="9" y="35" width="1" height="1" fill="#be2050"/><rect x="10" y="35" width="1" height="1" fill="#be2654"/><rect x="11" y="35" width="1" height="1" fill="#c0305c"/><rect x="12" y="35" width="1" height="1" fill="#c03a66"/><rect x="13" y="35" width="1" height="1" fill="#c04474"/><rect x="14" y="35" width="1" height="1" fill="#c45888"/><rect x="15" y="35" width="1" height="1" fill="#b8589c"/><rect x="16" y="35" width="1" height="1" fill="#9040a0"/><rect x="17" y="35" width="1" height="1" fill="#7828a0"/><rect x="18" y="35" width="1" height="1" fill="#7424a0"/><rect x="19" y="35" width="1" height="1" fill="#7222a0"/><rect x="20" y="35" width="2" height="1" fill="#7020a0"/><rect x="22" y="35" width="1" height="1" fill="#6e1ca0"/><rect x="23" y="35" width="2" height="1" fill="#6c1aa0"/><rect x="25" y="35" width="1" height="1" fill="#6a16a0"/><rect x="26" y="35" width="2" height="1" fill="#6814a0"/><rect x="0" y="36" width="1" height="1" fill="#c01444"/><rect x="1" y="36" width="5" height="1" fill="#bc1446"/><rect x="6" y="36" width="1" height="1" fill="#bc1a4a"/><rect x="7" y="36" width="1" height="1" fill="#bc1c4c"/><rect x="8" y="36" width="1" height="1" fill="#be1e4e"/><rect x="9" y="36" width="1" height="1" fill="#be2252"/><rect x="10" y="36" width="1" height="1" fill="#be2856"/><rect x="11" y="36" width="1" height="1" fill="#c0325e"/><rect x="12" y="36" width="1" height="1" fill="#c03c68"/><rect x="13" y="36" width="1" height="1" fill="#c04676"/><rect x="14" y="36" width="1" height="1" fill="#c45c8c"/><rect x="15" y="36" width="1" height="1" fill="#a850a0"/><rect x="16" y="36" width="1" height="1" fill="#8c3ca0"/><rect x="17" y="36" width="1" height="1" fill="#7424a0"/><rect x="18" y="36" width="1" height="1" fill="#7020a0"/><rect x="19" y="36" width="1" height="1" fill="#7222a0"/><rect x="20" y="36" width="1" height="1" fill="#7424a0"/><rect x="21" y="36" width="2" height="1" fill="#7020a0"/><rect x="23" y="36" width="1" height="1" fill="#6e1ca0"/><rect x="24" y="36" width="1" height="1" fill="#6c1aa0"/><rect x="25" y="36" width="1" height="1" fill="#6a16a0"/><rect x="26" y="36" width="2" height="1" fill="#6814a0"/><rect x="0" y="37" width="1" height="1" fill="#c01444"/><rect x="1" y="37" width="5" height="1" fill="#bc1446"/><rect x="6" y="37" width="1" height="1" fill="#bc1c4c"/><rect x="7" y="37" width="1" height="1" fill="#bc1e4e"/><rect x="8" y="37" width="1" height="1" fill="#be2050"/><rect x="9" y="37" width="1" height="1" fill="#be2252"/><rect x="10" y="37" width="1" height="1" fill="#be2a58"/><rect x="11" y="37" width="1" height="1" fill="#c03460"/><rect x="12" y="37" width="1" height="1" fill="#c03e6a"/><rect x="13" y="37" width="1" height="1" fill="#c24a78"/><rect x="14" y="37" width="1" height="1" fill="#c0609a"/><rect x="15" y="37" width="1" height="1" fill="#a04ca0"/><rect x="16" y="37" width="1" height="1" fill="#8434a0"/><rect x="17" y="37" width="2" height="1" fill="#7020a0"/><rect x="19" y="37" width="2" height="1" fill="#7424a0"/><rect x="21" y="37" width="1" height="1" fill="#7222a0"/><rect x="22" y="37" width="1" height="1" fill="#7020a0"/><rect x="23" y="37" width="1" height="1" fill="#6e1ca0"/><rect x="24" y="37" width="1" height="1" fill="#6c1aa0"/><rect x="25" y="37" width="3" height="1" fill="#6a16a0"/><rect x="0" y="38" width="1" height="1" fill="#c01444"/><rect x="1" y="38" width="4" height="1" fill="#bc1648"/><rect x="5" y="38" width="1" height="1" fill="#bc1a4a"/><rect x="6" y="38" width="2" height="1" fill="#be1e4e"/><rect x="8" y="38" width="1" height="1" fill="#be2050"/><rect x="9" y="38" width="1" height="1" fill="#be2454"/><rect x="10" y="38" width="1" height="1" fill="#be2c58"/><rect x="11" y="38" width="1" height="1" fill="#c03662"/><rect x="12" y="38" width="1" height="1" fill="#c04270"/><rect x="13" y="38" width="1" height="1" fill="#c24c7a"/><rect x="14" y="38" width="1" height="1" fill="#bc5c9c"/><rect x="15" y="38" width="1" height="1" fill="#9444a0"/><rect x="16" y="38" width="1" height="1" fill="#8030a0"/><rect x="17" y="38" width="1" height="1" fill="#6e1ca0"/><rect x="18" y="38" width="1" height="1" fill="#7020a0"/><rect x="19" y="38" width="2" height="1" fill="#7424a0"/><rect x="21" y="38" width="1" height="1" fill="#7222a0"/><rect x="22" y="38" width="1" height="1" fill="#7020a0"/><rect x="23" y="38" width="1" height="1" fill="#6e1ca0"/><rect x="24" y="38" width="1" height="1" fill="#6c1aa0"/><rect x="25" y="38" width="3" height="1" fill="#6a16a0"/><rect x="0" y="39" width="1" height="1" fill="#c01444"/><rect x="1" y="39" width="1" height="1" fill="#bc1648"/><rect x="2" y="39" width="2" height="1" fill="#bc1a4a"/><rect x="4" y="39" width="2" height="1" fill="#be1e4e"/><rect x="6" y="39" width="2" height="1" fill="#be2050"/><rect x="8" y="39" width="1" height="1" fill="#be2252"/><rect x="9" y="39" width="1" height="1" fill="#be2656"/><rect x="10" y="39" width="1" height="1" fill="#c02e5a"/><rect x="11" y="39" width="1" height="1" fill="#c03864"/><rect x="12" y="39" width="1" height="1" fill="#c04474"/><rect x="13" y="39" width="1" height="1" fill="#c25080"/><rect x="14" y="39" width="1" height="1" fill="#b0589c"/><rect x="15" y="39" width="1" height="1" fill="#9040a0"/><rect x="16" y="39" width="1" height="1" fill="#7c2ca0"/><rect x="17" y="39" width="1" height="1" fill="#6c18a0"/><rect x="18" y="39" width="1" height="1" fill="#7020a0"/><rect x="19" y="39" width="2" height="1" fill="#7222a0"/><rect x="21" y="39" width="2" height="1" fill="#7020a0"/><rect x="23" y="39" width="1" height="1" fill="#6e1ca0"/><rect x="24" y="39" width="2" height="1" fill="#6c1aa0"/><rect x="26" y="39" width="2" height="1" fill="#6a16a0"/><rect x="0" y="40" width="1" height="1" fill="#c01648"/><rect x="1" y="40" width="1" height="1" fill="#bc1a4a"/><rect x="2" y="40" width="1" height="1" fill="#bc1e4e"/><rect x="3" y="40" width="1" height="1" fill="#be2050"/><rect x="4" y="40" width="2" height="1" fill="#be2252"/><rect x="6" y="40" width="1" height="1" fill="#be2050"/><rect x="7" y="40" width="1" height="1" fill="#be2252"/><rect x="8" y="40" width="1" height="1" fill="#be2454"/><rect x="9" y="40" width="1" height="1" fill="#be2858"/><rect x="10" y="40" width="1" height="1" fill="#c0305c"/><rect x="11" y="40" width="1" height="1" fill="#c03a66"/><rect x="12" y="40" width="1" height="1" fill="#c24876"/><rect x="13" y="40" width="1" height="1" fill="#c25a8a"/><rect x="14" y="40" width="1" height="1" fill="#a850a0"/><rect x="15" y="40" width="1" height="1" fill="#8838a0"/><rect x="16" y="40" width="1" height="1" fill="#7424a0"/><rect x="17" y="40" width="1" height="1" fill="#6c18a0"/><rect x="18" y="40" width="1" height="1" fill="#6e1ca0"/><rect x="19" y="40" width="3" height="1" fill="#7020a0"/><rect x="22" y="40" width="2" height="1" fill="#6e1ca0"/><rect x="24" y="40" width="3" height="1" fill="#6c1aa0"/><rect x="27" y="40" width="1" height="1" fill="#6a16a0"/><rect x="0" y="41" width="1" height="1" fill="#c01a4a"/><rect x="1" y="41" width="1" height="1" fill="#be1e4e"/><rect x="2" y="41" width="1" height="1" fill="#be2050"/><rect x="3" y="41" width="1" height="1" fill="#be2454"/><rect x="4" y="41" width="1" height="1" fill="#be2656"/><rect x="5" y="41" width="1" height="1" fill="#be2454"/><rect x="6" y="41" width="1" height="1" fill="#be2252"/><rect x="7" y="41" width="1" height="1" fill="#be2454"/><rect x="8" y="41" width="1" height="1" fill="#be2656"/><rect x="9" y="41" width="1" height="1" fill="#be2a58"/><rect x="10" y="41" width="1" height="1" fill="#c0325e"/><rect x="11" y="41" width="1" height="1" fill="#c03c68"/><rect x="12" y="41" width="1" height="1" fill="#c45080"/><rect x="13" y="41" width="1" height="1" fill="#c0609a"/><rect x="14" y="41" width="1" height="1" fill="#9848a0"/><rect x="15" y="41" width="1" height="1" fill="#7828a0"/><rect x="16" y="41" width="3" height="1" fill="#6c18a0"/><rect x="19" y="41" width="4" height="1" fill="#7020a0"/><rect x="23" y="41" width="2" height="1" fill="#6e1ca0"/><rect x="25" y="41" width="3" height="1" fill="#6c1aa0"/><rect x="0" y="42" width="1" height="1" fill="#c01c4c"/><rect x="1" y="42" width="1" height="1" fill="#be2050"/><rect x="2" y="42" width="1" height="1" fill="#be2252"/><rect x="3" y="42" width="3" height="1" fill="#be2656"/><rect x="6" y="42" width="2" height="1" fill="#be2454"/><rect x="8" y="42" width="1" height="1" fill="#be2656"/><rect x="9" y="42" width="1" height="1" fill="#be2c58"/><rect x="10" y="42" width="1" height="1" fill="#c03460"/><rect x="11" y="42" width="1" height="1" fill="#c24474"/><rect x="12" y="42" width="1" height="1" fill="#c45c8c"/><rect x="13" y="42" width="1" height="1" fill="#a850a0"/><rect x="14" y="42" width="1" height="1" fill="#8838a0"/><rect x="15" y="42" width="1" height="1" fill="#7020a0"/><rect x="16" y="42" width="2" height="1" fill="#6a16a0"/><rect x="18" y="42" width="1" height="1" fill="#6c18a0"/><rect x="19" y="42" width="1" height="1" fill="#6e1ca0"/><rect x="20" y="42" width="1" height="1" fill="#7020a0"/><rect x="21" y="42" width="2" height="1" fill="#7424a0"/><rect x="23" y="42" width="1" height="1" fill="#7020a0"/><rect x="24" y="42" width="1" height="1" fill="#6e1ca0"/><rect x="25" y="42" width="3" height="1" fill="#6c1aa0"/><rect x="0" y="43" width="1" height="1" fill="#c01e4e"/><rect x="1" y="43" width="1" height="1" fill="#be2252"/><rect x="2" y="43" width="1" height="1" fill="#be2454"/><rect x="3" y="43" width="5" height="1" fill="#be2656"/><rect x="8" y="43" width="1" height="1" fill="#be2858"/><rect x="9" y="43" width="1" height="1" fill="#be2e5a"/><rect x="10" y="43" width="1" height="1" fill="#c03864"/><rect x="11" y="43" width="1" height="1" fill="#c24a78"/><rect x="12" y="43" width="1" height="1" fill="#bc5c9c"/><rect x="13" y="43" width="1" height="1" fill="#8c3ca0"/><rect x="14" y="43" width="1" height="1" fill="#7c2ca0"/><rect x="15" y="43" width="1" height="1" fill="#6c18a0"/><rect x="16" y="43" width="2" height="1" fill="#6a16a0"/><rect x="18" y="43" width="1" height="1" fill="#6c18a0"/><rect x="19" y="43" width="1" height="1" fill="#6e1ca0"/><rect x="20" y="43" width="1" height="1" fill="#7020a0"/><rect x="21" y="43" width="2" height="1" fill="#7424a0"/><rect x="23" y="43" width="1" height="1" fill="#7020a0"/><rect x="24" y="43" width="1" height="1" fill="#6e1ca0"/><rect x="25" y="43" width="3" height="1" fill="#6c1aa0"/><rect x="0" y="44" width="1" height="1" fill="#c22250"/><rect x="1" y="44" width="6" height="1" fill="#be2454"/><rect x="7" y="44" width="1" height="1" fill="#be2a56"/><rect x="8" y="44" width="1" height="1" fill="#c03460"/><rect x="9" y="44" width="1" height="1" fill="#be3c66"/><rect x="10" y="44" width="1" height="1" fill="#c04a78"/><rect x="11" y="44" width="1" height="1" fill="#c8608e"/><rect x="12" y="44" width="1" height="1" fill="#a44ea0"/><rect x="13" y="44" width="1" height="1" fill="#8636a0"/><rect x="14" y="44" width="1" height="1" fill="#7020a0"/><rect x="15" y="44" width="1" height="1" fill="#6a16a0"/><rect x="16" y="44" width="4" height="1" fill="#6c18a0"/><rect x="20" y="44" width="1" height="1" fill="#6e1ca0"/><rect x="21" y="44" width="2" height="1" fill="#7020a0"/><rect x="23" y="44" width="1" height="1" fill="#6e1ca0"/><rect x="24" y="44" width="1" height="1" fill="#6c18a0"/><rect x="25" y="44" width="2" height="1" fill="#6a16a0"/><rect x="27" y="44" width="1" height="1" fill="#6814a0"/><rect x="0" y="45" width="1" height="1" fill="#c22250"/><rect x="1" y="45" width="6" height="1" fill="#be2454"/><rect x="7" y="45" width="1" height="1" fill="#be2c58"/><rect x="8" y="45" width="1" height="1" fill="#c03662"/><rect x="9" y="45" width="1" height="1" fill="#c04070"/><rect x="10" y="45" width="1" height="1" fill="#c25080"/><rect x="11" y="45" width="1" height="1" fill="#c0609a"/><rect x="12" y="45" width="1" height="1" fill="#9a48a0"/><rect x="13" y="45" width="1" height="1" fill="#7a28a0"/><rect x="14" y="45" width="1" height="1" fill="#6a16a0"/><rect x="15" y="45" width="1" height="1" fill="#6814a0"/><rect x="16" y="45" width="2" height="1" fill="#6c18a0"/><rect x="18" y="45" width="2" height="1" fill="#6a16a0"/><rect x="20" y="45" width="1" height="1" fill="#6e1ca0"/><rect x="21" y="45" width="1" height="1" fill="#701ea0"/><rect x="22" y="45" width="1" height="1" fill="#6e1ca0"/><rect x="23" y="45" width="1" height="1" fill="#6c1aa0"/><rect x="24" y="45" width="2" height="1" fill="#6a16a0"/><rect x="26" y="45" width="1" height="1" fill="#6814a0"/><rect x="27" y="45" width="1" height="1" fill="#6610a0"/><rect x="0" y="46" width="1" height="1" fill="#c22250"/><rect x="1" y="46" width="5" height="1" fill="#be2454"/><rect x="6" y="46" width="1" height="1" fill="#be2656"/><rect x="7" y="46" width="1" height="1" fill="#c02e5a"/><rect x="8" y="46" width="1" height="1" fill="#c03864"/><rect x="9" y="46" width="1" height="1" fill="#c04470"/><rect x="10" y="46" width="1" height="1" fill="#c45888"/><rect x="11" y="46" width="1" height="1" fill="#bc5c9c"/><rect x="12" y="46" width="1" height="1" fill="#9444a0"/><rect x="13" y="46" width="1" height="1" fill="#7424a0"/><rect x="14" y="46" width="4" height="1" fill="#6c18a0"/><rect x="18" y="46" width="2" height="1" fill="#6a16a0"/><rect x="20" y="46" width="1" height="1" fill="#7020a0"/><rect x="21" y="46" width="1" height="1" fill="#7420a0"/><rect x="22" y="46" width="1" height="1" fill="#7220a0"/><rect x="23" y="46" width="1" height="1" fill="#7020a0"/><rect x="24" y="46" width="1" height="1" fill="#6c18a0"/><rect x="25" y="46" width="1" height="1" fill="#6a16a0"/><rect x="26" y="46" width="2" height="1" fill="#6410a0"/><rect x="0" y="47" width="1" height="1" fill="#c22250"/><rect x="1" y="47" width="5" height="1" fill="#be2454"/><rect x="6" y="47" width="1" height="1" fill="#be2858"/><rect x="7" y="47" width="1" height="1" fill="#c0305c"/><rect x="8" y="47" width="1" height="1" fill="#c03a66"/><rect x="9" y="47" width="1" height="1" fill="#c24876"/><rect x="10" y="47" width="1" height="1" fill="#c45c8c"/><rect x="11" y="47" width="1" height="1" fill="#b0549c"/><rect x="12" y="47" width="1" height="1" fill="#8c3ca0"/><rect x="13" y="47" width="1" height="1" fill="#7020a0"/><rect x="14" y="47" width="2" height="1" fill="#6c18a0"/><rect x="16" y="47" width="2" height="1" fill="#6e1ca0"/><rect x="18" y="47" width="2" height="1" fill="#6a16a0"/><rect x="20" y="47" width="1" height="1" fill="#6e1ca0"/><rect x="21" y="47" width="2" height="1" fill="#7420a0"/><rect x="23" y="47" width="1" height="1" fill="#701ea0"/><rect x="24" y="47" width="1" height="1" fill="#6c18a0"/><rect x="25" y="47" width="1" height="1" fill="#6a16a0"/><rect x="26" y="47" width="2" height="1" fill="#6410a0"/><rect x="0" y="48" width="1" height="1" fill="#c22452"/><rect x="1" y="48" width="4" height="1" fill="#be2454"/><rect x="5" y="48" width="1" height="1" fill="#be2656"/><rect x="6" y="48" width="1" height="1" fill="#be2c58"/><rect x="7" y="48" width="1" height="1" fill="#c03460"/><rect x="8" y="48" width="1" height="1" fill="#c03e6a"/><rect x="9" y="48" width="1" height="1" fill="#c24c7a"/><rect x="10" y="48" width="1" height="1" fill="#c25c8e"/><rect x="11" y="48" width="1" height="1" fill="#a04ca0"/><rect x="12" y="48" width="1" height="1" fill="#8434a0"/><rect x="13" y="48" width="1" height="1" fill="#6c1aa0"/><rect x="14" y="48" width="2" height="1" fill="#6c18a0"/><rect x="16" y="48" width="2" height="1" fill="#6e1ca0"/><rect x="18" y="48" width="1" height="1" fill="#6a16a0"/><rect x="19" y="48" width="1" height="1" fill="#6c18a0"/><rect x="20" y="48" width="1" height="1" fill="#6e1ca0"/><rect x="21" y="48" width="1" height="1" fill="#6c18a0"/><rect x="22" y="48" width="2" height="1" fill="#6814a0"/><rect x="24" y="48" width="2" height="1" fill="#6a16a0"/><rect x="26" y="48" width="2" height="1" fill="#6814a0"/><rect x="0" y="49" width="1" height="1" fill="#c22452"/><rect x="1" y="49" width="4" height="1" fill="#be2454"/><rect x="5" y="49" width="1" height="1" fill="#be2858"/><rect x="6" y="49" width="1" height="1" fill="#c0305c"/><rect x="7" y="49" width="1" height="1" fill="#c03864"/><rect x="8" y="49" width="1" height="1" fill="#c04470"/><rect x="9" y="49" width="1" height="1" fill="#c25080"/><rect x="10" y="49" width="1" height="1" fill="#bc5c9c"/><rect x="11" y="49" width="1" height="1" fill="#9444a0"/><rect x="12" y="49" width="1" height="1" fill="#7c2ca0"/><rect x="13" y="49" width="1" height="1" fill="#6a16a0"/><rect x="14" y="49" width="2" height="1" fill="#6c18a0"/><rect x="16" y="49" width="3" height="1" fill="#6e1ca0"/><rect x="19" y="49" width="1" height="1" fill="#6c18a0"/><rect x="20" y="49" width="1" height="1" fill="#6e1ca0"/><rect x="21" y="49" width="1" height="1" fill="#6c18a0"/><rect x="22" y="49" width="2" height="1" fill="#6814a0"/><rect x="24" y="49" width="2" height="1" fill="#6a16a0"/><rect x="26" y="49" width="2" height="1" fill="#6814a0"/><rect x="0" y="50" width="1" height="1" fill="#c22653"/><rect x="1" y="50" width="3" height="1" fill="#be2454"/><rect x="4" y="50" width="1" height="1" fill="#be2656"/><rect x="5" y="50" width="1" height="1" fill="#be2a58"/><rect x="6" y="50" width="1" height="1" fill="#c03460"/><rect x="7" y="50" width="1" height="1" fill="#c03c68"/><rect x="8" y="50" width="1" height="1" fill="#c24a78"/><rect x="9" y="50" width="1" height="1" fill="#c25888"/><rect x="10" y="50" width="1" height="1" fill="#b0589c"/><rect x="11" y="50" width="1" height="1" fill="#8c3ca0"/><rect x="12" y="50" width="1" height="1" fill="#7424a0"/><rect x="13" y="50" width="1" height="1" fill="#6814a0"/><rect x="14" y="50" width="2" height="1" fill="#6c18a0"/><rect x="16" y="50" width="2" height="1" fill="#6e1ca0"/><rect x="18" y="50" width="2" height="1" fill="#7020a0"/><rect x="20" y="50" width="1" height="1" fill="#6e1ca0"/><rect x="21" y="50" width="2" height="1" fill="#6c18a0"/><rect x="23" y="50" width="1" height="1" fill="#6a16a0"/><rect x="24" y="50" width="2" height="1" fill="#6410a0"/><rect x="26" y="50" width="2" height="1" fill="#6814a0"/><rect x="0" y="51" width="1" height="1" fill="#c22856"/><rect x="1" y="51" width="2" height="1" fill="#be2454"/><rect x="3" y="51" width="1" height="1" fill="#be2656"/><rect x="4" y="51" width="1" height="1" fill="#be2858"/><rect x="5" y="51" width="1" height="1" fill="#c0305c"/><rect x="6" y="51" width="1" height="1" fill="#c03864"/><rect x="7" y="51" width="1" height="1" fill="#c04470"/><rect x="8" y="51" width="1" height="1" fill="#c24e7c"/><rect x="9" y="51" width="1" height="1" fill="#c0609a"/><rect x="10" y="51" width="1" height="1" fill="#a04ca0"/><rect x="11" y="51" width="1" height="1" fill="#7c2ca0"/><rect x="12" y="51" width="1" height="1" fill="#6c18a0"/><rect x="13" y="51" width="1" height="1" fill="#6610a0"/><rect x="14" y="51" width="1" height="1" fill="#6c18a0"/><rect x="15" y="51" width="1" height="1" fill="#6a16a0"/><rect x="16" y="51" width="1" height="1" fill="#6c18a0"/><rect x="17" y="51" width="3" height="1" fill="#7020a0"/><rect x="20" y="51" width="1" height="1" fill="#6e1ca0"/><rect x="21" y="51" width="1" height="1" fill="#6c18a0"/><rect x="22" y="51" width="1" height="1" fill="#6a16a0"/><rect x="23" y="51" width="1" height="1" fill="#6610a0"/><rect x="24" y="51" width="2" height="1" fill="#6210a0"/><rect x="26" y="51" width="2" height="1" fill="#6814a0"/><rect x="0" y="52" width="1" height="1" fill="#c22856"/><rect x="1" y="52" width="2" height="1" fill="#be2656"/><rect x="3" y="52" width="1" height="1" fill="#be2858"/><rect x="4" y="52" width="1" height="1" fill="#be2a58"/><rect x="5" y="52" width="1" height="1" fill="#c03460"/><rect x="6" y="52" width="1" height="1" fill="#c03c68"/><rect x="7" y="52" width="1" height="1" fill="#c24876"/><rect x="8" y="52" width="1" height="1" fill="#c45888"/><rect x="9" y="52" width="1" height="1" fill="#bc5c9c"/><rect x="10" y="52" width="1" height="1" fill="#9444a0"/><rect x="11" y="52" width="1" height="1" fill="#7424a0"/><rect x="12" y="52" width="1" height="1" fill="#6814a0"/><rect x="13" y="52" width="1" height="1" fill="#6610a0"/><rect x="14" y="52" width="1" height="1" fill="#6814a0"/><rect x="15" y="52" width="1" height="1" fill="#6410a0"/><rect x="16" y="52" width="1" height="1" fill="#6210a0"/><rect x="17" y="52" width="1" height="1" fill="#6410a0"/><rect x="18" y="52" width="2" height="1" fill="#6610a0"/><rect x="20" y="52" width="1" height="1" fill="#6814a0"/><rect x="21" y="52" width="1" height="1" fill="#6610a0"/><rect x="22" y="52" width="2" height="1" fill="#6410a0"/><rect x="24" y="52" width="2" height="1" fill="#6210a0"/><rect x="26" y="52" width="2" height="1" fill="#6410a0"/><rect x="0" y="53" width="1" height="1" fill="#c22a56"/><rect x="1" y="53" width="1" height="1" fill="#c02858"/><rect x="2" y="53" width="1" height="1" fill="#be2858"/><rect x="3" y="53" width="1" height="1" fill="#be2a58"/><rect x="4" y="53" width="1" height="1" fill="#c0305c"/><rect x="5" y="53" width="1" height="1" fill="#c03864"/><rect x="6" y="53" width="1" height="1" fill="#c04070"/><rect x="7" y="53" width="1" height="1" fill="#c25080"/><rect x="8" y="53" width="1" height="1" fill="#c0609a"/><rect x="9" y="53" width="1" height="1" fill="#a44ea0"/><rect x="10" y="53" width="1" height="1" fill="#8838a0"/><rect x="11" y="53" width="1" height="1" fill="#6c18a0"/><rect x="12" y="53" width="1" height="1" fill="#6610a0"/><rect x="13" y="53" width="1" height="1" fill="#6410a0"/><rect x="14" y="53" width="1" height="1" fill="#6610a0"/><rect x="15" y="53" width="1" height="1" fill="#6010a0"/><rect x="16" y="53" width="1" height="1" fill="#5c0aa0"/><rect x="17" y="53" width="1" height="1" fill="#6010a0"/><rect x="18" y="53" width="3" height="1" fill="#6410a0"/><rect x="21" y="53" width="2" height="1" fill="#6210a0"/><rect x="23" y="53" width="1" height="1" fill="#6010a0"/><rect x="24" y="53" width="1" height="1" fill="#5e0ca0"/><rect x="25" y="53" width="3" height="1" fill="#6010a0"/><rect x="0" y="54" width="1" height="1" fill="#c22a56"/><rect x="1" y="54" width="1" height="1" fill="#c02858"/><rect x="2" y="54" width="1" height="1" fill="#be2a58"/><rect x="3" y="54" width="1" height="1" fill="#c02e5a"/><rect x="4" y="54" width="1" height="1" fill="#c03460"/><rect x="5" y="54" width="1" height="1" fill="#c03c68"/><rect x="6" y="54" width="1" height="1" fill="#c24676"/><rect x="7" y="54" width="1" height="1" fill="#c45888"/><rect x="8" y="54" width="1" height="1" fill="#bc5c9c"/><rect x="9" y="54" width="1" height="1" fill="#9444a0"/><rect x="10" y="54" width="1" height="1" fill="#7828a0"/><rect x="11" y="54" width="1" height="1" fill="#6814a0"/><rect x="12" y="54" width="1" height="1" fill="#6410a0"/><rect x="13" y="54" width="1" height="1" fill="#6210a0"/><rect x="14" y="54" width="1" height="1" fill="#6410a0"/><rect x="15" y="54" width="2" height="1" fill="#5c0aa0"/><rect x="17" y="54" width="1" height="1" fill="#600ca0"/><rect x="18" y="54" width="2" height="1" fill="#6010a0"/><rect x="20" y="54" width="1" height="1" fill="#6210a0"/><rect x="21" y="54" width="2" height="1" fill="#6010a0"/><rect x="23" y="54" width="1" height="1" fill="#5e0ca0"/><rect x="24" y="54" width="2" height="1" fill="#5806a0"/><rect x="26" y="54" width="2" height="1" fill="#5c0aa0"/><rect x="0" y="55" width="1" height="1" fill="#c42050"/><rect x="1" y="55" width="3" height="1" fill="#be2454"/><rect x="4" y="55" width="1" height="1" fill="#be2656"/><rect x="5" y="55" width="1" height="1" fill="#c03060"/><rect x="6" y="55" width="1" height="1" fill="#c04270"/><rect x="7" y="55" width="1" height="1" fill="#c45888"/><rect x="8" y="55" width="1" height="1" fill="#bc5c9c"/><rect x="9" y="55" width="1" height="1" fill="#9040a0"/><rect x="10" y="55" width="1" height="1" fill="#7828a0"/><rect x="11" y="55" width="1" height="1" fill="#6c18a0"/><rect x="12" y="55" width="1" height="1" fill="#6a16a0"/><rect x="13" y="55" width="1" height="1" fill="#6814a0"/><rect x="14" y="55" width="2" height="1" fill="#6612a0"/><rect x="16" y="55" width="1" height="1" fill="#6410a0"/><rect x="17" y="55" width="3" height="1" fill="#600ca0"/><rect x="20" y="55" width="2" height="1" fill="#6410a0"/><rect x="22" y="55" width="1" height="1" fill="#600ca0"/><rect x="23" y="55" width="1" height="1" fill="#5c08a0"/><rect x="24" y="55" width="1" height="1" fill="#5806a0"/><rect x="25" y="55" width="2" height="1" fill="#5404a0"/><rect x="27" y="55" width="1" height="1" fill="#5806a0"/><rect x="0" y="56" width="1" height="1" fill="#c42050"/><rect x="1" y="56" width="3" height="1" fill="#be2454"/><rect x="4" y="56" width="1" height="1" fill="#be2858"/><rect x="5" y="56" width="1" height="1" fill="#c03462"/><rect x="6" y="56" width="1" height="1" fill="#c04472"/><rect x="7" y="56" width="1" height="1" fill="#c45c8c"/><rect x="8" y="56" width="1" height="1" fill="#b0589c"/><rect x="9" y="56" width="1" height="1" fill="#8c3ca0"/><rect x="10" y="56" width="1" height="1" fill="#7424a0"/><rect x="11" y="56" width="1" height="1" fill="#6c18a0"/><rect x="12" y="56" width="1" height="1" fill="#6a16a0"/><rect x="13" y="56" width="1" height="1" fill="#6814a0"/><rect x="14" y="56" width="2" height="1" fill="#6612a0"/><rect x="16" y="56" width="1" height="1" fill="#6410a0"/><rect x="17" y="56" width="3" height="1" fill="#600ca0"/><rect x="20" y="56" width="2" height="1" fill="#6612a0"/><rect x="22" y="56" width="1" height="1" fill="#600ca0"/><rect x="23" y="56" width="1" height="1" fill="#5c08a0"/><rect x="24" y="56" width="1" height="1" fill="#5806a0"/><rect x="25" y="56" width="1" height="1" fill="#5404a0"/><rect x="26" y="56" width="2" height="1" fill="#5806a0"/><rect x="0" y="57" width="1" height="1" fill="#c42050"/><rect x="1" y="57" width="2" height="1" fill="#be2454"/><rect x="3" y="57" width="1" height="1" fill="#be2656"/><rect x="4" y="57" width="1" height="1" fill="#be2a58"/><rect x="5" y="57" width="1" height="1" fill="#c03864"/><rect x="6" y="57" width="1" height="1" fill="#c24876"/><rect x="7" y="57" width="1" height="1" fill="#c45c8c"/><rect x="8" y="57" width="1" height="1" fill="#a850a0"/><rect x="9" y="57" width="1" height="1" fill="#8434a0"/><rect x="10" y="57" width="1" height="1" fill="#7020a0"/><rect x="11" y="57" width="2" height="1" fill="#6a16a0"/><rect x="13" y="57" width="1" height="1" fill="#6814a0"/><rect x="14" y="57" width="2" height="1" fill="#6612a0"/><rect x="16" y="57" width="1" height="1" fill="#6410a0"/><rect x="17" y="57" width="3" height="1" fill="#600ca0"/><rect x="20" y="57" width="2" height="1" fill="#6612a0"/><rect x="22" y="57" width="1" height="1" fill="#600ca0"/><rect x="23" y="57" width="5" height="1" fill="#5c08a0"/><rect x="0" y="58" width="1" height="1" fill="#c42050"/><rect x="1" y="58" width="2" height="1" fill="#be2454"/><rect x="3" y="58" width="1" height="1" fill="#be2656"/><rect x="4" y="58" width="1" height="1" fill="#c02c5a"/><rect x="5" y="58" width="1" height="1" fill="#c03c68"/><rect x="6" y="58" width="1" height="1" fill="#c24c7a"/><rect x="7" y="58" width="1" height="1" fill="#c0609a"/><rect x="8" y="58" width="1" height="1" fill="#9c48a0"/><rect x="9" y="58" width="1" height="1" fill="#7c2ca0"/><rect x="10" y="58" width="1" height="1" fill="#6c18a0"/><rect x="11" y="58" width="3" height="1" fill="#6814a0"/><rect x="14" y="58" width="3" height="1" fill="#6410a0"/><rect x="17" y="58" width="1" height="1" fill="#600ca0"/><rect x="18" y="58" width="2" height="1" fill="#5a08a0"/><rect x="20" y="58" width="3" height="1" fill="#600ca0"/><rect x="23" y="58" width="1" height="1" fill="#5c08a0"/><rect x="24" y="58" width="1" height="1" fill="#5a08a0"/><rect x="25" y="58" width="3" height="1" fill="#6410a0"/><rect x="0" y="59" width="1" height="1" fill="#c42050"/><rect x="1" y="59" width="1" height="1" fill="#be2454"/><rect x="2" y="59" width="1" height="1" fill="#be2656"/><rect x="3" y="59" width="1" height="1" fill="#be2858"/><rect x="4" y="59" width="1" height="1" fill="#c0305c"/><rect x="5" y="59" width="1" height="1" fill="#c04070"/><rect x="6" y="59" width="1" height="1" fill="#c25080"/><rect x="7" y="59" width="1" height="1" fill="#c0609a"/><rect x="8" y="59" width="1" height="1" fill="#9444a0"/><rect x="9" y="59" width="1" height="1" fill="#7828a0"/><rect x="10" y="59" width="1" height="1" fill="#6a16a0"/><rect x="11" y="59" width="3" height="1" fill="#6814a0"/><rect x="14" y="59" width="3" height="1" fill="#6410a0"/><rect x="17" y="59" width="1" height="1" fill="#600ca0"/><rect x="18" y="59" width="2" height="1" fill="#5c08a0"/><rect x="20" y="59" width="3" height="1" fill="#600ca0"/><rect x="23" y="59" width="1" height="1" fill="#5e0ca0"/><rect x="24" y="59" width="1" height="1" fill="#5c08a0"/><rect x="25" y="59" width="3" height="1" fill="#6410a0"/><rect x="0" y="60" width="1" height="1" fill="#c42050"/><rect x="1" y="60" width="1" height="1" fill="#be2656"/><rect x="2" y="60" width="1" height="1" fill="#be2858"/><rect x="3" y="60" width="1" height="1" fill="#be2a58"/><rect x="4" y="60" width="1" height="1" fill="#c03460"/><rect x="5" y="60" width="1" height="1" fill="#c03c68"/><rect x="6" y="60" width="1" height="1" fill="#c45888"/><rect x="7" y="60" width="1" height="1" fill="#b0589c"/><rect x="8" y="60" width="1" height="1" fill="#8c3ca0"/><rect x="9" y="60" width="1" height="1" fill="#7020a0"/><rect x="10" y="60" width="1" height="1" fill="#6410a0"/><rect x="11" y="60" width="1" height="1" fill="#6810a0"/><rect x="12" y="60" width="1" height="1" fill="#6a16a0"/><rect x="13" y="60" width="1" height="1" fill="#6814a0"/><rect x="14" y="60" width="2" height="1" fill="#6612a0"/><rect x="16" y="60" width="1" height="1" fill="#6410a0"/><rect x="17" y="60" width="3" height="1" fill="#600ca0"/><rect x="20" y="60" width="2" height="1" fill="#6410a0"/><rect x="22" y="60" width="2" height="1" fill="#600ca0"/><rect x="24" y="60" width="1" height="1" fill="#5e0ca0"/><rect x="25" y="60" width="3" height="1" fill="#600ca0"/><rect x="0" y="61" width="1" height="1" fill="#c42050"/><rect x="1" y="61" width="1" height="1" fill="#be2656"/><rect x="2" y="61" width="1" height="1" fill="#be2858"/><rect x="3" y="61" width="1" height="1" fill="#be2c58"/><rect x="4" y="61" width="1" height="1" fill="#c03462"/><rect x="5" y="61" width="1" height="1" fill="#c04070"/><rect x="6" y="61" width="1" height="1" fill="#c45c8c"/><rect x="7" y="61" width="1" height="1" fill="#a850a0"/><rect x="8" y="61" width="1" height="1" fill="#8434a0"/><rect x="9" y="61" width="1" height="1" fill="#6c18a0"/><rect x="10" y="61" width="1" height="1" fill="#6010a0"/><rect x="11" y="61" width="1" height="1" fill="#6610a0"/><rect x="12" y="61" width="1" height="1" fill="#6814a0"/><rect x="13" y="61" width="1" height="1" fill="#6610a0"/><rect x="14" y="61" width="2" height="1" fill="#6410a0"/><rect x="16" y="61" width="1" height="1" fill="#5e0ca0"/><rect x="17" y="61" width="1" height="1" fill="#5c08a0"/><rect x="18" y="61" width="2" height="1" fill="#600ca0"/><rect x="20" y="61" width="2" height="1" fill="#6410a0"/><rect x="22" y="61" width="6" height="1" fill="#600ca0"/><rect x="0" y="62" width="1" height="1" fill="#c42452"/><rect x="1" y="62" width="1" height="1" fill="#be2656"/><rect x="2" y="62" width="1" height="1" fill="#be2858"/><rect x="3" y="62" width="1" height="1" fill="#c02e5a"/><rect x="4" y="62" width="1" height="1" fill="#c03864"/><rect x="5" y="62" width="1" height="1" fill="#c24a78"/><rect x="6" y="62" width="1" height="1" fill="#c0609a"/><rect x="7" y="62" width="1" height="1" fill="#a04ca0"/><rect x="8" y="62" width="1" height="1" fill="#8030a0"/><rect x="9" y="62" width="1" height="1" fill="#6c18a0"/><rect x="10" y="62" width="1" height="1" fill="#600ca0"/><rect x="11" y="62" width="1" height="1" fill="#6410a0"/><rect x="12" y="62" width="1" height="1" fill="#6610a0"/><rect x="13" y="62" width="3" height="1" fill="#6410a0"/><rect x="16" y="62" width="1" height="1" fill="#600ca0"/><rect x="17" y="62" width="2" height="1" fill="#5806a0"/><rect x="19" y="62" width="1" height="1" fill="#5c08a0"/><rect x="20" y="62" width="1" height="1" fill="#600ca0"/><rect x="21" y="62" width="7" height="1" fill="#6410a0"/><rect x="0" y="63" width="1" height="1" fill="#c42452"/><rect x="1" y="63" width="2" height="1" fill="#be2858"/><rect x="3" y="63" width="1" height="1" fill="#c0305c"/><rect x="4" y="63" width="1" height="1" fill="#c03c68"/><rect x="5" y="63" width="1" height="1" fill="#c24c7a"/><rect x="6" y="63" width="1" height="1" fill="#c0609a"/><rect x="7" y="63" width="1" height="1" fill="#9848a0"/><rect x="8" y="63" width="1" height="1" fill="#7828a0"/><rect x="9" y="63" width="1" height="1" fill="#6a16a0"/><rect x="10" y="63" width="1" height="1" fill="#600ca0"/><rect x="11" y="63" width="1" height="1" fill="#6410a0"/><rect x="12" y="63" width="1" height="1" fill="#6610a0"/><rect x="13" y="63" width="3" height="1" fill="#6410a0"/><rect x="16" y="63" width="1" height="1" fill="#600ca0"/><rect x="17" y="63" width="3" height="1" fill="#5806a0"/><rect x="20" y="63" width="1" height="1" fill="#5c08a0"/><rect x="21" y="63" width="1" height="1" fill="#600ca0"/><rect x="22" y="63" width="6" height="1" fill="#6410a0"/><rect x="0" y="64" width="1" height="1" fill="#c42452"/><rect x="1" y="64" width="1" height="1" fill="#be2858"/><rect x="2" y="64" width="1" height="1" fill="#be2a58"/><rect x="3" y="64" width="1" height="1" fill="#c03462"/><rect x="4" y="64" width="1" height="1" fill="#c24676"/><rect x="5" y="64" width="1" height="1" fill="#c0609a"/><rect x="6" y="64" width="1" height="1" fill="#a850a0"/><rect x="7" y="64" width="1" height="1" fill="#8838a0"/><rect x="8" y="64" width="1" height="1" fill="#7020a0"/><rect x="9" y="64" width="1" height="1" fill="#6410a0"/><rect x="10" y="64" width="1" height="1" fill="#5e0aa0"/><rect x="11" y="64" width="1" height="1" fill="#6210a0"/><rect x="12" y="64" width="4" height="1" fill="#6410a0"/><rect x="16" y="64" width="1" height="1" fill="#600ca0"/><rect x="17" y="64" width="2" height="1" fill="#5c08a0"/><rect x="19" y="64" width="2" height="1" fill="#5404a0"/><rect x="21" y="64" width="1" height="1" fill="#5806a0"/><rect x="22" y="64" width="1" height="1" fill="#5c08a0"/><rect x="23" y="64" width="4" height="1" fill="#6410a0"/><rect x="27" y="64" width="1" height="1" fill="#2020ff"/><rect x="0" y="65" width="1" height="1" fill="#c42452"/><rect x="1" y="65" width="1" height="1" fill="#be2858"/><rect x="2" y="65" width="1" height="1" fill="#be2c58"/><rect x="3" y="65" width="1" height="1" fill="#c03864"/><rect x="4" y="65" width="1" height="1" fill="#c25080"/><rect x="5" y="65" width="1" height="1" fill="#bc6090"/><rect x="6" y="65" width="1" height="1" fill="#a04ca0"/><rect x="7" y="65" width="1" height="1" fill="#8030a0"/><rect x="8" y="65" width="1" height="1" fill="#6e1ca0"/><rect x="9" y="65" width="1" height="1" fill="#6010a0"/><rect x="10" y="65" width="1" height="1" fill="#5c08a0"/><rect x="11" y="65" width="1" height="1" fill="#6010a0"/><rect x="12" y="65" width="4" height="1" fill="#6410a0"/><rect x="16" y="65" width="1" height="1" fill="#600ca0"/><rect x="17" y="65" width="2" height="1" fill="#5c08a0"/><rect x="19" y="65" width="2" height="1" fill="#5404a0"/><rect x="21" y="65" width="1" height="1" fill="#5806a0"/><rect x="22" y="65" width="1" height="1" fill="#5c08a0"/><rect x="23" y="65" width="4" height="1" fill="#6410a0"/><rect x="27" y="65" width="1" height="1" fill="#1414ff"/></g>

<g fill="#000"><circle cx="324.4" cy="62.4" r="1.5"/><circle cx="324.4" cy="81.3" r="1.5"/><circle cx="323.2" cy="99.3" r="1.5"/><circle cx="322.3" cy="117.4" r="1.5"/><circle cx="320.5" cy="136.3" r="1.5"/><circle cx="319.1" cy="151.6" r="1.5"/><circle cx="318.2" cy="154.4" r="1.5"/><circle cx="316.4" cy="173.3" r="1.5"/><circle cx="314.3" cy="191.4" r="1.5"/><circle cx="313.2" cy="209.4" r="1.5"/><circle cx="311.3" cy="228.3" r="1.5"/><circle cx="307.5" cy="246.4" r="1.5"/><circle cx="304.5" cy="265.3" r="1.5"/><circle cx="302.2" cy="283.3" r="1.5"/><circle cx="300.4" cy="298.4" r="1.5"/><circle cx="300.4" cy="302.3" r="1.5"/><circle cx="299.2" cy="320.3" r="1.5"/><circle cx="298.3" cy="338.3" r="1.5"/><circle cx="297.4" cy="357.3" r="1.5"/><circle cx="295.4" cy="375.3" r="1.5"/><circle cx="293.3" cy="394.3" r="1.5"/><circle cx="292.4" cy="412.3" r="1.5"/><circle cx="292.4" cy="430.3" r="1.5"/><circle cx="289.4" cy="449.3" r="1.5"/><circle cx="285.3" cy="467.3" r="1.5"/><circle cx="284.4" cy="486.2" r="1.5"/><circle cx="288.3" cy="504.3" r="1.5"/><circle cx="293.3" cy="522.3" r="1.5"/><circle cx="300.4" cy="541.2" r="1.5"/><circle cx="303.4" cy="559.3" r="1.5"/><circle cx="304.3" cy="578.2" r="1.5"/><circle cx="305.4" cy="596.3" r="1.5"/><circle cx="306.3" cy="614.3" r="1.5"/><circle cx="306.3" cy="633.3" r="1.5"/><circle cx="305.4" cy="651.3" r="1.5"/><circle cx="304.5" cy="670.3" r="1.5"/><circle cx="302.2" cy="688.3" r="1.5"/><circle cx="300.4" cy="695.4" r="1.5"/><circle cx="297.4" cy="707.3" r="1.5"/><circle cx="290.3" cy="725.3" r="1.5"/><circle cx="286.2" cy="743.3" r="1.5"/><circle cx="283.3" cy="762.3" r="1.5"/><circle cx="282.4" cy="767.3" r="1.5"/><circle cx="279.4" cy="780.3" r="1.5"/><circle cx="272.3" cy="799.3" r="1.5"/><circle cx="264.3" cy="817.3" r="1.5"/><circle cx="264.3" cy="819.1" r="1.5"/><circle cx="252.4" cy="835.3" r="1.5"/><circle cx="245.4" cy="849.3" r="1.5"/><circle cx="243.3" cy="854.3" r="1.5"/><circle cx="237.6" cy="872.3" r="1.5"/><circle cx="231.2" cy="891.2" r="1.5"/><circle cx="227.3" cy="906.3" r="1.5"/><circle cx="226.4" cy="909.3" r="1.5"/><circle cx="221.4" cy="927.3" r="1.5"/><circle cx="216.4" cy="946.2" r="1.5"/><circle cx="210.4" cy="964.3" r="1.5"/><circle cx="208.4" cy="970.2" r="1.5"/><circle cx="203.4" cy="983.2" r="1.5"/><circle cx="195.4" cy="1001.3" r="1.5"/><circle cx="190.3" cy="1014.3" r="1.5"/><circle cx="187.4" cy="1019.3" r="1.5"/><circle cx="178.2" cy="1038.3" r="1.5"/><circle cx="172.3" cy="1056.3" r="1.5"/><circle cx="171.4" cy="1060.2" r="1.5"/><circle cx="168.4" cy="1075.3" r="1.5"/><circle cx="165.2" cy="1093.3" r="1.5"/><circle cx="160.2" cy="1112.3" r="1.5"/><circle cx="156.3" cy="1130.3" r="1.5"/><circle cx="153.4" cy="1140.3" r="1.5"/><circle cx="150.4" cy="1148.3" r="1.5"/><circle cx="144.2" cy="1167.3" r="1.5"/><circle cx="141.3" cy="1185.3" r="1.5"/><circle cx="141.3" cy="1204.3" r="1.5"/><circle cx="137.4" cy="1222.3" r="1.5"/><circle cx="135.3" cy="1226.2" r="1.5"/><circle cx="126.4" cy="1240.3" r="1.5"/><circle cx="120.3" cy="1259.3" r="1.5"/><circle cx="1182.2" cy="62.4" r="1.5"/><circle cx="1182.2" cy="81.3" r="1.5"/><circle cx="1181.0" cy="99.3" r="1.5"/><circle cx="1180.1" cy="117.4" r="1.5"/><circle cx="1178.3" cy="136.3" r="1.5"/><circle cx="1176.9" cy="151.6" r="1.5"/><circle cx="1176.0" cy="154.4" r="1.5"/><circle cx="1174.2" cy="173.3" r="1.5"/><circle cx="1172.1" cy="191.4" r="1.5"/><circle cx="1171.0" cy="209.4" r="1.5"/><circle cx="1169.1" cy="228.3" r="1.5"/><circle cx="1165.3" cy="246.4" r="1.5"/><circle cx="1162.3" cy="265.3" r="1.5"/><circle cx="1160.0" cy="283.3" r="1.5"/><circle cx="1158.2" cy="298.4" r="1.5"/><circle cx="1158.2" cy="302.3" r="1.5"/><circle cx="1157.0" cy="320.3" r="1.5"/><circle cx="1156.1" cy="338.3" r="1.5"/><circle cx="1155.2" cy="357.3" r="1.5"/><circle cx="1153.2" cy="375.3" r="1.5"/><circle cx="1151.1" cy="394.3" r="1.5"/><circle cx="1150.2" cy="412.3" r="1.5"/><circle cx="1150.2" cy="430.3" r="1.5"/><circle cx="1147.2" cy="449.3" r="1.5"/><circle cx="1143.1" cy="467.3" r="1.5"/><circle cx="1142.2" cy="486.2" r="1.5"/><circle cx="1146.1" cy="504.3" r="1.5"/><circle cx="1151.1" cy="522.3" r="1.5"/><circle cx="1158.2" cy="541.2" r="1.5"/><circle cx="1161.2" cy="559.3" r="1.5"/><circle cx="1162.1" cy="578.2" r="1.5"/><circle cx="1163.2" cy="596.3" r="1.5"/><circle cx="1164.1" cy="614.3" r="1.5"/><circle cx="1164.1" cy="633.3" r="1.5"/><circle cx="1163.2" cy="651.3" r="1.5"/><circle cx="1162.3" cy="670.3" r="1.5"/><circle cx="1160.0" cy="688.3" r="1.5"/><circle cx="1158.2" cy="695.4" r="1.5"/><circle cx="1155.2" cy="707.3" r="1.5"/><circle cx="1148.1" cy="725.3" r="1.5"/><circle cx="1144.0" cy="743.3" r="1.5"/><circle cx="1141.1" cy="762.3" r="1.5"/><circle cx="1140.2" cy="767.3" r="1.5"/><circle cx="1137.2" cy="780.3" r="1.5"/><circle cx="1130.1" cy="799.3" r="1.5"/><circle cx="1122.1" cy="817.3" r="1.5"/><circle cx="1122.1" cy="819.1" r="1.5"/><circle cx="1110.2" cy="835.3" r="1.5"/><circle cx="1103.2" cy="849.3" r="1.5"/><circle cx="1101.1" cy="854.3" r="1.5"/><circle cx="1095.4" cy="872.3" r="1.5"/><circle cx="1089.0" cy="891.2" r="1.5"/><circle cx="1085.1" cy="906.3" r="1.5"/><circle cx="1084.2" cy="909.3" r="1.5"/><circle cx="1079.2" cy="927.3" r="1.5"/><circle cx="1074.2" cy="946.2" r="1.5"/><circle cx="1068.2" cy="964.3" r="1.5"/><circle cx="1066.2" cy="970.2" r="1.5"/><circle cx="1061.2" cy="983.2" r="1.5"/><circle cx="1053.2" cy="1001.3" r="1.5"/><circle cx="1048.1" cy="1014.3" r="1.5"/><circle cx="1045.2" cy="1019.3" r="1.5"/><circle cx="1036.0" cy="1038.3" r="1.5"/><circle cx="1030.1" cy="1056.3" r="1.5"/><circle cx="1029.2" cy="1060.2" r="1.5"/><circle cx="1026.2" cy="1075.3" r="1.5"/><circle cx="1023.0" cy="1093.3" r="1.5"/><circle cx="1018.0" cy="1112.3" r="1.5"/><circle cx="1014.1" cy="1130.3" r="1.5"/><circle cx="1011.2" cy="1140.3" r="1.5"/><circle cx="1008.2" cy="1148.3" r="1.5"/><circle cx="1002.0" cy="1167.3" r="1.5"/><circle cx="999.1" cy="1185.3" r="1.5"/><circle cx="999.1" cy="1204.3" r="1.5"/><circle cx="995.2" cy="1222.3" r="1.5"/><circle cx="993.1" cy="1226.2" r="1.5"/><circle cx="984.2" cy="1240.3" r="1.5"/><circle cx="978.1" cy="1259.3" r="1.5"/><circle cx="2039.6" cy="62.4" r="1.5"/><circle cx="2039.6" cy="81.3" r="1.5"/><circle cx="2038.4" cy="99.3" r="1.5"/><circle cx="2037.5" cy="117.4" r="1.5"/><circle cx="2035.7" cy="136.3" r="1.5"/><circle cx="2034.3" cy="151.6" r="1.5"/><circle cx="2033.4" cy="154.4" r="1.5"/><circle cx="2031.6" cy="173.3" r="1.5"/><circle cx="2029.5" cy="191.4" r="1.5"/><circle cx="2028.4" cy="209.4" r="1.5"/><circle cx="2026.5" cy="228.3" r="1.5"/><circle cx="2022.7" cy="246.4" r="1.5"/><circle cx="2019.7" cy="265.3" r="1.5"/><circle cx="2017.4" cy="283.3" r="1.5"/><circle cx="2015.6" cy="298.4" r="1.5"/><circle cx="2015.6" cy="302.3" r="1.5"/><circle cx="2014.4" cy="320.3" r="1.5"/><circle cx="2013.5" cy="338.3" r="1.5"/><circle cx="2012.6" cy="357.3" r="1.5"/><circle cx="2010.6" cy="375.3" r="1.5"/><circle cx="2008.5" cy="394.3" r="1.5"/><circle cx="2007.6" cy="412.3" r="1.5"/><circle cx="2007.6" cy="430.3" r="1.5"/><circle cx="2004.6" cy="449.3" r="1.5"/><circle cx="2000.5" cy="467.3" r="1.5"/><circle cx="1999.6" cy="486.2" r="1.5"/><circle cx="2003.5" cy="504.3" r="1.5"/><circle cx="2008.5" cy="522.3" r="1.5"/><circle cx="2015.6" cy="541.2" r="1.5"/><circle cx="2018.6" cy="559.3" r="1.5"/><circle cx="2019.5" cy="578.2" r="1.5"/><circle cx="2020.6" cy="596.3" r="1.5"/><circle cx="2021.5" cy="614.3" r="1.5"/><circle cx="2021.5" cy="633.3" r="1.5"/><circle cx="2020.6" cy="651.3" r="1.5"/><circle cx="2019.7" cy="670.3" r="1.5"/><circle cx="2017.4" cy="688.3" r="1.5"/><circle cx="2015.6" cy="695.4" r="1.5"/><circle cx="2012.6" cy="707.3" r="1.5"/><circle cx="2005.5" cy="725.3" r="1.5"/><circle cx="2001.4" cy="743.3" r="1.5"/><circle cx="1998.5" cy="762.3" r="1.5"/><circle cx="1997.6" cy="767.3" r="1.5"/><circle cx="1994.6" cy="780.3" r="1.5"/><circle cx="1987.5" cy="799.3" r="1.5"/><circle cx="1979.5" cy="817.3" r="1.5"/><circle cx="1979.5" cy="819.1" r="1.5"/><circle cx="1967.6" cy="835.3" r="1.5"/><circle cx="1960.6" cy="849.3" r="1.5"/><circle cx="1958.5" cy="854.3" r="1.5"/><circle cx="1952.8" cy="872.3" r="1.5"/><circle cx="1946.4" cy="891.2" r="1.5"/><circle cx="1942.5" cy="906.3" r="1.5"/><circle cx="1941.6" cy="909.3" r="1.5"/><circle cx="1936.6" cy="927.3" r="1.5"/><circle cx="1931.6" cy="946.2" r="1.5"/><circle cx="1925.6" cy="964.3" r="1.5"/><circle cx="1923.6" cy="970.2" r="1.5"/><circle cx="1918.6" cy="983.2" r="1.5"/><circle cx="1910.6" cy="1001.3" r="1.5"/><circle cx="1905.5" cy="1014.3" r="1.5"/><circle cx="1902.6" cy="1019.3" r="1.5"/><circle cx="1893.4" cy="1038.3" r="1.5"/><circle cx="1887.5" cy="1056.3" r="1.5"/><circle cx="1886.6" cy="1060.2" r="1.5"/><circle cx="1883.6" cy="1075.3" r="1.5"/><circle cx="1880.4" cy="1093.3" r="1.5"/><circle cx="1875.4" cy="1112.3" r="1.5"/><circle cx="1871.5" cy="1130.3" r="1.5"/><circle cx="1868.6" cy="1140.3" r="1.5"/><circle cx="1865.6" cy="1148.3" r="1.5"/><circle cx="1859.4" cy="1167.3" r="1.5"/><circle cx="1856.5" cy="1185.3" r="1.5"/><circle cx="1856.5" cy="1204.3" r="1.5"/><circle cx="1852.6" cy="1222.3" r="1.5"/><circle cx="1850.5" cy="1226.2" r="1.5"/><circle cx="1841.6" cy="1240.3" r="1.5"/><circle cx="1835.5" cy="1259.3" r="1.5"/></g>
</svg>
</body></html>
